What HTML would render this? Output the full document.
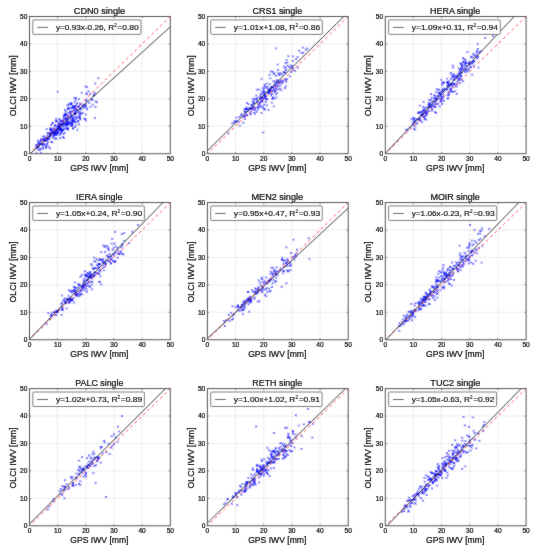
<!DOCTYPE html><html><head><meta charset="utf-8"><style>html,body{margin:0;padding:0;background:#fff;}svg{display:block;will-change:transform;}text{font-family:"Liberation Sans",sans-serif;fill:#111;stroke:#111;stroke-width:0.24;}</style></head><body>
<svg width="537" height="550" viewBox="0 0 537 550">
<defs><filter id="soft" x="0" y="0" width="537" height="550" filterUnits="userSpaceOnUse" color-interpolation-filters="sRGB"><feConvolveMatrix order="3" kernelMatrix="0.015 0.075 0.015 0.075 0.64 0.075 0.015 0.075 0.015" divisor="1" edgeMode="duplicate" preserveAlpha="true"/></filter></defs>
<g filter="url(#soft)">
<rect width="537" height="550" fill="#fff"/>
<clipPath id="c0"><rect x="29.50" y="16.50" width="140.80" height="137.20"/></clipPath>
<path d="M57.66 16.50V153.70M85.82 16.50V153.70M113.98 16.50V153.70M142.14 16.50V153.70" stroke="#d8d8d8" stroke-width="0.90" stroke-dasharray="1 1" stroke-dashoffset="1.50" fill="none"/>
<path d="M29.50 126.26H170.30M29.50 98.82H170.30M29.50 71.38H170.30M29.50 43.94H170.30" stroke="#d8d8d8" stroke-width="0.90" stroke-dasharray="1 1" stroke-dashoffset="1.50" fill="none"/>
<path d="M59.5 128.2l1.9 1.9M59.5 130.1l1.9 -1.9M75.2 108.4l1.9 1.9M75.2 110.3l1.9 -1.9M55.1 137.6l1.9 1.9M55.1 139.5l1.9 -1.9M52.4 128.8l1.9 1.9M52.4 130.7l1.9 -1.9M40.1 139.6l1.9 1.9M40.1 141.5l1.9 -1.9M43.6 144.3l1.9 1.9M43.6 146.2l1.9 -1.9M45.5 143.5l1.9 1.9M45.5 145.4l1.9 -1.9M51.9 132.0l1.9 1.9M51.9 133.9l1.9 -1.9M59.1 137.2l1.9 1.9M59.1 139.1l1.9 -1.9M54.1 132.3l1.9 1.9M54.1 134.2l1.9 -1.9M70.7 122.1l1.9 1.9M70.7 124.0l1.9 -1.9M43.2 137.5l1.9 1.9M43.2 139.4l1.9 -1.9M92.7 94.5l1.9 1.9M92.7 96.4l1.9 -1.9M37.8 141.4l1.9 1.9M37.8 143.3l1.9 -1.9M63.6 131.9l1.9 1.9M63.6 133.8l1.9 -1.9M55.5 129.0l1.9 1.9M55.5 130.9l1.9 -1.9M56.6 128.6l1.9 1.9M56.6 130.5l1.9 -1.9M39.7 147.7l1.9 1.9M39.7 149.6l1.9 -1.9M39.1 149.3l1.9 1.9M39.1 151.2l1.9 -1.9M72.2 118.4l1.9 1.9M72.2 120.3l1.9 -1.9M76.4 129.0l1.9 1.9M76.4 130.9l1.9 -1.9M52.8 127.1l1.9 1.9M52.8 129.0l1.9 -1.9M59.6 129.5l1.9 1.9M59.6 131.4l1.9 -1.9M74.9 124.4l1.9 1.9M74.9 126.3l1.9 -1.9M67.2 108.4l1.9 1.9M67.2 110.3l1.9 -1.9M38.1 142.6l1.9 1.9M38.1 144.5l1.9 -1.9M42.6 139.2l1.9 1.9M42.6 141.1l1.9 -1.9M37.1 143.2l1.9 1.9M37.1 145.1l1.9 -1.9M75.7 109.6l1.9 1.9M75.7 111.5l1.9 -1.9M47.0 132.6l1.9 1.9M47.0 134.5l1.9 -1.9M60.9 130.3l1.9 1.9M60.9 132.2l1.9 -1.9M79.0 110.6l1.9 1.9M79.0 112.5l1.9 -1.9M58.9 124.2l1.9 1.9M58.9 126.1l1.9 -1.9M54.9 134.1l1.9 1.9M54.9 136.0l1.9 -1.9M58.4 122.0l1.9 1.9M58.4 123.9l1.9 -1.9M71.0 121.3l1.9 1.9M71.0 123.2l1.9 -1.9M77.9 98.2l1.9 1.9M77.9 100.1l1.9 -1.9M41.6 144.4l1.9 1.9M41.6 146.3l1.9 -1.9M72.9 105.9l1.9 1.9M72.9 107.8l1.9 -1.9M89.3 92.8l1.9 1.9M89.3 94.7l1.9 -1.9M69.8 119.0l1.9 1.9M69.8 120.9l1.9 -1.9M46.7 131.9l1.9 1.9M46.7 133.8l1.9 -1.9M77.8 105.4l1.9 1.9M77.8 107.3l1.9 -1.9M46.8 141.0l1.9 1.9M46.8 142.9l1.9 -1.9M61.3 128.6l1.9 1.9M61.3 130.5l1.9 -1.9M67.4 112.0l1.9 1.9M67.4 113.9l1.9 -1.9M59.7 120.1l1.9 1.9M59.7 122.0l1.9 -1.9M51.9 122.0l1.9 1.9M51.9 123.9l1.9 -1.9M44.9 137.1l1.9 1.9M44.9 139.0l1.9 -1.9M36.5 146.6l1.9 1.9M36.5 148.5l1.9 -1.9M64.3 113.5l1.9 1.9M64.3 115.4l1.9 -1.9M43.0 139.0l1.9 1.9M43.0 140.9l1.9 -1.9M43.6 135.3l1.9 1.9M43.6 137.2l1.9 -1.9M59.1 128.5l1.9 1.9M59.1 130.4l1.9 -1.9M46.3 139.0l1.9 1.9M46.3 140.9l1.9 -1.9M57.8 125.7l1.9 1.9M57.8 127.6l1.9 -1.9M42.0 147.9l1.9 1.9M42.0 149.8l1.9 -1.9M67.1 128.5l1.9 1.9M67.1 130.4l1.9 -1.9M58.5 126.7l1.9 1.9M58.5 128.6l1.9 -1.9M39.9 152.1l1.9 1.9M39.9 154.0l1.9 -1.9M44.3 139.8l1.9 1.9M44.3 141.7l1.9 -1.9M73.8 96.9l1.9 1.9M73.8 98.8l1.9 -1.9M54.1 124.1l1.9 1.9M54.1 126.0l1.9 -1.9M55.3 120.0l1.9 1.9M55.3 121.9l1.9 -1.9M59.3 128.9l1.9 1.9M59.3 130.8l1.9 -1.9M63.3 128.0l1.9 1.9M63.3 129.9l1.9 -1.9M66.0 124.3l1.9 1.9M66.0 126.2l1.9 -1.9M60.4 130.7l1.9 1.9M60.4 132.6l1.9 -1.9M80.4 108.4l1.9 1.9M80.4 110.3l1.9 -1.9M45.7 128.2l1.9 1.9M45.7 130.1l1.9 -1.9M52.3 134.7l1.9 1.9M52.3 136.6l1.9 -1.9M69.9 103.3l1.9 1.9M69.9 105.2l1.9 -1.9M66.2 121.9l1.9 1.9M66.2 123.8l1.9 -1.9M42.0 135.5l1.9 1.9M42.0 137.4l1.9 -1.9M75.2 118.0l1.9 1.9M75.2 119.9l1.9 -1.9M46.6 134.7l1.9 1.9M46.6 136.6l1.9 -1.9M70.2 113.4l1.9 1.9M70.2 115.3l1.9 -1.9M72.5 117.9l1.9 1.9M72.5 119.8l1.9 -1.9M74.6 112.7l1.9 1.9M74.6 114.6l1.9 -1.9M72.8 118.8l1.9 1.9M72.8 120.7l1.9 -1.9M76.0 116.8l1.9 1.9M76.0 118.7l1.9 -1.9M52.6 137.4l1.9 1.9M52.6 139.3l1.9 -1.9M50.1 127.8l1.9 1.9M50.1 129.7l1.9 -1.9M71.0 110.4l1.9 1.9M71.0 112.3l1.9 -1.9M56.0 127.1l1.9 1.9M56.0 129.0l1.9 -1.9M81.7 112.2l1.9 1.9M81.7 114.1l1.9 -1.9M67.8 107.5l1.9 1.9M67.8 109.4l1.9 -1.9M61.7 125.7l1.9 1.9M61.7 127.6l1.9 -1.9M47.8 145.9l1.9 1.9M47.8 147.8l1.9 -1.9M71.3 124.7l1.9 1.9M71.3 126.6l1.9 -1.9M60.4 132.3l1.9 1.9M60.4 134.2l1.9 -1.9M62.3 123.2l1.9 1.9M62.3 125.1l1.9 -1.9M61.1 120.6l1.9 1.9M61.1 122.5l1.9 -1.9M50.3 124.0l1.9 1.9M50.3 125.9l1.9 -1.9M74.0 116.1l1.9 1.9M74.0 118.0l1.9 -1.9M58.8 118.7l1.9 1.9M58.8 120.6l1.9 -1.9M40.0 143.0l1.9 1.9M40.0 144.9l1.9 -1.9M64.9 118.7l1.9 1.9M64.9 120.6l1.9 -1.9M42.7 139.3l1.9 1.9M42.7 141.2l1.9 -1.9M57.7 127.8l1.9 1.9M57.7 129.7l1.9 -1.9M74.0 126.2l1.9 1.9M74.0 128.1l1.9 -1.9M60.9 129.1l1.9 1.9M60.9 131.0l1.9 -1.9M75.4 121.3l1.9 1.9M75.4 123.2l1.9 -1.9M69.3 116.9l1.9 1.9M69.3 118.8l1.9 -1.9M37.7 145.1l1.9 1.9M37.7 147.0l1.9 -1.9M82.5 105.3l1.9 1.9M82.5 107.2l1.9 -1.9M61.5 124.2l1.9 1.9M61.5 126.1l1.9 -1.9M88.3 101.9l1.9 1.9M88.3 103.8l1.9 -1.9M37.7 146.6l1.9 1.9M37.7 148.5l1.9 -1.9M44.1 139.2l1.9 1.9M44.1 141.1l1.9 -1.9M84.3 118.0l1.9 1.9M84.3 119.9l1.9 -1.9M68.6 122.6l1.9 1.9M68.6 124.5l1.9 -1.9M49.4 127.6l1.9 1.9M49.4 129.5l1.9 -1.9M69.5 112.8l1.9 1.9M69.5 114.7l1.9 -1.9M74.9 97.2l1.9 1.9M74.9 99.1l1.9 -1.9M80.1 112.4l1.9 1.9M80.1 114.3l1.9 -1.9M77.2 109.5l1.9 1.9M77.2 111.4l1.9 -1.9M37.3 148.9l1.9 1.9M37.3 150.8l1.9 -1.9M36.2 145.0l1.9 1.9M36.2 146.9l1.9 -1.9M37.7 142.7l1.9 1.9M37.7 144.6l1.9 -1.9M41.7 143.3l1.9 1.9M41.7 145.2l1.9 -1.9M70.6 103.2l1.9 1.9M70.6 105.1l1.9 -1.9M52.2 130.9l1.9 1.9M52.2 132.8l1.9 -1.9M66.6 118.1l1.9 1.9M66.6 120.0l1.9 -1.9M70.8 106.7l1.9 1.9M70.8 108.6l1.9 -1.9M35.6 152.0l1.9 1.9M35.6 153.9l1.9 -1.9M53.6 131.6l1.9 1.9M53.6 133.5l1.9 -1.9M60.5 128.2l1.9 1.9M60.5 130.1l1.9 -1.9M85.8 93.2l1.9 1.9M85.8 95.1l1.9 -1.9M53.5 131.2l1.9 1.9M53.5 133.1l1.9 -1.9M65.1 118.4l1.9 1.9M65.1 120.3l1.9 -1.9M53.1 133.8l1.9 1.9M53.1 135.7l1.9 -1.9M67.9 103.2l1.9 1.9M67.9 105.1l1.9 -1.9M59.4 125.2l1.9 1.9M59.4 127.1l1.9 -1.9M69.1 111.2l1.9 1.9M69.1 113.1l1.9 -1.9M85.7 98.8l1.9 1.9M85.7 100.7l1.9 -1.9M63.0 125.6l1.9 1.9M63.0 127.5l1.9 -1.9M36.9 139.8l1.9 1.9M36.9 141.7l1.9 -1.9M40.1 143.0l1.9 1.9M40.1 144.9l1.9 -1.9M48.6 138.0l1.9 1.9M48.6 139.9l1.9 -1.9M39.1 140.6l1.9 1.9M39.1 142.5l1.9 -1.9M45.0 145.9l1.9 1.9M45.0 147.8l1.9 -1.9M56.6 130.9l1.9 1.9M56.6 132.8l1.9 -1.9M72.9 109.3l1.9 1.9M72.9 111.2l1.9 -1.9M65.0 113.1l1.9 1.9M65.0 115.0l1.9 -1.9M38.2 143.5l1.9 1.9M38.2 145.4l1.9 -1.9M47.9 137.6l1.9 1.9M47.9 139.5l1.9 -1.9M74.2 113.1l1.9 1.9M74.2 115.0l1.9 -1.9M58.8 128.2l1.9 1.9M58.8 130.1l1.9 -1.9M40.9 143.2l1.9 1.9M40.9 145.1l1.9 -1.9M51.2 122.4l1.9 1.9M51.2 124.3l1.9 -1.9M64.7 124.0l1.9 1.9M64.7 125.9l1.9 -1.9M52.4 135.9l1.9 1.9M52.4 137.8l1.9 -1.9M68.5 122.7l1.9 1.9M68.5 124.6l1.9 -1.9M82.8 106.9l1.9 1.9M82.8 108.8l1.9 -1.9M66.9 115.2l1.9 1.9M66.9 117.1l1.9 -1.9M45.9 144.7l1.9 1.9M45.9 146.6l1.9 -1.9M50.4 141.1l1.9 1.9M50.4 143.0l1.9 -1.9M55.5 132.5l1.9 1.9M55.5 134.4l1.9 -1.9M65.0 127.0l1.9 1.9M65.0 128.9l1.9 -1.9M45.7 136.9l1.9 1.9M45.7 138.8l1.9 -1.9M36.1 146.6l1.9 1.9M36.1 148.5l1.9 -1.9M45.9 138.8l1.9 1.9M45.9 140.7l1.9 -1.9M66.8 108.2l1.9 1.9M66.8 110.1l1.9 -1.9M57.3 123.8l1.9 1.9M57.3 125.7l1.9 -1.9M64.3 117.7l1.9 1.9M64.3 119.6l1.9 -1.9M51.6 131.6l1.9 1.9M51.6 133.5l1.9 -1.9M72.1 127.5l1.9 1.9M72.1 129.4l1.9 -1.9M61.1 129.8l1.9 1.9M61.1 131.7l1.9 -1.9M55.1 117.9l1.9 1.9M55.1 119.8l1.9 -1.9M47.4 137.3l1.9 1.9M47.4 139.2l1.9 -1.9M61.8 121.5l1.9 1.9M61.8 123.4l1.9 -1.9M58.7 125.2l1.9 1.9M58.7 127.1l1.9 -1.9M49.2 127.8l1.9 1.9M49.2 129.7l1.9 -1.9M48.9 132.5l1.9 1.9M48.9 134.4l1.9 -1.9M66.3 116.6l1.9 1.9M66.3 118.5l1.9 -1.9M49.5 133.8l1.9 1.9M49.5 135.7l1.9 -1.9M79.9 103.4l1.9 1.9M79.9 105.3l1.9 -1.9M49.2 132.8l1.9 1.9M49.2 134.7l1.9 -1.9M64.7 116.8l1.9 1.9M64.7 118.7l1.9 -1.9M50.6 130.4l1.9 1.9M50.6 132.3l1.9 -1.9M62.1 120.5l1.9 1.9M62.1 122.4l1.9 -1.9M66.1 124.2l1.9 1.9M66.1 126.1l1.9 -1.9M84.3 105.0l1.9 1.9M84.3 106.9l1.9 -1.9M48.7 134.6l1.9 1.9M48.7 136.5l1.9 -1.9M35.1 144.1l1.9 1.9M35.1 146.0l1.9 -1.9M62.9 114.6l1.9 1.9M62.9 116.5l1.9 -1.9M72.2 115.9l1.9 1.9M72.2 117.8l1.9 -1.9M80.7 91.8l1.9 1.9M80.7 93.7l1.9 -1.9M87.5 90.3l1.9 1.9M87.5 92.2l1.9 -1.9M41.9 146.4l1.9 1.9M41.9 148.3l1.9 -1.9M69.7 121.6l1.9 1.9M69.7 123.5l1.9 -1.9M78.9 113.8l1.9 1.9M78.9 115.7l1.9 -1.9M79.9 106.7l1.9 1.9M79.9 108.6l1.9 -1.9M69.7 103.3l1.9 1.9M69.7 105.2l1.9 -1.9M73.9 106.9l1.9 1.9M73.9 108.8l1.9 -1.9M57.1 125.3l1.9 1.9M57.1 127.2l1.9 -1.9M55.8 129.0l1.9 1.9M55.8 130.9l1.9 -1.9M53.5 134.6l1.9 1.9M53.5 136.5l1.9 -1.9M63.9 113.5l1.9 1.9M63.9 115.4l1.9 -1.9M59.0 122.7l1.9 1.9M59.0 124.6l1.9 -1.9M70.0 101.8l1.9 1.9M70.0 103.7l1.9 -1.9M84.5 105.7l1.9 1.9M84.5 107.6l1.9 -1.9M57.9 123.7l1.9 1.9M57.9 125.6l1.9 -1.9M73.5 113.1l1.9 1.9M73.5 115.0l1.9 -1.9M51.8 132.8l1.9 1.9M51.8 134.7l1.9 -1.9M40.2 139.5l1.9 1.9M40.2 141.4l1.9 -1.9M61.2 123.8l1.9 1.9M61.2 125.7l1.9 -1.9M50.9 129.7l1.9 1.9M50.9 131.6l1.9 -1.9M79.3 118.6l1.9 1.9M79.3 120.5l1.9 -1.9M84.8 113.5l1.9 1.9M84.8 115.4l1.9 -1.9M55.5 120.2l1.9 1.9M55.5 122.1l1.9 -1.9M94.9 100.4l1.9 1.9M94.9 102.3l1.9 -1.9M54.6 137.8l1.9 1.9M54.6 139.7l1.9 -1.9M58.4 118.2l1.9 1.9M58.4 120.1l1.9 -1.9M63.3 115.1l1.9 1.9M63.3 117.0l1.9 -1.9M68.0 121.3l1.9 1.9M68.0 123.2l1.9 -1.9M49.5 132.4l1.9 1.9M49.5 134.3l1.9 -1.9M83.4 117.7l1.9 1.9M83.4 119.6l1.9 -1.9M61.9 128.9l1.9 1.9M61.9 130.8l1.9 -1.9M62.1 120.4l1.9 1.9M62.1 122.3l1.9 -1.9M64.7 110.9l1.9 1.9M64.7 112.8l1.9 -1.9M54.5 131.3l1.9 1.9M54.5 133.2l1.9 -1.9M49.3 131.9l1.9 1.9M49.3 133.8l1.9 -1.9M66.2 124.3l1.9 1.9M66.2 126.2l1.9 -1.9M74.4 104.8l1.9 1.9M74.4 106.7l1.9 -1.9M66.9 118.7l1.9 1.9M66.9 120.6l1.9 -1.9M43.7 139.7l1.9 1.9M43.7 141.6l1.9 -1.9M56.3 125.1l1.9 1.9M56.3 127.0l1.9 -1.9M70.4 114.3l1.9 1.9M70.4 116.2l1.9 -1.9M74.1 111.2l1.9 1.9M74.1 113.1l1.9 -1.9M72.1 105.2l1.9 1.9M72.1 107.1l1.9 -1.9M54.0 125.0l1.9 1.9M54.0 126.9l1.9 -1.9M40.1 138.3l1.9 1.9M40.1 140.2l1.9 -1.9M63.9 114.0l1.9 1.9M63.9 115.9l1.9 -1.9M62.8 116.8l1.9 1.9M62.8 118.7l1.9 -1.9M70.5 115.9l1.9 1.9M70.5 117.8l1.9 -1.9M77.7 105.4l1.9 1.9M77.7 107.3l1.9 -1.9M58.8 134.2l1.9 1.9M58.8 136.1l1.9 -1.9M52.1 128.6l1.9 1.9M52.1 130.5l1.9 -1.9M64.1 109.0l1.9 1.9M64.1 110.9l1.9 -1.9M51.3 141.3l1.9 1.9M51.3 143.2l1.9 -1.9M74.4 105.6l1.9 1.9M74.4 107.5l1.9 -1.9M54.2 129.5l1.9 1.9M54.2 131.4l1.9 -1.9M79.6 112.7l1.9 1.9M79.6 114.6l1.9 -1.9M69.1 115.5l1.9 1.9M69.1 117.4l1.9 -1.9M75.1 109.4l1.9 1.9M75.1 111.3l1.9 -1.9M49.7 129.4l1.9 1.9M49.7 131.3l1.9 -1.9M66.8 127.1l1.9 1.9M66.8 129.0l1.9 -1.9M59.8 120.1l1.9 1.9M59.8 122.0l1.9 -1.9M66.5 104.0l1.9 1.9M66.5 105.9l1.9 -1.9M63.0 136.9l1.9 1.9M63.0 138.8l1.9 -1.9M49.1 135.1l1.9 1.9M49.1 137.0l1.9 -1.9M78.5 116.1l1.9 1.9M78.5 118.0l1.9 -1.9M74.3 113.3l1.9 1.9M74.3 115.2l1.9 -1.9M46.8 137.9l1.9 1.9M46.8 139.8l1.9 -1.9M85.5 92.4l1.9 1.9M85.5 94.3l1.9 -1.9M55.4 131.2l1.9 1.9M55.4 133.1l1.9 -1.9M95.7 101.4l1.9 1.9M95.7 103.3l1.9 -1.9M65.7 121.0l1.9 1.9M65.7 122.9l1.9 -1.9M49.6 134.2l1.9 1.9M49.6 136.1l1.9 -1.9M54.9 128.9l1.9 1.9M54.9 130.8l1.9 -1.9M64.7 122.5l1.9 1.9M64.7 124.4l1.9 -1.9M70.3 116.1l1.9 1.9M70.3 118.0l1.9 -1.9M71.5 107.0l1.9 1.9M71.5 108.9l1.9 -1.9M44.9 147.1l1.9 1.9M44.9 149.0l1.9 -1.9M63.5 122.8l1.9 1.9M63.5 124.7l1.9 -1.9M49.9 132.7l1.9 1.9M49.9 134.6l1.9 -1.9M73.5 101.4l1.9 1.9M73.5 103.3l1.9 -1.9M66.5 120.6l1.9 1.9M66.5 122.5l1.9 -1.9M63.5 121.6l1.9 1.9M63.5 123.5l1.9 -1.9M94.5 106.0l1.9 1.9M94.5 107.9l1.9 -1.9M84.9 103.8l1.9 1.9M84.9 105.7l1.9 -1.9M81.5 104.5l1.9 1.9M81.5 106.4l1.9 -1.9M58.1 128.5l1.9 1.9M58.1 130.4l1.9 -1.9M65.3 119.7l1.9 1.9M65.3 121.6l1.9 -1.9M58.1 122.3l1.9 1.9M58.1 124.2l1.9 -1.9M58.8 127.0l1.9 1.9M58.8 128.9l1.9 -1.9M76.4 115.6l1.9 1.9M76.4 117.5l1.9 -1.9M48.8 135.8l1.9 1.9M48.8 137.7l1.9 -1.9M59.2 125.4l1.9 1.9M59.2 127.3l1.9 -1.9M72.0 106.1l1.9 1.9M72.0 108.0l1.9 -1.9M61.1 123.2l1.9 1.9M61.1 125.1l1.9 -1.9M62.3 123.2l1.9 1.9M62.3 125.1l1.9 -1.9M74.4 112.1l1.9 1.9M74.4 114.0l1.9 -1.9M51.1 131.7l1.9 1.9M51.1 133.6l1.9 -1.9M35.0 146.6l1.9 1.9M35.0 148.5l1.9 -1.9M53.3 130.6l1.9 1.9M53.3 132.5l1.9 -1.9M71.6 117.6l1.9 1.9M71.6 119.5l1.9 -1.9M42.3 137.6l1.9 1.9M42.3 139.5l1.9 -1.9M73.6 121.1l1.9 1.9M73.6 123.0l1.9 -1.9M60.2 123.1l1.9 1.9M60.2 125.0l1.9 -1.9M71.6 110.2l1.9 1.9M71.6 112.1l1.9 -1.9M56.2 132.1l1.9 1.9M56.2 134.0l1.9 -1.9M53.8 132.8l1.9 1.9M53.8 134.7l1.9 -1.9M57.2 131.2l1.9 1.9M57.2 133.1l1.9 -1.9M71.1 123.1l1.9 1.9M71.1 125.0l1.9 -1.9M66.9 127.8l1.9 1.9M66.9 129.7l1.9 -1.9M63.5 113.7l1.9 1.9M63.5 115.6l1.9 -1.9M66.0 128.3l1.9 1.9M66.0 130.2l1.9 -1.9M66.4 124.5l1.9 1.9M66.4 126.4l1.9 -1.9M73.6 120.4l1.9 1.9M73.6 122.3l1.9 -1.9M73.5 106.6l1.9 1.9M73.5 108.5l1.9 -1.9M71.4 120.2l1.9 1.9M71.4 122.1l1.9 -1.9M77.1 119.9l1.9 1.9M77.1 121.8l1.9 -1.9M93.9 117.0l1.9 1.9M93.9 118.9l1.9 -1.9M44.7 139.5l1.9 1.9M44.7 141.4l1.9 -1.9M91.3 99.0l1.9 1.9M91.3 100.9l1.9 -1.9M67.4 106.3l1.9 1.9M67.4 108.2l1.9 -1.9M69.4 107.3l1.9 1.9M69.4 109.2l1.9 -1.9M91.7 103.8l1.9 1.9M91.7 105.7l1.9 -1.9M66.9 116.9l1.9 1.9M66.9 118.8l1.9 -1.9M83.0 103.5l1.9 1.9M83.0 105.4l1.9 -1.9M59.6 132.4l1.9 1.9M59.6 134.3l1.9 -1.9M77.0 111.6l1.9 1.9M77.0 113.5l1.9 -1.9M55.5 134.0l1.9 1.9M55.5 135.9l1.9 -1.9M77.7 106.1l1.9 1.9M77.7 108.0l1.9 -1.9M73.5 106.5l1.9 1.9M73.5 108.4l1.9 -1.9M67.8 123.2l1.9 1.9M67.8 125.1l1.9 -1.9M49.9 129.1l1.9 1.9M49.9 131.0l1.9 -1.9M73.8 112.4l1.9 1.9M73.8 114.3l1.9 -1.9M71.5 119.2l1.9 1.9M71.5 121.1l1.9 -1.9M85.6 106.7l1.9 1.9M85.6 108.6l1.9 -1.9M57.2 127.6l1.9 1.9M57.2 129.5l1.9 -1.9M70.5 124.8l1.9 1.9M70.5 126.7l1.9 -1.9M69.3 121.6l1.9 1.9M69.3 123.5l1.9 -1.9M57.4 126.3l1.9 1.9M57.4 128.2l1.9 -1.9M56.4 132.8l1.9 1.9M56.4 134.7l1.9 -1.9M64.3 124.0l1.9 1.9M64.3 125.9l1.9 -1.9M85.2 100.0l1.9 1.9M85.2 101.9l1.9 -1.9M52.6 132.2l1.9 1.9M52.6 134.1l1.9 -1.9M58.6 128.0l1.9 1.9M58.6 129.9l1.9 -1.9M86.2 108.5l1.9 1.9M86.2 110.4l1.9 -1.9M55.6 120.9l1.9 1.9M55.6 122.8l1.9 -1.9M79.2 102.8l1.9 1.9M79.2 104.7l1.9 -1.9M78.1 123.3l1.9 1.9M78.1 125.2l1.9 -1.9M46.3 142.9l1.9 1.9M46.3 144.8l1.9 -1.9M78.8 114.9l1.9 1.9M78.8 116.8l1.9 -1.9M69.6 124.6l1.9 1.9M69.6 126.5l1.9 -1.9M77.2 120.3l1.9 1.9M77.2 122.2l1.9 -1.9M56.8 130.1l1.9 1.9M56.8 132.0l1.9 -1.9M93.4 94.0l1.9 1.9M93.4 95.9l1.9 -1.9M62.5 129.2l1.9 1.9M62.5 131.1l1.9 -1.9M62.1 119.6l1.9 1.9M62.1 121.5l1.9 -1.9M71.5 123.6l1.9 1.9M71.5 125.5l1.9 -1.9M61.9 136.2l1.9 1.9M61.9 138.1l1.9 -1.9M78.9 117.2l1.9 1.9M78.9 119.1l1.9 -1.9M49.2 147.5l1.9 1.9M49.2 149.4l1.9 -1.9M89.6 105.8l1.9 1.9M89.6 107.7l1.9 -1.9M72.5 105.4l1.9 1.9M72.5 107.3l1.9 -1.9M53.5 132.8l1.9 1.9M53.5 134.7l1.9 -1.9M66.4 122.6l1.9 1.9M66.4 124.5l1.9 -1.9M66.2 114.1l1.9 1.9M66.2 116.0l1.9 -1.9M79.0 108.1l1.9 1.9M79.0 110.0l1.9 -1.9M46.2 136.7l1.9 1.9M46.2 138.6l1.9 -1.9M78.9 117.1l1.9 1.9M78.9 119.0l1.9 -1.9M71.9 127.5l1.9 1.9M71.9 129.4l1.9 -1.9M69.2 111.0l1.9 1.9M69.2 112.9l1.9 -1.9M73.7 108.1l1.9 1.9M73.7 110.0l1.9 -1.9M43.1 143.1l1.9 1.9M43.1 145.0l1.9 -1.9M84.6 85.5l1.9 1.9M84.6 87.4l1.9 -1.9M62.6 118.5l1.9 1.9M62.6 120.4l1.9 -1.9M74.9 107.6l1.9 1.9M74.9 109.5l1.9 -1.9M90.8 98.4l1.9 1.9M90.8 100.3l1.9 -1.9M73.0 120.7l1.9 1.9M73.0 122.6l1.9 -1.9M58.5 124.6l1.9 1.9M58.5 126.5l1.9 -1.9M60.2 127.5l1.9 1.9M60.2 129.4l1.9 -1.9M85.1 119.5l1.9 1.9M85.1 121.4l1.9 -1.9M67.1 120.7l1.9 1.9M67.1 122.6l1.9 -1.9M57.6 132.0l1.9 1.9M57.6 133.9l1.9 -1.9M71.1 122.4l1.9 1.9M71.1 124.3l1.9 -1.9M66.0 122.3l1.9 1.9M66.0 124.2l1.9 -1.9M78.4 112.4l1.9 1.9M78.4 114.3l1.9 -1.9M67.5 122.6l1.9 1.9M67.5 124.5l1.9 -1.9M74.7 99.2l1.9 1.9M74.7 101.1l1.9 -1.9M72.2 119.9l1.9 1.9M72.2 121.8l1.9 -1.9M76.3 102.1l1.9 1.9M76.3 104.0l1.9 -1.9M62.7 133.0l1.9 1.9M62.7 134.9l1.9 -1.9M75.6 104.0l1.9 1.9M75.6 105.9l1.9 -1.9M93.7 91.9l1.9 1.9M93.7 93.8l1.9 -1.9M56.7 90.7l1.9 1.9M56.7 92.6l1.9 -1.9M94.4 82.5l1.9 1.9M94.4 84.4l1.9 -1.9M86.0 86.3l1.9 1.9M86.0 88.2l1.9 -1.9M97.5 77.3l1.9 1.9M97.5 79.2l1.9 -1.9" stroke="#0000ff" stroke-width="1.00" stroke-opacity="0.55" fill="none" clip-path="url(#c0)"/>
<path d="M29.50 153.70L170.30 16.50" stroke="#ff4455" stroke-width="0.95" stroke-opacity="1" stroke-dasharray="2.965 2.965" stroke-dashoffset="1.48" fill="none" clip-path="url(#c0)"/>
<path d="M29.50 154.41L170.30 26.82" stroke="#222" stroke-width="0.85" fill="none" clip-path="url(#c0)"/>
<path d="M57.66 153.70v-1.5M57.66 16.50v1.5M29.50 126.26h1.5M170.30 126.26h-1.5M85.82 153.70v-1.5M85.82 16.50v1.5M29.50 98.82h1.5M170.30 98.82h-1.5M113.98 153.70v-1.5M113.98 16.50v1.5M29.50 71.38h1.5M170.30 71.38h-1.5M142.14 153.70v-1.5M142.14 16.50v1.5M29.50 43.94h1.5M170.30 43.94h-1.5" stroke="#333" stroke-width="0.6" fill="none"/>
<rect x="29.50" y="16.50" width="140.80" height="137.20" fill="none" stroke="#555" stroke-width="1"/>
<rect x="32.80" y="19.90" width="108.17" height="14.50" rx="1" fill="#fff" stroke="#707070" stroke-width="0.9"/>
<path d="M37.20 27.40H47.90" stroke="#333" stroke-width="0.75"/>
<clipPath id="c1"><rect x="207.40" y="16.50" width="140.80" height="137.20"/></clipPath>
<path d="M235.56 16.50V153.70M263.72 16.50V153.70M291.88 16.50V153.70M320.04 16.50V153.70" stroke="#d8d8d8" stroke-width="0.90" stroke-dasharray="1 1" stroke-dashoffset="1.50" fill="none"/>
<path d="M207.40 126.26H348.20M207.40 98.82H348.20M207.40 71.38H348.20M207.40 43.94H348.20" stroke="#d8d8d8" stroke-width="0.90" stroke-dasharray="1 1" stroke-dashoffset="1.40" fill="none"/>
<path d="M262.1 107.0l1.9 1.9M262.1 108.9l1.9 -1.9M237.8 120.9l1.9 1.9M237.8 122.8l1.9 -1.9M271.5 86.3l1.9 1.9M271.5 88.2l1.9 -1.9M255.3 94.5l1.9 1.9M255.3 96.4l1.9 -1.9M260.6 78.0l1.9 1.9M260.6 79.9l1.9 -1.9M275.7 80.5l1.9 1.9M275.7 82.4l1.9 -1.9M251.8 100.6l1.9 1.9M251.8 102.5l1.9 -1.9M262.6 93.0l1.9 1.9M262.6 94.9l1.9 -1.9M259.7 93.5l1.9 1.9M259.7 95.4l1.9 -1.9M257.6 105.0l1.9 1.9M257.6 106.9l1.9 -1.9M281.3 73.7l1.9 1.9M281.3 75.6l1.9 -1.9M269.4 77.4l1.9 1.9M269.4 79.3l1.9 -1.9M243.8 110.7l1.9 1.9M243.8 112.6l1.9 -1.9M275.7 87.4l1.9 1.9M275.7 89.3l1.9 -1.9M254.1 108.9l1.9 1.9M254.1 110.8l1.9 -1.9M272.1 96.6l1.9 1.9M272.1 98.5l1.9 -1.9M290.1 71.1l1.9 1.9M290.1 73.0l1.9 -1.9M265.4 95.6l1.9 1.9M265.4 97.5l1.9 -1.9M291.8 69.1l1.9 1.9M291.8 71.0l1.9 -1.9M242.4 121.9l1.9 1.9M242.4 123.8l1.9 -1.9M271.7 96.5l1.9 1.9M271.7 98.4l1.9 -1.9M244.8 111.1l1.9 1.9M244.8 113.0l1.9 -1.9M266.4 87.0l1.9 1.9M266.4 88.9l1.9 -1.9M245.3 114.4l1.9 1.9M245.3 116.3l1.9 -1.9M244.7 111.3l1.9 1.9M244.7 113.2l1.9 -1.9M272.5 80.2l1.9 1.9M272.5 82.1l1.9 -1.9M255.9 97.0l1.9 1.9M255.9 98.9l1.9 -1.9M248.3 106.7l1.9 1.9M248.3 108.6l1.9 -1.9M261.1 99.4l1.9 1.9M261.1 101.3l1.9 -1.9M261.4 105.3l1.9 1.9M261.4 107.2l1.9 -1.9M268.8 83.1l1.9 1.9M268.8 85.0l1.9 -1.9M262.9 90.1l1.9 1.9M262.9 92.0l1.9 -1.9M274.9 74.9l1.9 1.9M274.9 76.8l1.9 -1.9M269.1 90.9l1.9 1.9M269.1 92.8l1.9 -1.9M263.9 95.2l1.9 1.9M263.9 97.1l1.9 -1.9M261.2 99.4l1.9 1.9M261.2 101.3l1.9 -1.9M292.0 67.1l1.9 1.9M292.0 69.0l1.9 -1.9M273.0 87.1l1.9 1.9M273.0 89.0l1.9 -1.9M257.1 108.5l1.9 1.9M257.1 110.4l1.9 -1.9M271.7 70.9l1.9 1.9M271.7 72.8l1.9 -1.9M284.0 87.2l1.9 1.9M284.0 89.1l1.9 -1.9M268.7 73.9l1.9 1.9M268.7 75.8l1.9 -1.9M280.1 79.5l1.9 1.9M280.1 81.4l1.9 -1.9M273.6 72.6l1.9 1.9M273.6 74.5l1.9 -1.9M277.6 88.3l1.9 1.9M277.6 90.2l1.9 -1.9M256.1 88.7l1.9 1.9M256.1 90.6l1.9 -1.9M262.7 88.8l1.9 1.9M262.7 90.7l1.9 -1.9M278.5 73.4l1.9 1.9M278.5 75.3l1.9 -1.9M271.2 85.9l1.9 1.9M271.2 87.8l1.9 -1.9M290.9 65.0l1.9 1.9M290.9 66.9l1.9 -1.9M274.6 93.5l1.9 1.9M274.6 95.4l1.9 -1.9M252.9 106.6l1.9 1.9M252.9 108.5l1.9 -1.9M258.6 102.6l1.9 1.9M258.6 104.5l1.9 -1.9M279.2 87.6l1.9 1.9M279.2 89.5l1.9 -1.9M265.1 98.0l1.9 1.9M265.1 99.9l1.9 -1.9M240.8 113.2l1.9 1.9M240.8 115.1l1.9 -1.9M259.9 97.6l1.9 1.9M259.9 99.5l1.9 -1.9M243.0 114.9l1.9 1.9M243.0 116.8l1.9 -1.9M298.1 49.8l1.9 1.9M298.1 51.7l1.9 -1.9M294.1 69.9l1.9 1.9M294.1 71.8l1.9 -1.9M282.0 80.1l1.9 1.9M282.0 82.0l1.9 -1.9M269.9 86.5l1.9 1.9M269.9 88.4l1.9 -1.9M285.2 69.2l1.9 1.9M285.2 71.1l1.9 -1.9M263.5 94.5l1.9 1.9M263.5 96.4l1.9 -1.9M260.6 97.2l1.9 1.9M260.6 99.1l1.9 -1.9M267.5 91.5l1.9 1.9M267.5 93.4l1.9 -1.9M263.3 97.2l1.9 1.9M263.3 99.1l1.9 -1.9M243.3 115.4l1.9 1.9M243.3 117.3l1.9 -1.9M285.6 59.2l1.9 1.9M285.6 61.1l1.9 -1.9M265.6 98.8l1.9 1.9M265.6 100.7l1.9 -1.9M275.9 81.5l1.9 1.9M275.9 83.4l1.9 -1.9M255.8 106.5l1.9 1.9M255.8 108.4l1.9 -1.9M247.8 108.2l1.9 1.9M247.8 110.1l1.9 -1.9M263.7 83.7l1.9 1.9M263.7 85.6l1.9 -1.9M295.1 58.1l1.9 1.9M295.1 60.0l1.9 -1.9M285.0 78.2l1.9 1.9M285.0 80.1l1.9 -1.9M266.3 85.7l1.9 1.9M266.3 87.6l1.9 -1.9M253.9 112.8l1.9 1.9M253.9 114.7l1.9 -1.9M292.0 55.5l1.9 1.9M292.0 57.4l1.9 -1.9M258.7 96.6l1.9 1.9M258.7 98.5l1.9 -1.9M270.2 94.3l1.9 1.9M270.2 96.2l1.9 -1.9M242.4 116.0l1.9 1.9M242.4 117.9l1.9 -1.9M275.1 88.8l1.9 1.9M275.1 90.7l1.9 -1.9M265.8 104.4l1.9 1.9M265.8 106.3l1.9 -1.9M261.9 91.8l1.9 1.9M261.9 93.7l1.9 -1.9M271.1 93.1l1.9 1.9M271.1 95.0l1.9 -1.9M259.8 101.4l1.9 1.9M259.8 103.3l1.9 -1.9M267.5 88.8l1.9 1.9M267.5 90.7l1.9 -1.9M296.9 66.5l1.9 1.9M296.9 68.4l1.9 -1.9M234.6 121.1l1.9 1.9M234.6 123.0l1.9 -1.9M252.3 102.6l1.9 1.9M252.3 104.5l1.9 -1.9M238.8 124.7l1.9 1.9M238.8 126.6l1.9 -1.9M284.4 68.4l1.9 1.9M284.4 70.3l1.9 -1.9M272.7 73.0l1.9 1.9M272.7 74.9l1.9 -1.9M259.8 95.5l1.9 1.9M259.8 97.4l1.9 -1.9M260.0 93.4l1.9 1.9M260.0 95.3l1.9 -1.9M277.6 72.5l1.9 1.9M277.6 74.4l1.9 -1.9M271.6 89.2l1.9 1.9M271.6 91.1l1.9 -1.9M255.9 99.5l1.9 1.9M255.9 101.4l1.9 -1.9M286.0 78.5l1.9 1.9M286.0 80.4l1.9 -1.9M284.8 85.4l1.9 1.9M284.8 87.3l1.9 -1.9M244.6 108.1l1.9 1.9M244.6 110.0l1.9 -1.9M280.6 81.8l1.9 1.9M280.6 83.7l1.9 -1.9M279.0 81.4l1.9 1.9M279.0 83.3l1.9 -1.9M289.2 66.6l1.9 1.9M289.2 68.5l1.9 -1.9M263.6 91.4l1.9 1.9M263.6 93.3l1.9 -1.9M243.4 110.5l1.9 1.9M243.4 112.4l1.9 -1.9M287.6 65.8l1.9 1.9M287.6 67.7l1.9 -1.9M276.3 83.2l1.9 1.9M276.3 85.1l1.9 -1.9M252.8 99.7l1.9 1.9M252.8 101.6l1.9 -1.9M251.3 107.7l1.9 1.9M251.3 109.6l1.9 -1.9M290.2 64.6l1.9 1.9M290.2 66.5l1.9 -1.9M260.8 100.1l1.9 1.9M260.8 102.0l1.9 -1.9M270.8 86.0l1.9 1.9M270.8 87.9l1.9 -1.9M279.5 84.3l1.9 1.9M279.5 86.2l1.9 -1.9M284.6 62.2l1.9 1.9M284.6 64.1l1.9 -1.9M273.2 97.6l1.9 1.9M273.2 99.5l1.9 -1.9M254.0 107.2l1.9 1.9M254.0 109.1l1.9 -1.9M271.5 98.1l1.9 1.9M271.5 100.0l1.9 -1.9M261.1 100.6l1.9 1.9M261.1 102.5l1.9 -1.9M263.8 85.1l1.9 1.9M263.8 87.0l1.9 -1.9M271.4 90.4l1.9 1.9M271.4 92.3l1.9 -1.9M264.2 86.9l1.9 1.9M264.2 88.8l1.9 -1.9M250.0 108.2l1.9 1.9M250.0 110.1l1.9 -1.9M249.4 112.4l1.9 1.9M249.4 114.3l1.9 -1.9M258.9 104.5l1.9 1.9M258.9 106.4l1.9 -1.9M235.5 120.0l1.9 1.9M235.5 121.9l1.9 -1.9M277.5 72.5l1.9 1.9M277.5 74.4l1.9 -1.9M252.9 101.8l1.9 1.9M252.9 103.7l1.9 -1.9M238.5 116.0l1.9 1.9M238.5 117.9l1.9 -1.9M244.1 118.0l1.9 1.9M244.1 119.9l1.9 -1.9M249.4 107.2l1.9 1.9M249.4 109.1l1.9 -1.9M257.4 106.5l1.9 1.9M257.4 108.4l1.9 -1.9M227.4 132.5l1.9 1.9M227.4 134.4l1.9 -1.9M264.1 96.8l1.9 1.9M264.1 98.7l1.9 -1.9M266.1 98.2l1.9 1.9M266.1 100.1l1.9 -1.9M304.9 48.7l1.9 1.9M304.9 50.6l1.9 -1.9M279.5 80.5l1.9 1.9M279.5 82.4l1.9 -1.9M265.7 82.5l1.9 1.9M265.7 84.4l1.9 -1.9M269.3 89.3l1.9 1.9M269.3 91.2l1.9 -1.9M273.6 81.3l1.9 1.9M273.6 83.2l1.9 -1.9M256.2 101.5l1.9 1.9M256.2 103.4l1.9 -1.9M232.9 121.6l1.9 1.9M232.9 123.5l1.9 -1.9M255.7 98.0l1.9 1.9M255.7 99.9l1.9 -1.9M264.2 93.0l1.9 1.9M264.2 94.9l1.9 -1.9M270.0 70.5l1.9 1.9M270.0 72.4l1.9 -1.9M255.9 110.8l1.9 1.9M255.9 112.7l1.9 -1.9M252.4 108.7l1.9 1.9M252.4 110.6l1.9 -1.9M263.5 108.8l1.9 1.9M263.5 110.7l1.9 -1.9M268.9 91.1l1.9 1.9M268.9 93.0l1.9 -1.9M277.6 85.2l1.9 1.9M277.6 87.1l1.9 -1.9M263.9 95.3l1.9 1.9M263.9 97.2l1.9 -1.9M275.4 96.6l1.9 1.9M275.4 98.5l1.9 -1.9M251.1 107.2l1.9 1.9M251.1 109.1l1.9 -1.9M281.7 81.9l1.9 1.9M281.7 83.8l1.9 -1.9M267.0 92.0l1.9 1.9M267.0 93.9l1.9 -1.9M245.0 108.2l1.9 1.9M245.0 110.1l1.9 -1.9M263.7 107.8l1.9 1.9M263.7 109.7l1.9 -1.9M269.8 88.4l1.9 1.9M269.8 90.3l1.9 -1.9M250.0 108.2l1.9 1.9M250.0 110.1l1.9 -1.9M280.3 89.4l1.9 1.9M280.3 91.3l1.9 -1.9M262.4 98.0l1.9 1.9M262.4 99.9l1.9 -1.9M275.7 80.5l1.9 1.9M275.7 82.4l1.9 -1.9M251.2 104.3l1.9 1.9M251.2 106.2l1.9 -1.9M273.3 88.6l1.9 1.9M273.3 90.5l1.9 -1.9M280.3 72.3l1.9 1.9M280.3 74.2l1.9 -1.9M260.6 111.9l1.9 1.9M260.6 113.8l1.9 -1.9M264.8 101.2l1.9 1.9M264.8 103.1l1.9 -1.9M258.4 101.4l1.9 1.9M258.4 103.3l1.9 -1.9M273.7 84.6l1.9 1.9M273.7 86.5l1.9 -1.9M268.6 89.2l1.9 1.9M268.6 91.1l1.9 -1.9M276.5 79.0l1.9 1.9M276.5 80.9l1.9 -1.9M267.0 90.7l1.9 1.9M267.0 92.6l1.9 -1.9M246.6 108.5l1.9 1.9M246.6 110.4l1.9 -1.9M245.9 114.1l1.9 1.9M245.9 116.0l1.9 -1.9M260.5 99.4l1.9 1.9M260.5 101.3l1.9 -1.9M275.8 85.2l1.9 1.9M275.8 87.1l1.9 -1.9M306.3 47.6l1.9 1.9M306.3 49.5l1.9 -1.9M282.7 71.0l1.9 1.9M282.7 72.9l1.9 -1.9M257.7 103.3l1.9 1.9M257.7 105.2l1.9 -1.9M233.8 120.0l1.9 1.9M233.8 121.9l1.9 -1.9M276.8 63.6l1.9 1.9M276.8 65.5l1.9 -1.9M268.4 90.3l1.9 1.9M268.4 92.2l1.9 -1.9M247.6 103.1l1.9 1.9M247.6 105.0l1.9 -1.9M283.2 65.7l1.9 1.9M283.2 67.6l1.9 -1.9M268.2 88.0l1.9 1.9M268.2 89.9l1.9 -1.9M261.1 90.7l1.9 1.9M261.1 92.6l1.9 -1.9M235.5 116.6l1.9 1.9M235.5 118.5l1.9 -1.9M284.4 66.4l1.9 1.9M284.4 68.3l1.9 -1.9M269.3 91.4l1.9 1.9M269.3 93.3l1.9 -1.9M263.9 91.6l1.9 1.9M263.9 93.5l1.9 -1.9M251.9 97.8l1.9 1.9M251.9 99.7l1.9 -1.9M261.9 87.2l1.9 1.9M261.9 89.1l1.9 -1.9M289.0 75.5l1.9 1.9M289.0 77.4l1.9 -1.9M277.0 68.9l1.9 1.9M277.0 70.8l1.9 -1.9M302.0 46.7l1.9 1.9M302.0 48.6l1.9 -1.9M286.1 61.7l1.9 1.9M286.1 63.6l1.9 -1.9M274.0 90.0l1.9 1.9M274.0 91.9l1.9 -1.9M283.3 71.4l1.9 1.9M283.3 73.3l1.9 -1.9M270.9 101.6l1.9 1.9M270.9 103.5l1.9 -1.9M243.7 108.1l1.9 1.9M243.7 110.0l1.9 -1.9M258.0 88.6l1.9 1.9M258.0 90.5l1.9 -1.9M273.8 91.2l1.9 1.9M273.8 93.1l1.9 -1.9M252.4 105.8l1.9 1.9M252.4 107.7l1.9 -1.9M259.4 106.2l1.9 1.9M259.4 108.1l1.9 -1.9M247.1 109.9l1.9 1.9M247.1 111.8l1.9 -1.9M296.7 56.2l1.9 1.9M296.7 58.1l1.9 -1.9M245.9 108.0l1.9 1.9M245.9 109.9l1.9 -1.9M250.6 104.1l1.9 1.9M250.6 106.0l1.9 -1.9M253.2 111.6l1.9 1.9M253.2 113.5l1.9 -1.9M284.6 79.4l1.9 1.9M284.6 81.3l1.9 -1.9M287.3 55.3l1.9 1.9M287.3 57.2l1.9 -1.9M258.9 96.8l1.9 1.9M258.9 98.7l1.9 -1.9M278.0 82.0l1.9 1.9M278.0 83.9l1.9 -1.9M253.1 102.4l1.9 1.9M253.1 104.3l1.9 -1.9M268.3 92.8l1.9 1.9M268.3 94.7l1.9 -1.9M284.2 72.0l1.9 1.9M284.2 73.9l1.9 -1.9M267.5 108.9l1.9 1.9M267.5 110.8l1.9 -1.9M245.9 114.4l1.9 1.9M245.9 116.3l1.9 -1.9M263.2 103.8l1.9 1.9M263.2 105.7l1.9 -1.9M245.9 102.0l1.9 1.9M245.9 103.9l1.9 -1.9M231.3 122.4l1.9 1.9M231.3 124.3l1.9 -1.9M278.5 74.2l1.9 1.9M278.5 76.1l1.9 -1.9M278.1 80.8l1.9 1.9M278.1 82.7l1.9 -1.9M271.7 86.4l1.9 1.9M271.7 88.3l1.9 -1.9M285.2 80.8l1.9 1.9M285.2 82.7l1.9 -1.9M240.1 114.3l1.9 1.9M240.1 116.2l1.9 -1.9M291.9 59.9l1.9 1.9M291.9 61.8l1.9 -1.9M250.0 110.7l1.9 1.9M250.0 112.6l1.9 -1.9M274.7 85.4l1.9 1.9M274.7 87.3l1.9 -1.9M276.0 92.2l1.9 1.9M276.0 94.1l1.9 -1.9M286.6 64.6l1.9 1.9M286.6 66.5l1.9 -1.9M302.1 51.9l1.9 1.9M302.1 53.8l1.9 -1.9M274.2 83.5l1.9 1.9M274.2 85.4l1.9 -1.9M261.9 96.6l1.9 1.9M261.9 98.5l1.9 -1.9M249.6 113.6l1.9 1.9M249.6 115.5l1.9 -1.9M272.8 105.5l1.9 1.9M272.8 107.4l1.9 -1.9M254.1 98.1l1.9 1.9M254.1 100.0l1.9 -1.9M245.4 106.6l1.9 1.9M245.4 108.5l1.9 -1.9M265.0 95.4l1.9 1.9M265.0 97.3l1.9 -1.9M274.9 47.4l1.9 1.9M274.9 49.3l1.9 -1.9M262.2 131.6l1.9 1.9M262.2 133.5l1.9 -1.9M300.5 51.8l1.9 1.9M300.5 53.7l1.9 -1.9" stroke="#0000ff" stroke-width="1.00" stroke-opacity="0.55" fill="none" clip-path="url(#c1)"/>
<path d="M207.40 153.70L348.20 16.50" stroke="#ff4455" stroke-width="0.95" stroke-opacity="1" stroke-dasharray="2.965 2.965" stroke-dashoffset="1.48" fill="none" clip-path="url(#c1)"/>
<path d="M207.40 150.74L348.20 12.16" stroke="#222" stroke-width="0.85" fill="none" clip-path="url(#c1)"/>
<path d="M235.56 153.70v-1.5M235.56 16.50v1.5M207.40 126.26h1.5M348.20 126.26h-1.5M263.72 153.70v-1.5M263.72 16.50v1.5M207.40 98.82h1.5M348.20 98.82h-1.5M291.88 153.70v-1.5M291.88 16.50v1.5M207.40 71.38h1.5M348.20 71.38h-1.5M320.04 153.70v-1.5M320.04 16.50v1.5M207.40 43.94h1.5M348.20 43.94h-1.5" stroke="#333" stroke-width="0.6" fill="none"/>
<rect x="207.40" y="16.50" width="140.80" height="137.20" fill="none" stroke="#555" stroke-width="1"/>
<rect x="210.70" y="19.90" width="111.58" height="14.50" rx="1" fill="#fff" stroke="#707070" stroke-width="0.9"/>
<path d="M215.10 27.40H225.80" stroke="#333" stroke-width="0.75"/>
<clipPath id="c2"><rect x="385.30" y="16.50" width="140.80" height="137.20"/></clipPath>
<path d="M413.46 16.50V153.70M441.62 16.50V153.70M469.78 16.50V153.70M497.94 16.50V153.70" stroke="#d8d8d8" stroke-width="0.90" stroke-dasharray="1 1" stroke-dashoffset="1.50" fill="none"/>
<path d="M385.30 126.26H526.10M385.30 98.82H526.10M385.30 71.38H526.10M385.30 43.94H526.10" stroke="#d8d8d8" stroke-width="0.90" stroke-dasharray="1 1" stroke-dashoffset="1.30" fill="none"/>
<path d="M452.6 78.7l1.9 1.9M452.6 80.6l1.9 -1.9M446.7 85.4l1.9 1.9M446.7 87.3l1.9 -1.9M430.7 96.8l1.9 1.9M430.7 98.7l1.9 -1.9M438.0 92.7l1.9 1.9M438.0 94.6l1.9 -1.9M462.2 61.3l1.9 1.9M462.2 63.2l1.9 -1.9M460.8 67.0l1.9 1.9M460.8 68.9l1.9 -1.9M425.5 109.8l1.9 1.9M425.5 111.7l1.9 -1.9M422.6 100.9l1.9 1.9M422.6 102.8l1.9 -1.9M412.7 119.1l1.9 1.9M412.7 121.0l1.9 -1.9M436.1 98.4l1.9 1.9M436.1 100.3l1.9 -1.9M420.9 113.7l1.9 1.9M420.9 115.6l1.9 -1.9M439.4 93.6l1.9 1.9M439.4 95.5l1.9 -1.9M452.6 74.5l1.9 1.9M452.6 76.4l1.9 -1.9M435.0 103.0l1.9 1.9M435.0 104.9l1.9 -1.9M460.3 68.8l1.9 1.9M460.3 70.7l1.9 -1.9M447.9 92.4l1.9 1.9M447.9 94.3l1.9 -1.9M428.4 106.6l1.9 1.9M428.4 108.5l1.9 -1.9M455.5 85.6l1.9 1.9M455.5 87.5l1.9 -1.9M425.0 118.7l1.9 1.9M425.0 120.6l1.9 -1.9M439.5 100.8l1.9 1.9M439.5 102.7l1.9 -1.9M434.5 98.5l1.9 1.9M434.5 100.4l1.9 -1.9M455.8 92.9l1.9 1.9M455.8 94.8l1.9 -1.9M428.5 104.1l1.9 1.9M428.5 106.0l1.9 -1.9M425.7 112.0l1.9 1.9M425.7 113.9l1.9 -1.9M449.1 85.4l1.9 1.9M449.1 87.3l1.9 -1.9M462.4 60.5l1.9 1.9M462.4 62.4l1.9 -1.9M428.3 110.1l1.9 1.9M428.3 112.0l1.9 -1.9M427.1 107.5l1.9 1.9M427.1 109.4l1.9 -1.9M440.3 97.6l1.9 1.9M440.3 99.5l1.9 -1.9M472.2 60.2l1.9 1.9M472.2 62.1l1.9 -1.9M473.5 60.6l1.9 1.9M473.5 62.5l1.9 -1.9M447.3 96.8l1.9 1.9M447.3 98.7l1.9 -1.9M463.5 58.0l1.9 1.9M463.5 59.9l1.9 -1.9M468.0 61.9l1.9 1.9M468.0 63.8l1.9 -1.9M441.6 95.9l1.9 1.9M441.6 97.8l1.9 -1.9M413.5 121.1l1.9 1.9M413.5 123.0l1.9 -1.9M458.9 76.7l1.9 1.9M458.9 78.6l1.9 -1.9M451.4 90.9l1.9 1.9M451.4 92.8l1.9 -1.9M441.2 103.1l1.9 1.9M441.2 105.0l1.9 -1.9M429.9 98.8l1.9 1.9M429.9 100.7l1.9 -1.9M438.7 97.6l1.9 1.9M438.7 99.5l1.9 -1.9M435.1 112.0l1.9 1.9M435.1 113.9l1.9 -1.9M429.1 102.6l1.9 1.9M429.1 104.5l1.9 -1.9M428.2 99.2l1.9 1.9M428.2 101.1l1.9 -1.9M440.3 90.6l1.9 1.9M440.3 92.5l1.9 -1.9M472.7 65.0l1.9 1.9M472.7 66.9l1.9 -1.9M442.9 100.0l1.9 1.9M442.9 101.9l1.9 -1.9M424.7 110.5l1.9 1.9M424.7 112.4l1.9 -1.9M434.1 95.2l1.9 1.9M434.1 97.1l1.9 -1.9M439.6 94.5l1.9 1.9M439.6 96.4l1.9 -1.9M422.3 105.9l1.9 1.9M422.3 107.8l1.9 -1.9M415.4 122.0l1.9 1.9M415.4 123.9l1.9 -1.9M449.8 89.9l1.9 1.9M449.8 91.8l1.9 -1.9M423.7 107.1l1.9 1.9M423.7 109.0l1.9 -1.9M441.7 97.3l1.9 1.9M441.7 99.2l1.9 -1.9M446.4 77.8l1.9 1.9M446.4 79.7l1.9 -1.9M463.0 69.6l1.9 1.9M463.0 71.5l1.9 -1.9M456.1 76.8l1.9 1.9M456.1 78.7l1.9 -1.9M455.2 74.8l1.9 1.9M455.2 76.7l1.9 -1.9M454.2 90.4l1.9 1.9M454.2 92.3l1.9 -1.9M440.3 98.3l1.9 1.9M440.3 100.2l1.9 -1.9M447.9 93.9l1.9 1.9M447.9 95.8l1.9 -1.9M430.9 101.4l1.9 1.9M430.9 103.3l1.9 -1.9M459.5 74.3l1.9 1.9M459.5 76.2l1.9 -1.9M433.5 102.9l1.9 1.9M433.5 104.8l1.9 -1.9M435.2 99.8l1.9 1.9M435.2 101.7l1.9 -1.9M422.5 116.1l1.9 1.9M422.5 118.0l1.9 -1.9M435.7 88.4l1.9 1.9M435.7 90.3l1.9 -1.9M476.0 53.8l1.9 1.9M476.0 55.7l1.9 -1.9M424.7 112.1l1.9 1.9M424.7 114.0l1.9 -1.9M458.9 71.2l1.9 1.9M458.9 73.1l1.9 -1.9M450.2 88.8l1.9 1.9M450.2 90.7l1.9 -1.9M450.9 83.9l1.9 1.9M450.9 85.8l1.9 -1.9M441.4 89.2l1.9 1.9M441.4 91.1l1.9 -1.9M452.0 75.8l1.9 1.9M452.0 77.7l1.9 -1.9M424.0 117.7l1.9 1.9M424.0 119.6l1.9 -1.9M418.3 119.0l1.9 1.9M418.3 120.9l1.9 -1.9M426.4 111.8l1.9 1.9M426.4 113.7l1.9 -1.9M416.2 122.7l1.9 1.9M416.2 124.6l1.9 -1.9M417.2 117.9l1.9 1.9M417.2 119.8l1.9 -1.9M416.8 118.2l1.9 1.9M416.8 120.1l1.9 -1.9M448.2 84.2l1.9 1.9M448.2 86.1l1.9 -1.9M421.0 113.5l1.9 1.9M421.0 115.4l1.9 -1.9M467.6 67.9l1.9 1.9M467.6 69.8l1.9 -1.9M464.1 64.0l1.9 1.9M464.1 65.9l1.9 -1.9M441.3 82.1l1.9 1.9M441.3 84.0l1.9 -1.9M457.5 79.7l1.9 1.9M457.5 81.6l1.9 -1.9M412.2 117.0l1.9 1.9M412.2 118.9l1.9 -1.9M468.4 60.7l1.9 1.9M468.4 62.6l1.9 -1.9M460.7 64.8l1.9 1.9M460.7 66.7l1.9 -1.9M461.3 63.4l1.9 1.9M461.3 65.3l1.9 -1.9M437.7 88.7l1.9 1.9M437.7 90.6l1.9 -1.9M464.9 68.2l1.9 1.9M464.9 70.1l1.9 -1.9M457.7 78.3l1.9 1.9M457.7 80.2l1.9 -1.9M453.7 83.4l1.9 1.9M453.7 85.3l1.9 -1.9M480.0 50.3l1.9 1.9M480.0 52.2l1.9 -1.9M447.3 91.5l1.9 1.9M447.3 93.4l1.9 -1.9M430.1 106.2l1.9 1.9M430.1 108.1l1.9 -1.9M448.2 80.4l1.9 1.9M448.2 82.3l1.9 -1.9M425.7 106.4l1.9 1.9M425.7 108.3l1.9 -1.9M419.1 104.6l1.9 1.9M419.1 106.5l1.9 -1.9M464.8 62.2l1.9 1.9M464.8 64.1l1.9 -1.9M461.0 65.2l1.9 1.9M461.0 67.1l1.9 -1.9M476.7 43.0l1.9 1.9M476.7 44.9l1.9 -1.9M468.5 63.9l1.9 1.9M468.5 65.8l1.9 -1.9M441.6 89.6l1.9 1.9M441.6 91.5l1.9 -1.9M422.3 113.2l1.9 1.9M422.3 115.1l1.9 -1.9M439.7 95.5l1.9 1.9M439.7 97.4l1.9 -1.9M465.0 62.0l1.9 1.9M465.0 63.9l1.9 -1.9M467.0 62.6l1.9 1.9M467.0 64.5l1.9 -1.9M452.6 73.2l1.9 1.9M452.6 75.1l1.9 -1.9M438.8 92.2l1.9 1.9M438.8 94.1l1.9 -1.9M427.8 106.5l1.9 1.9M427.8 108.4l1.9 -1.9M435.0 105.7l1.9 1.9M435.0 107.6l1.9 -1.9M413.3 127.8l1.9 1.9M413.3 129.7l1.9 -1.9M461.7 65.5l1.9 1.9M461.7 67.4l1.9 -1.9M449.8 71.9l1.9 1.9M449.8 73.8l1.9 -1.9M431.9 104.1l1.9 1.9M431.9 106.0l1.9 -1.9M443.6 89.2l1.9 1.9M443.6 91.1l1.9 -1.9M422.0 109.6l1.9 1.9M422.0 111.5l1.9 -1.9M421.2 114.1l1.9 1.9M421.2 116.0l1.9 -1.9M456.3 80.7l1.9 1.9M456.3 82.6l1.9 -1.9M446.7 84.4l1.9 1.9M446.7 86.3l1.9 -1.9M449.9 88.1l1.9 1.9M449.9 90.0l1.9 -1.9M423.7 117.8l1.9 1.9M423.7 119.7l1.9 -1.9M453.9 77.4l1.9 1.9M453.9 79.3l1.9 -1.9M470.4 62.9l1.9 1.9M470.4 64.8l1.9 -1.9M433.2 94.2l1.9 1.9M433.2 96.1l1.9 -1.9M412.5 121.6l1.9 1.9M412.5 123.5l1.9 -1.9M418.0 111.0l1.9 1.9M418.0 112.9l1.9 -1.9M420.6 114.9l1.9 1.9M420.6 116.8l1.9 -1.9M474.3 54.9l1.9 1.9M474.3 56.8l1.9 -1.9M452.6 76.4l1.9 1.9M452.6 78.3l1.9 -1.9M468.9 66.4l1.9 1.9M468.9 68.3l1.9 -1.9M421.0 121.3l1.9 1.9M421.0 123.2l1.9 -1.9M427.3 103.5l1.9 1.9M427.3 105.4l1.9 -1.9M450.9 83.6l1.9 1.9M450.9 85.5l1.9 -1.9M465.9 65.1l1.9 1.9M465.9 67.0l1.9 -1.9M441.9 91.0l1.9 1.9M441.9 92.9l1.9 -1.9M413.9 128.7l1.9 1.9M413.9 130.6l1.9 -1.9M470.1 56.3l1.9 1.9M470.1 58.2l1.9 -1.9M428.0 104.8l1.9 1.9M428.0 106.7l1.9 -1.9M451.5 82.8l1.9 1.9M451.5 84.7l1.9 -1.9M421.3 113.6l1.9 1.9M421.3 115.5l1.9 -1.9M450.7 73.8l1.9 1.9M450.7 75.7l1.9 -1.9M475.8 56.1l1.9 1.9M475.8 58.0l1.9 -1.9M458.7 69.6l1.9 1.9M458.7 71.5l1.9 -1.9M423.1 108.9l1.9 1.9M423.1 110.8l1.9 -1.9M459.8 68.0l1.9 1.9M459.8 69.9l1.9 -1.9M420.0 111.1l1.9 1.9M420.0 113.0l1.9 -1.9M429.9 105.3l1.9 1.9M429.9 107.2l1.9 -1.9M431.5 104.7l1.9 1.9M431.5 106.6l1.9 -1.9M460.0 72.1l1.9 1.9M460.0 74.0l1.9 -1.9M422.2 109.9l1.9 1.9M422.2 111.8l1.9 -1.9M473.4 53.8l1.9 1.9M473.4 55.7l1.9 -1.9M464.9 69.2l1.9 1.9M464.9 71.1l1.9 -1.9M472.5 56.8l1.9 1.9M472.5 58.7l1.9 -1.9M435.4 91.2l1.9 1.9M435.4 93.1l1.9 -1.9M421.9 112.7l1.9 1.9M421.9 114.6l1.9 -1.9M436.5 98.1l1.9 1.9M436.5 100.0l1.9 -1.9M437.8 88.7l1.9 1.9M437.8 90.6l1.9 -1.9M453.3 82.7l1.9 1.9M453.3 84.6l1.9 -1.9M457.1 75.2l1.9 1.9M457.1 77.1l1.9 -1.9M419.9 119.8l1.9 1.9M419.9 121.7l1.9 -1.9M462.1 57.1l1.9 1.9M462.1 59.0l1.9 -1.9M431.3 108.3l1.9 1.9M431.3 110.2l1.9 -1.9M459.5 62.2l1.9 1.9M459.5 64.1l1.9 -1.9M476.9 48.1l1.9 1.9M476.9 50.0l1.9 -1.9M434.8 100.6l1.9 1.9M434.8 102.5l1.9 -1.9M478.3 51.2l1.9 1.9M478.3 53.1l1.9 -1.9M433.6 106.2l1.9 1.9M433.6 108.1l1.9 -1.9M464.6 59.4l1.9 1.9M464.6 61.3l1.9 -1.9M463.7 66.3l1.9 1.9M463.7 68.2l1.9 -1.9M412.0 124.1l1.9 1.9M412.0 126.0l1.9 -1.9M453.0 78.8l1.9 1.9M453.0 80.7l1.9 -1.9M447.2 82.1l1.9 1.9M447.2 84.0l1.9 -1.9M413.4 118.4l1.9 1.9M413.4 120.3l1.9 -1.9M461.1 71.6l1.9 1.9M461.1 73.5l1.9 -1.9M426.1 113.5l1.9 1.9M426.1 115.4l1.9 -1.9M458.6 72.2l1.9 1.9M458.6 74.1l1.9 -1.9M462.0 80.4l1.9 1.9M462.0 82.3l1.9 -1.9M459.8 75.6l1.9 1.9M459.8 77.5l1.9 -1.9M448.8 84.0l1.9 1.9M448.8 85.9l1.9 -1.9M409.2 126.6l1.9 1.9M409.2 128.5l1.9 -1.9M451.8 64.7l1.9 1.9M451.8 66.6l1.9 -1.9M436.5 95.2l1.9 1.9M436.5 97.1l1.9 -1.9M438.9 105.5l1.9 1.9M438.9 107.4l1.9 -1.9M470.1 66.1l1.9 1.9M470.1 68.0l1.9 -1.9M455.3 75.9l1.9 1.9M455.3 77.8l1.9 -1.9M424.1 112.0l1.9 1.9M424.1 113.9l1.9 -1.9M449.3 82.9l1.9 1.9M449.3 84.8l1.9 -1.9M464.2 60.8l1.9 1.9M464.2 62.7l1.9 -1.9M460.9 78.8l1.9 1.9M460.9 80.7l1.9 -1.9M458.6 73.8l1.9 1.9M458.6 75.7l1.9 -1.9M446.8 94.2l1.9 1.9M446.8 96.1l1.9 -1.9M429.1 103.2l1.9 1.9M429.1 105.1l1.9 -1.9M453.1 83.3l1.9 1.9M453.1 85.2l1.9 -1.9M466.5 51.2l1.9 1.9M466.5 53.1l1.9 -1.9M457.9 67.5l1.9 1.9M457.9 69.4l1.9 -1.9M439.1 92.1l1.9 1.9M439.1 94.0l1.9 -1.9M456.0 83.4l1.9 1.9M456.0 85.3l1.9 -1.9M447.2 85.8l1.9 1.9M447.2 87.7l1.9 -1.9M486.1 27.8l1.9 1.9M486.1 29.7l1.9 -1.9M440.5 99.6l1.9 1.9M440.5 101.5l1.9 -1.9M434.2 97.4l1.9 1.9M434.2 99.3l1.9 -1.9M446.4 88.5l1.9 1.9M446.4 90.4l1.9 -1.9M467.2 69.2l1.9 1.9M467.2 71.1l1.9 -1.9M461.9 67.9l1.9 1.9M461.9 69.8l1.9 -1.9M446.5 82.7l1.9 1.9M446.5 84.6l1.9 -1.9M475.8 50.1l1.9 1.9M475.8 52.0l1.9 -1.9M470.9 55.6l1.9 1.9M470.9 57.5l1.9 -1.9M430.0 93.1l1.9 1.9M430.0 95.0l1.9 -1.9M451.7 85.9l1.9 1.9M451.7 87.8l1.9 -1.9M469.1 62.5l1.9 1.9M469.1 64.4l1.9 -1.9M460.1 63.1l1.9 1.9M460.1 65.0l1.9 -1.9M452.3 90.7l1.9 1.9M452.3 92.6l1.9 -1.9M464.1 62.6l1.9 1.9M464.1 64.5l1.9 -1.9M435.0 97.3l1.9 1.9M435.0 99.2l1.9 -1.9M460.4 74.9l1.9 1.9M460.4 76.8l1.9 -1.9M442.6 81.1l1.9 1.9M442.6 83.0l1.9 -1.9M459.0 82.3l1.9 1.9M459.0 84.2l1.9 -1.9M472.9 60.4l1.9 1.9M472.9 62.3l1.9 -1.9M443.7 88.0l1.9 1.9M443.7 89.9l1.9 -1.9M451.5 75.8l1.9 1.9M451.5 77.7l1.9 -1.9M446.3 81.1l1.9 1.9M446.3 83.0l1.9 -1.9M414.2 119.8l1.9 1.9M414.2 121.7l1.9 -1.9M449.9 78.0l1.9 1.9M449.9 79.9l1.9 -1.9M441.8 93.2l1.9 1.9M441.8 95.1l1.9 -1.9M452.1 66.7l1.9 1.9M452.1 68.6l1.9 -1.9M421.0 111.0l1.9 1.9M421.0 112.9l1.9 -1.9M423.2 108.7l1.9 1.9M423.2 110.6l1.9 -1.9M446.7 97.6l1.9 1.9M446.7 99.5l1.9 -1.9M457.2 73.3l1.9 1.9M457.2 75.2l1.9 -1.9M477.3 55.9l1.9 1.9M477.3 57.8l1.9 -1.9M455.1 85.4l1.9 1.9M455.1 87.3l1.9 -1.9M441.8 95.3l1.9 1.9M441.8 97.2l1.9 -1.9M449.0 90.7l1.9 1.9M449.0 92.6l1.9 -1.9M427.1 110.5l1.9 1.9M427.1 112.4l1.9 -1.9M443.0 82.1l1.9 1.9M443.0 84.0l1.9 -1.9M406.6 129.4l1.9 1.9M406.6 131.3l1.9 -1.9M471.9 62.0l1.9 1.9M471.9 63.9l1.9 -1.9M423.3 115.9l1.9 1.9M423.3 117.8l1.9 -1.9M477.5 66.6l1.9 1.9M477.5 68.5l1.9 -1.9M440.4 100.3l1.9 1.9M440.4 102.2l1.9 -1.9M424.3 115.0l1.9 1.9M424.3 116.9l1.9 -1.9M418.8 118.5l1.9 1.9M418.8 120.4l1.9 -1.9M476.4 57.7l1.9 1.9M476.4 59.6l1.9 -1.9M457.7 77.6l1.9 1.9M457.7 79.5l1.9 -1.9M433.3 105.3l1.9 1.9M433.3 107.2l1.9 -1.9M447.3 82.3l1.9 1.9M447.3 84.2l1.9 -1.9M444.6 88.2l1.9 1.9M444.6 90.1l1.9 -1.9M434.0 111.2l1.9 1.9M434.0 113.1l1.9 -1.9M439.1 91.7l1.9 1.9M439.1 93.6l1.9 -1.9M433.1 97.2l1.9 1.9M433.1 99.1l1.9 -1.9M449.2 87.7l1.9 1.9M449.2 89.6l1.9 -1.9M471.2 73.7l1.9 1.9M471.2 75.6l1.9 -1.9M459.1 78.5l1.9 1.9M459.1 80.4l1.9 -1.9M446.5 80.9l1.9 1.9M446.5 82.8l1.9 -1.9M470.8 61.5l1.9 1.9M470.8 63.4l1.9 -1.9M464.1 71.0l1.9 1.9M464.1 72.9l1.9 -1.9M413.2 117.2l1.9 1.9M413.2 119.1l1.9 -1.9M412.1 122.4l1.9 1.9M412.1 124.3l1.9 -1.9M418.9 117.1l1.9 1.9M418.9 119.0l1.9 -1.9M476.1 51.4l1.9 1.9M476.1 53.3l1.9 -1.9M418.1 112.0l1.9 1.9M418.1 113.9l1.9 -1.9M431.7 100.5l1.9 1.9M431.7 102.4l1.9 -1.9M442.7 90.4l1.9 1.9M442.7 92.3l1.9 -1.9M405.3 128.5l1.9 1.9M405.3 130.4l1.9 -1.9M441.9 87.6l1.9 1.9M441.9 89.5l1.9 -1.9M415.5 118.6l1.9 1.9M415.5 120.5l1.9 -1.9M441.2 84.0l1.9 1.9M441.2 85.9l1.9 -1.9M454.2 75.4l1.9 1.9M454.2 77.3l1.9 -1.9M431.1 109.5l1.9 1.9M431.1 111.4l1.9 -1.9M466.4 70.8l1.9 1.9M466.4 72.7l1.9 -1.9M438.1 91.9l1.9 1.9M438.1 93.8l1.9 -1.9M428.0 102.0l1.9 1.9M428.0 103.9l1.9 -1.9M440.4 79.0l1.9 1.9M440.4 80.9l1.9 -1.9M472.4 52.8l1.9 1.9M472.4 54.7l1.9 -1.9M450.4 83.1l1.9 1.9M450.4 85.0l1.9 -1.9M410.4 118.3l1.9 1.9M410.4 120.2l1.9 -1.9M417.2 112.1l1.9 1.9M417.2 114.0l1.9 -1.9M437.1 103.0l1.9 1.9M437.1 104.9l1.9 -1.9M414.0 125.5l1.9 1.9M414.0 127.4l1.9 -1.9M430.2 105.6l1.9 1.9M430.2 107.5l1.9 -1.9M420.3 114.0l1.9 1.9M420.3 115.9l1.9 -1.9M446.0 88.2l1.9 1.9M446.0 90.1l1.9 -1.9M425.3 113.6l1.9 1.9M425.3 115.5l1.9 -1.9M460.2 69.5l1.9 1.9M460.2 71.4l1.9 -1.9M437.0 94.9l1.9 1.9M437.0 96.8l1.9 -1.9M433.4 100.3l1.9 1.9M433.4 102.2l1.9 -1.9M484.3 37.0l1.9 1.9M484.3 38.9l1.9 -1.9M492.2 35.0l1.9 1.9M492.2 36.9l1.9 -1.9" stroke="#0000ff" stroke-width="1.00" stroke-opacity="0.55" fill="none" clip-path="url(#c2)"/>
<path d="M385.30 153.70L526.10 16.50" stroke="#ff4455" stroke-width="0.95" stroke-opacity="1" stroke-dasharray="2.965 2.965" stroke-dashoffset="1.48" fill="none" clip-path="url(#c2)"/>
<path d="M385.30 153.40L526.10 3.85" stroke="#222" stroke-width="0.85" fill="none" clip-path="url(#c2)"/>
<path d="M413.46 153.70v-1.5M413.46 16.50v1.5M385.30 126.26h1.5M526.10 126.26h-1.5M441.62 153.70v-1.5M441.62 16.50v1.5M385.30 98.82h1.5M526.10 98.82h-1.5M469.78 153.70v-1.5M469.78 16.50v1.5M385.30 71.38h1.5M526.10 71.38h-1.5M497.94 153.70v-1.5M497.94 16.50v1.5M385.30 43.94h1.5M526.10 43.94h-1.5" stroke="#333" stroke-width="0.6" fill="none"/>
<rect x="385.30" y="16.50" width="140.80" height="137.20" fill="none" stroke="#555" stroke-width="1"/>
<rect x="388.60" y="19.90" width="111.65" height="14.50" rx="1" fill="#fff" stroke="#707070" stroke-width="0.9"/>
<path d="M393.00 27.40H403.70" stroke="#333" stroke-width="0.75"/>
<clipPath id="c3"><rect x="29.50" y="202.55" width="140.80" height="137.20"/></clipPath>
<path d="M57.66 202.55V339.75M85.82 202.55V339.75M113.98 202.55V339.75M142.14 202.55V339.75" stroke="#d8d8d8" stroke-width="0.90" stroke-dasharray="1 1" stroke-dashoffset="1.55" fill="none"/>
<path d="M29.50 312.31H170.30M29.50 284.87H170.30M29.50 257.43H170.30M29.50 229.99H170.30" stroke="#d8d8d8" stroke-width="0.90" stroke-dasharray="1 1" stroke-dashoffset="1.50" fill="none"/>
<path d="M123.3 232.2l1.9 1.9M123.3 234.1l1.9 -1.9M92.0 275.7l1.9 1.9M92.0 277.6l1.9 -1.9M112.5 253.1l1.9 1.9M112.5 255.0l1.9 -1.9M97.5 265.7l1.9 1.9M97.5 267.6l1.9 -1.9M100.4 283.5l1.9 1.9M100.4 285.4l1.9 -1.9M69.6 298.0l1.9 1.9M69.6 299.9l1.9 -1.9M122.9 239.7l1.9 1.9M122.9 241.6l1.9 -1.9M66.3 299.7l1.9 1.9M66.3 301.6l1.9 -1.9M75.7 294.3l1.9 1.9M75.7 296.2l1.9 -1.9M110.5 258.7l1.9 1.9M110.5 260.6l1.9 -1.9M71.1 298.6l1.9 1.9M71.1 300.5l1.9 -1.9M111.7 248.9l1.9 1.9M111.7 250.8l1.9 -1.9M122.2 253.6l1.9 1.9M122.2 255.5l1.9 -1.9M61.4 306.3l1.9 1.9M61.4 308.2l1.9 -1.9M95.6 258.2l1.9 1.9M95.6 260.1l1.9 -1.9M54.9 310.0l1.9 1.9M54.9 311.9l1.9 -1.9M79.5 276.0l1.9 1.9M79.5 277.9l1.9 -1.9M56.1 310.9l1.9 1.9M56.1 312.8l1.9 -1.9M121.3 244.8l1.9 1.9M121.3 246.7l1.9 -1.9M88.2 276.1l1.9 1.9M88.2 278.0l1.9 -1.9M107.4 247.6l1.9 1.9M107.4 249.5l1.9 -1.9M102.0 266.8l1.9 1.9M102.0 268.7l1.9 -1.9M110.5 257.8l1.9 1.9M110.5 259.7l1.9 -1.9M68.4 301.1l1.9 1.9M68.4 303.0l1.9 -1.9M49.8 314.7l1.9 1.9M49.8 316.6l1.9 -1.9M87.7 280.6l1.9 1.9M87.7 282.5l1.9 -1.9M63.1 298.7l1.9 1.9M63.1 300.6l1.9 -1.9M111.2 237.9l1.9 1.9M111.2 239.8l1.9 -1.9M75.6 293.5l1.9 1.9M75.6 295.4l1.9 -1.9M85.9 290.9l1.9 1.9M85.9 292.8l1.9 -1.9M114.5 260.1l1.9 1.9M114.5 262.0l1.9 -1.9M87.2 278.7l1.9 1.9M87.2 280.6l1.9 -1.9M61.8 308.8l1.9 1.9M61.8 310.7l1.9 -1.9M64.0 300.5l1.9 1.9M64.0 302.4l1.9 -1.9M88.2 275.9l1.9 1.9M88.2 277.8l1.9 -1.9M89.5 275.6l1.9 1.9M89.5 277.5l1.9 -1.9M96.8 272.3l1.9 1.9M96.8 274.2l1.9 -1.9M82.1 287.1l1.9 1.9M82.1 289.0l1.9 -1.9M98.3 263.1l1.9 1.9M98.3 265.0l1.9 -1.9M73.1 301.6l1.9 1.9M73.1 303.5l1.9 -1.9M95.3 267.2l1.9 1.9M95.3 269.1l1.9 -1.9M104.5 245.2l1.9 1.9M104.5 247.1l1.9 -1.9M69.9 290.0l1.9 1.9M69.9 291.9l1.9 -1.9M82.1 283.3l1.9 1.9M82.1 285.2l1.9 -1.9M95.2 271.7l1.9 1.9M95.2 273.6l1.9 -1.9M94.0 267.1l1.9 1.9M94.0 269.0l1.9 -1.9M69.6 296.7l1.9 1.9M69.6 298.6l1.9 -1.9M91.1 264.6l1.9 1.9M91.1 266.5l1.9 -1.9M90.9 277.6l1.9 1.9M90.9 279.5l1.9 -1.9M110.5 255.6l1.9 1.9M110.5 257.5l1.9 -1.9M75.4 293.8l1.9 1.9M75.4 295.7l1.9 -1.9M92.6 268.1l1.9 1.9M92.6 270.0l1.9 -1.9M79.1 294.5l1.9 1.9M79.1 296.4l1.9 -1.9M85.8 279.3l1.9 1.9M85.8 281.2l1.9 -1.9M74.0 289.1l1.9 1.9M74.0 291.0l1.9 -1.9M108.7 252.9l1.9 1.9M108.7 254.8l1.9 -1.9M83.5 279.7l1.9 1.9M83.5 281.6l1.9 -1.9M104.2 262.5l1.9 1.9M104.2 264.4l1.9 -1.9M82.9 285.5l1.9 1.9M82.9 287.4l1.9 -1.9M121.9 253.0l1.9 1.9M121.9 254.9l1.9 -1.9M91.1 283.6l1.9 1.9M91.1 285.5l1.9 -1.9M80.0 293.0l1.9 1.9M80.0 294.9l1.9 -1.9M93.6 274.4l1.9 1.9M93.6 276.3l1.9 -1.9M108.8 255.8l1.9 1.9M108.8 257.7l1.9 -1.9M112.0 260.1l1.9 1.9M112.0 262.0l1.9 -1.9M100.3 251.3l1.9 1.9M100.3 253.2l1.9 -1.9M50.5 312.5l1.9 1.9M50.5 314.4l1.9 -1.9M91.0 288.4l1.9 1.9M91.0 290.3l1.9 -1.9M64.5 302.5l1.9 1.9M64.5 304.4l1.9 -1.9M107.1 247.2l1.9 1.9M107.1 249.1l1.9 -1.9M105.1 262.8l1.9 1.9M105.1 264.7l1.9 -1.9M92.1 267.4l1.9 1.9M92.1 269.3l1.9 -1.9M86.7 276.7l1.9 1.9M86.7 278.6l1.9 -1.9M52.3 311.5l1.9 1.9M52.3 313.4l1.9 -1.9M97.4 273.2l1.9 1.9M97.4 275.1l1.9 -1.9M68.1 301.8l1.9 1.9M68.1 303.7l1.9 -1.9M88.9 271.1l1.9 1.9M88.9 273.0l1.9 -1.9M67.9 289.2l1.9 1.9M67.9 291.1l1.9 -1.9M98.5 270.2l1.9 1.9M98.5 272.1l1.9 -1.9M60.5 303.2l1.9 1.9M60.5 305.1l1.9 -1.9M61.0 294.5l1.9 1.9M61.0 296.4l1.9 -1.9M93.1 275.5l1.9 1.9M93.1 277.4l1.9 -1.9M90.4 263.1l1.9 1.9M90.4 265.0l1.9 -1.9M98.7 280.7l1.9 1.9M98.7 282.6l1.9 -1.9M102.4 264.5l1.9 1.9M102.4 266.4l1.9 -1.9M85.2 275.5l1.9 1.9M85.2 277.4l1.9 -1.9M102.0 260.3l1.9 1.9M102.0 262.2l1.9 -1.9M93.2 260.4l1.9 1.9M93.2 262.3l1.9 -1.9M114.7 245.7l1.9 1.9M114.7 247.6l1.9 -1.9M93.6 274.2l1.9 1.9M93.6 276.1l1.9 -1.9M54.5 313.8l1.9 1.9M54.5 315.7l1.9 -1.9M81.5 286.3l1.9 1.9M81.5 288.2l1.9 -1.9M108.5 260.4l1.9 1.9M108.5 262.3l1.9 -1.9M77.5 282.6l1.9 1.9M77.5 284.5l1.9 -1.9M65.3 302.0l1.9 1.9M65.3 303.9l1.9 -1.9M86.9 274.9l1.9 1.9M86.9 276.8l1.9 -1.9M69.8 298.6l1.9 1.9M69.8 300.5l1.9 -1.9M89.6 276.1l1.9 1.9M89.6 278.0l1.9 -1.9M84.2 284.0l1.9 1.9M84.2 285.9l1.9 -1.9M81.0 293.5l1.9 1.9M81.0 295.4l1.9 -1.9M82.5 286.5l1.9 1.9M82.5 288.4l1.9 -1.9M80.8 274.1l1.9 1.9M80.8 276.0l1.9 -1.9M108.9 258.6l1.9 1.9M108.9 260.5l1.9 -1.9M113.7 260.6l1.9 1.9M113.7 262.5l1.9 -1.9M93.2 256.7l1.9 1.9M93.2 258.6l1.9 -1.9M55.0 313.9l1.9 1.9M55.0 315.8l1.9 -1.9M102.2 258.2l1.9 1.9M102.2 260.1l1.9 -1.9M98.0 259.5l1.9 1.9M98.0 261.4l1.9 -1.9M118.6 253.1l1.9 1.9M118.6 255.0l1.9 -1.9M76.0 293.7l1.9 1.9M76.0 295.6l1.9 -1.9M64.0 297.5l1.9 1.9M64.0 299.4l1.9 -1.9M91.3 280.8l1.9 1.9M91.3 282.7l1.9 -1.9M67.4 298.1l1.9 1.9M67.4 300.0l1.9 -1.9M116.9 256.8l1.9 1.9M116.9 258.7l1.9 -1.9M102.3 244.4l1.9 1.9M102.3 246.3l1.9 -1.9M74.1 281.4l1.9 1.9M74.1 283.3l1.9 -1.9M121.2 243.2l1.9 1.9M121.2 245.1l1.9 -1.9M65.7 307.5l1.9 1.9M65.7 309.4l1.9 -1.9M113.7 242.7l1.9 1.9M113.7 244.6l1.9 -1.9M86.8 284.9l1.9 1.9M86.8 286.8l1.9 -1.9M105.2 259.5l1.9 1.9M105.2 261.4l1.9 -1.9M109.8 262.7l1.9 1.9M109.8 264.6l1.9 -1.9M120.0 246.5l1.9 1.9M120.0 248.4l1.9 -1.9M114.0 261.1l1.9 1.9M114.0 263.0l1.9 -1.9M50.6 314.5l1.9 1.9M50.6 316.4l1.9 -1.9M45.6 323.0l1.9 1.9M45.6 324.9l1.9 -1.9M83.3 284.8l1.9 1.9M83.3 286.7l1.9 -1.9M62.5 299.8l1.9 1.9M62.5 301.7l1.9 -1.9M88.7 276.1l1.9 1.9M88.7 278.0l1.9 -1.9M89.1 274.2l1.9 1.9M89.1 276.1l1.9 -1.9M104.2 250.9l1.9 1.9M104.2 252.8l1.9 -1.9M86.0 279.1l1.9 1.9M86.0 281.0l1.9 -1.9M80.3 290.1l1.9 1.9M80.3 292.0l1.9 -1.9M119.8 250.1l1.9 1.9M119.8 252.0l1.9 -1.9M110.0 262.0l1.9 1.9M110.0 263.9l1.9 -1.9M51.3 314.5l1.9 1.9M51.3 316.4l1.9 -1.9M55.9 310.3l1.9 1.9M55.9 312.2l1.9 -1.9M105.9 254.4l1.9 1.9M105.9 256.3l1.9 -1.9M74.7 286.6l1.9 1.9M74.7 288.5l1.9 -1.9M81.0 285.1l1.9 1.9M81.0 287.0l1.9 -1.9M101.6 261.2l1.9 1.9M101.6 263.1l1.9 -1.9M86.0 274.4l1.9 1.9M86.0 276.3l1.9 -1.9M116.8 249.8l1.9 1.9M116.8 251.7l1.9 -1.9M103.6 246.1l1.9 1.9M103.6 248.0l1.9 -1.9M86.3 274.6l1.9 1.9M86.3 276.5l1.9 -1.9M66.3 299.5l1.9 1.9M66.3 301.4l1.9 -1.9M78.3 284.1l1.9 1.9M78.3 286.0l1.9 -1.9M103.0 269.5l1.9 1.9M103.0 271.4l1.9 -1.9M120.1 252.0l1.9 1.9M120.1 253.9l1.9 -1.9M56.0 311.1l1.9 1.9M56.0 313.0l1.9 -1.9M58.1 308.8l1.9 1.9M58.1 310.7l1.9 -1.9M106.4 244.9l1.9 1.9M106.4 246.8l1.9 -1.9M102.4 261.9l1.9 1.9M102.4 263.8l1.9 -1.9M67.6 295.0l1.9 1.9M67.6 296.9l1.9 -1.9M116.4 252.4l1.9 1.9M116.4 254.3l1.9 -1.9M97.3 267.2l1.9 1.9M97.3 269.1l1.9 -1.9M107.7 249.2l1.9 1.9M107.7 251.1l1.9 -1.9M71.5 299.2l1.9 1.9M71.5 301.1l1.9 -1.9M90.2 275.2l1.9 1.9M90.2 277.1l1.9 -1.9M74.6 287.5l1.9 1.9M74.6 289.4l1.9 -1.9M112.8 254.5l1.9 1.9M112.8 256.4l1.9 -1.9M69.5 290.8l1.9 1.9M69.5 292.7l1.9 -1.9M76.9 286.8l1.9 1.9M76.9 288.7l1.9 -1.9M112.6 247.0l1.9 1.9M112.6 248.9l1.9 -1.9M110.9 242.6l1.9 1.9M110.9 244.5l1.9 -1.9M74.5 291.6l1.9 1.9M74.5 293.5l1.9 -1.9M71.4 299.4l1.9 1.9M71.4 301.3l1.9 -1.9M81.8 286.0l1.9 1.9M81.8 287.9l1.9 -1.9M77.0 292.9l1.9 1.9M77.0 294.8l1.9 -1.9M100.0 258.6l1.9 1.9M100.0 260.5l1.9 -1.9M107.2 260.1l1.9 1.9M107.2 262.0l1.9 -1.9M98.9 269.0l1.9 1.9M98.9 270.9l1.9 -1.9M99.4 269.6l1.9 1.9M99.4 271.5l1.9 -1.9M85.2 274.2l1.9 1.9M85.2 276.1l1.9 -1.9M83.7 280.1l1.9 1.9M83.7 282.0l1.9 -1.9M72.9 289.1l1.9 1.9M72.9 291.0l1.9 -1.9M131.4 231.0l1.9 1.9M131.4 232.9l1.9 -1.9M104.0 265.8l1.9 1.9M104.0 267.7l1.9 -1.9M97.8 263.7l1.9 1.9M97.8 265.6l1.9 -1.9M73.5 286.5l1.9 1.9M73.5 288.4l1.9 -1.9M56.9 310.2l1.9 1.9M56.9 312.1l1.9 -1.9M71.6 289.7l1.9 1.9M71.6 291.6l1.9 -1.9M77.8 293.4l1.9 1.9M77.8 295.3l1.9 -1.9M79.2 289.2l1.9 1.9M79.2 291.1l1.9 -1.9M98.5 266.7l1.9 1.9M98.5 268.6l1.9 -1.9M78.7 291.2l1.9 1.9M78.7 293.1l1.9 -1.9M98.5 263.1l1.9 1.9M98.5 265.0l1.9 -1.9M95.7 264.3l1.9 1.9M95.7 266.2l1.9 -1.9M99.4 275.3l1.9 1.9M99.4 277.2l1.9 -1.9M84.0 270.3l1.9 1.9M84.0 272.2l1.9 -1.9M101.2 259.2l1.9 1.9M101.2 261.1l1.9 -1.9M89.1 285.4l1.9 1.9M89.1 287.3l1.9 -1.9M89.9 274.2l1.9 1.9M89.9 276.1l1.9 -1.9M83.0 289.3l1.9 1.9M83.0 291.2l1.9 -1.9M83.7 283.8l1.9 1.9M83.7 285.7l1.9 -1.9M90.5 273.3l1.9 1.9M90.5 275.2l1.9 -1.9M99.3 258.6l1.9 1.9M99.3 260.5l1.9 -1.9M72.4 290.7l1.9 1.9M72.4 292.6l1.9 -1.9M80.4 288.9l1.9 1.9M80.4 290.8l1.9 -1.9M87.2 272.6l1.9 1.9M87.2 274.5l1.9 -1.9M107.7 255.5l1.9 1.9M107.7 257.4l1.9 -1.9M86.4 272.0l1.9 1.9M86.4 273.9l1.9 -1.9M98.6 258.4l1.9 1.9M98.6 260.3l1.9 -1.9M104.0 260.9l1.9 1.9M104.0 262.8l1.9 -1.9M86.8 282.6l1.9 1.9M86.8 284.5l1.9 -1.9M116.5 246.8l1.9 1.9M116.5 248.7l1.9 -1.9M67.5 298.1l1.9 1.9M67.5 300.0l1.9 -1.9M60.0 306.3l1.9 1.9M60.0 308.2l1.9 -1.9M64.1 301.2l1.9 1.9M64.1 303.1l1.9 -1.9M70.1 299.5l1.9 1.9M70.1 301.4l1.9 -1.9M74.8 293.7l1.9 1.9M74.8 295.6l1.9 -1.9M80.7 287.6l1.9 1.9M80.7 289.5l1.9 -1.9M93.0 271.4l1.9 1.9M93.0 273.3l1.9 -1.9M76.8 290.4l1.9 1.9M76.8 292.3l1.9 -1.9M75.4 294.9l1.9 1.9M75.4 296.8l1.9 -1.9M97.2 263.5l1.9 1.9M97.2 265.4l1.9 -1.9M82.4 280.8l1.9 1.9M82.4 282.7l1.9 -1.9M90.2 280.9l1.9 1.9M90.2 282.8l1.9 -1.9M77.6 295.3l1.9 1.9M77.6 297.2l1.9 -1.9M60.7 313.9l1.9 1.9M60.7 315.8l1.9 -1.9M84.6 287.2l1.9 1.9M84.6 289.1l1.9 -1.9M83.3 277.8l1.9 1.9M83.3 279.7l1.9 -1.9M92.8 267.8l1.9 1.9M92.8 269.7l1.9 -1.9M85.6 288.8l1.9 1.9M85.6 290.7l1.9 -1.9M69.6 298.1l1.9 1.9M69.6 300.0l1.9 -1.9M114.2 251.8l1.9 1.9M114.2 253.7l1.9 -1.9M61.6 307.9l1.9 1.9M61.6 309.8l1.9 -1.9M49.0 318.3l1.9 1.9M49.0 320.2l1.9 -1.9M72.5 297.2l1.9 1.9M72.5 299.1l1.9 -1.9M74.8 293.1l1.9 1.9M74.8 295.0l1.9 -1.9M94.8 271.9l1.9 1.9M94.8 273.8l1.9 -1.9M73.8 290.3l1.9 1.9M73.8 292.2l1.9 -1.9M85.0 284.9l1.9 1.9M85.0 286.8l1.9 -1.9M89.6 271.8l1.9 1.9M89.6 273.7l1.9 -1.9M98.3 272.3l1.9 1.9M98.3 274.2l1.9 -1.9M53.3 311.2l1.9 1.9M53.3 313.1l1.9 -1.9M89.5 277.1l1.9 1.9M89.5 279.0l1.9 -1.9M60.9 308.8l1.9 1.9M60.9 310.7l1.9 -1.9M106.4 255.7l1.9 1.9M106.4 257.6l1.9 -1.9M69.9 298.9l1.9 1.9M69.9 300.8l1.9 -1.9M71.4 291.5l1.9 1.9M71.4 293.4l1.9 -1.9M94.8 260.6l1.9 1.9M94.8 262.5l1.9 -1.9M84.2 282.8l1.9 1.9M84.2 284.7l1.9 -1.9M82.8 285.0l1.9 1.9M82.8 286.9l1.9 -1.9M98.4 281.2l1.9 1.9M98.4 283.1l1.9 -1.9M75.1 291.4l1.9 1.9M75.1 293.3l1.9 -1.9M72.9 285.9l1.9 1.9M72.9 287.8l1.9 -1.9M104.5 263.1l1.9 1.9M104.5 265.0l1.9 -1.9M74.1 293.2l1.9 1.9M74.1 295.1l1.9 -1.9M88.4 272.8l1.9 1.9M88.4 274.7l1.9 -1.9M60.9 301.8l1.9 1.9M60.9 303.7l1.9 -1.9M84.3 275.0l1.9 1.9M84.3 276.9l1.9 -1.9M78.6 283.7l1.9 1.9M78.6 285.6l1.9 -1.9M92.3 274.6l1.9 1.9M92.3 276.5l1.9 -1.9M128.1 242.2l1.9 1.9M128.1 244.1l1.9 -1.9M47.4 312.1l1.9 1.9M47.4 314.0l1.9 -1.9M65.8 297.9l1.9 1.9M65.8 299.8l1.9 -1.9M78.4 284.7l1.9 1.9M78.4 286.6l1.9 -1.9M87.5 281.6l1.9 1.9M87.5 283.5l1.9 -1.9M56.4 311.4l1.9 1.9M56.4 313.3l1.9 -1.9M83.9 273.4l1.9 1.9M83.9 275.3l1.9 -1.9M68.6 298.9l1.9 1.9M68.6 300.8l1.9 -1.9M86.1 282.4l1.9 1.9M86.1 284.3l1.9 -1.9M66.5 299.3l1.9 1.9M66.5 301.2l1.9 -1.9M89.0 285.9l1.9 1.9M89.0 287.8l1.9 -1.9M98.6 263.1l1.9 1.9M98.6 265.0l1.9 -1.9M69.0 301.4l1.9 1.9M69.0 303.3l1.9 -1.9M81.6 285.8l1.9 1.9M81.6 287.7l1.9 -1.9M118.0 253.1l1.9 1.9M118.0 255.0l1.9 -1.9M68.5 300.1l1.9 1.9M68.5 302.0l1.9 -1.9M114.2 231.0l1.9 1.9M114.2 232.9l1.9 -1.9M120.9 233.2l1.9 1.9M120.9 235.1l1.9 -1.9M137.0 224.1l1.9 1.9M137.0 226.0l1.9 -1.9" stroke="#0000ff" stroke-width="1.00" stroke-opacity="0.55" fill="none" clip-path="url(#c3)"/>
<path d="M29.50 339.75L170.30 202.55" stroke="#ff4455" stroke-width="0.95" stroke-opacity="1" stroke-dasharray="2.965 2.965" stroke-dashoffset="1.48" fill="none" clip-path="url(#c3)"/>
<path d="M29.50 339.09L170.30 195.03" stroke="#222" stroke-width="0.85" fill="none" clip-path="url(#c3)"/>
<path d="M57.66 339.75v-1.5M57.66 202.55v1.5M29.50 312.31h1.5M170.30 312.31h-1.5M85.82 339.75v-1.5M85.82 202.55v1.5M29.50 284.87h1.5M170.30 284.87h-1.5M113.98 339.75v-1.5M113.98 202.55v1.5M29.50 257.43h1.5M170.30 257.43h-1.5M142.14 339.75v-1.5M142.14 202.55v1.5M29.50 229.99h1.5M170.30 229.99h-1.5" stroke="#333" stroke-width="0.6" fill="none"/>
<rect x="29.50" y="202.55" width="140.80" height="137.20" fill="none" stroke="#555" stroke-width="1"/>
<rect x="32.80" y="205.95" width="111.58" height="14.50" rx="1" fill="#fff" stroke="#707070" stroke-width="0.9"/>
<path d="M37.20 213.45H47.90" stroke="#333" stroke-width="0.75"/>
<clipPath id="c4"><rect x="207.40" y="202.55" width="140.80" height="137.20"/></clipPath>
<path d="M235.56 202.55V339.75M263.72 202.55V339.75M291.88 202.55V339.75M320.04 202.55V339.75" stroke="#d8d8d8" stroke-width="0.90" stroke-dasharray="1 1" stroke-dashoffset="1.55" fill="none"/>
<path d="M207.40 312.31H348.20M207.40 284.87H348.20M207.40 257.43H348.20M207.40 229.99H348.20" stroke="#d8d8d8" stroke-width="0.90" stroke-dasharray="1 1" stroke-dashoffset="1.40" fill="none"/>
<path d="M242.4 301.3l1.9 1.9M242.4 303.2l1.9 -1.9M283.0 270.1l1.9 1.9M283.0 272.0l1.9 -1.9M241.9 313.3l1.9 1.9M241.9 315.2l1.9 -1.9M285.0 259.5l1.9 1.9M285.0 261.4l1.9 -1.9M265.3 276.5l1.9 1.9M265.3 278.4l1.9 -1.9M271.0 286.1l1.9 1.9M271.0 288.0l1.9 -1.9M275.2 272.8l1.9 1.9M275.2 274.7l1.9 -1.9M257.2 289.1l1.9 1.9M257.2 291.0l1.9 -1.9M248.6 300.3l1.9 1.9M248.6 302.2l1.9 -1.9M247.6 301.5l1.9 1.9M247.6 303.4l1.9 -1.9M236.5 305.6l1.9 1.9M236.5 307.5l1.9 -1.9M274.7 273.0l1.9 1.9M274.7 274.9l1.9 -1.9M247.7 299.2l1.9 1.9M247.7 301.1l1.9 -1.9M246.8 297.9l1.9 1.9M246.8 299.8l1.9 -1.9M275.4 276.8l1.9 1.9M275.4 278.7l1.9 -1.9M240.8 304.0l1.9 1.9M240.8 305.9l1.9 -1.9M254.2 287.5l1.9 1.9M254.2 289.4l1.9 -1.9M249.5 300.7l1.9 1.9M249.5 302.6l1.9 -1.9M269.2 279.3l1.9 1.9M269.2 281.2l1.9 -1.9M261.8 280.7l1.9 1.9M261.8 282.6l1.9 -1.9M265.5 281.3l1.9 1.9M265.5 283.2l1.9 -1.9M244.1 301.9l1.9 1.9M244.1 303.8l1.9 -1.9M238.4 309.9l1.9 1.9M238.4 311.8l1.9 -1.9M245.4 299.2l1.9 1.9M245.4 301.1l1.9 -1.9M247.3 291.1l1.9 1.9M247.3 293.0l1.9 -1.9M242.7 305.9l1.9 1.9M242.7 307.8l1.9 -1.9M240.8 309.5l1.9 1.9M240.8 311.4l1.9 -1.9M294.2 254.0l1.9 1.9M294.2 255.9l1.9 -1.9M292.5 238.7l1.9 1.9M292.5 240.6l1.9 -1.9M248.0 298.4l1.9 1.9M248.0 300.3l1.9 -1.9M240.0 306.2l1.9 1.9M240.0 308.1l1.9 -1.9M247.8 297.1l1.9 1.9M247.8 299.0l1.9 -1.9M272.2 275.3l1.9 1.9M272.2 277.2l1.9 -1.9M285.5 262.2l1.9 1.9M285.5 264.1l1.9 -1.9M227.9 313.9l1.9 1.9M227.9 315.8l1.9 -1.9M265.8 287.1l1.9 1.9M265.8 289.0l1.9 -1.9M236.7 309.0l1.9 1.9M236.7 310.9l1.9 -1.9M260.7 285.6l1.9 1.9M260.7 287.5l1.9 -1.9M273.7 270.6l1.9 1.9M273.7 272.5l1.9 -1.9M285.6 265.1l1.9 1.9M285.6 267.0l1.9 -1.9M244.1 303.7l1.9 1.9M244.1 305.6l1.9 -1.9M282.3 270.1l1.9 1.9M282.3 272.0l1.9 -1.9M287.3 270.6l1.9 1.9M287.3 272.5l1.9 -1.9M293.1 256.1l1.9 1.9M293.1 258.0l1.9 -1.9M231.5 305.3l1.9 1.9M231.5 307.2l1.9 -1.9M261.2 288.3l1.9 1.9M261.2 290.2l1.9 -1.9M293.4 258.7l1.9 1.9M293.4 260.6l1.9 -1.9M258.0 279.4l1.9 1.9M258.0 281.3l1.9 -1.9M272.6 279.0l1.9 1.9M272.6 280.9l1.9 -1.9M260.9 276.7l1.9 1.9M260.9 278.6l1.9 -1.9M285.5 282.3l1.9 1.9M285.5 284.2l1.9 -1.9M253.5 296.6l1.9 1.9M253.5 298.5l1.9 -1.9M237.1 304.3l1.9 1.9M237.1 306.2l1.9 -1.9M234.5 306.3l1.9 1.9M234.5 308.2l1.9 -1.9M244.0 300.8l1.9 1.9M244.0 302.7l1.9 -1.9M242.3 302.9l1.9 1.9M242.3 304.8l1.9 -1.9M289.1 261.5l1.9 1.9M289.1 263.4l1.9 -1.9M257.7 286.3l1.9 1.9M257.7 288.2l1.9 -1.9M279.9 267.4l1.9 1.9M279.9 269.3l1.9 -1.9M271.3 272.2l1.9 1.9M271.3 274.1l1.9 -1.9M260.9 290.2l1.9 1.9M260.9 292.1l1.9 -1.9M286.5 258.0l1.9 1.9M286.5 259.9l1.9 -1.9M282.6 259.2l1.9 1.9M282.6 261.1l1.9 -1.9M285.5 246.4l1.9 1.9M285.5 248.3l1.9 -1.9M264.9 288.4l1.9 1.9M264.9 290.3l1.9 -1.9M243.4 300.4l1.9 1.9M243.4 302.3l1.9 -1.9M248.2 310.7l1.9 1.9M248.2 312.6l1.9 -1.9M230.9 318.7l1.9 1.9M230.9 320.6l1.9 -1.9M256.9 300.6l1.9 1.9M256.9 302.5l1.9 -1.9M273.3 272.8l1.9 1.9M273.3 274.7l1.9 -1.9M241.3 304.1l1.9 1.9M241.3 306.0l1.9 -1.9M240.1 306.5l1.9 1.9M240.1 308.4l1.9 -1.9M258.4 300.3l1.9 1.9M258.4 302.2l1.9 -1.9M245.2 300.6l1.9 1.9M245.2 302.5l1.9 -1.9M280.8 285.9l1.9 1.9M280.8 287.8l1.9 -1.9M249.8 298.6l1.9 1.9M249.8 300.5l1.9 -1.9M272.0 267.2l1.9 1.9M272.0 269.1l1.9 -1.9M275.6 266.4l1.9 1.9M275.6 268.3l1.9 -1.9M270.0 278.4l1.9 1.9M270.0 280.3l1.9 -1.9M290.2 264.5l1.9 1.9M290.2 266.4l1.9 -1.9M284.9 262.3l1.9 1.9M284.9 264.2l1.9 -1.9M244.1 306.5l1.9 1.9M244.1 308.4l1.9 -1.9M289.3 263.1l1.9 1.9M289.3 265.0l1.9 -1.9M242.7 305.5l1.9 1.9M242.7 307.4l1.9 -1.9M230.0 311.8l1.9 1.9M230.0 313.7l1.9 -1.9M266.3 291.3l1.9 1.9M266.3 293.2l1.9 -1.9M264.4 282.4l1.9 1.9M264.4 284.3l1.9 -1.9M289.4 269.2l1.9 1.9M289.4 271.1l1.9 -1.9M256.9 287.3l1.9 1.9M256.9 289.2l1.9 -1.9M238.7 306.2l1.9 1.9M238.7 308.1l1.9 -1.9M287.1 269.9l1.9 1.9M287.1 271.8l1.9 -1.9M237.1 305.8l1.9 1.9M237.1 307.7l1.9 -1.9M271.7 273.7l1.9 1.9M271.7 275.6l1.9 -1.9M282.1 272.4l1.9 1.9M282.1 274.3l1.9 -1.9M257.3 290.1l1.9 1.9M257.3 292.0l1.9 -1.9M255.1 290.8l1.9 1.9M255.1 292.7l1.9 -1.9M286.6 261.3l1.9 1.9M286.6 263.2l1.9 -1.9M233.2 313.0l1.9 1.9M233.2 314.9l1.9 -1.9M271.6 282.3l1.9 1.9M271.6 284.2l1.9 -1.9M249.8 301.6l1.9 1.9M249.8 303.5l1.9 -1.9M268.2 280.2l1.9 1.9M268.2 282.1l1.9 -1.9M280.9 258.5l1.9 1.9M280.9 260.4l1.9 -1.9M255.0 292.9l1.9 1.9M255.0 294.8l1.9 -1.9M266.8 282.5l1.9 1.9M266.8 284.4l1.9 -1.9M259.2 289.3l1.9 1.9M259.2 291.2l1.9 -1.9M242.4 308.1l1.9 1.9M242.4 310.0l1.9 -1.9M273.1 269.9l1.9 1.9M273.1 271.8l1.9 -1.9M253.3 297.7l1.9 1.9M253.3 299.6l1.9 -1.9M249.2 295.6l1.9 1.9M249.2 297.5l1.9 -1.9M275.8 270.5l1.9 1.9M275.8 272.4l1.9 -1.9M261.1 278.0l1.9 1.9M261.1 279.9l1.9 -1.9M249.0 296.6l1.9 1.9M249.0 298.5l1.9 -1.9M281.3 259.1l1.9 1.9M281.3 261.0l1.9 -1.9M251.1 289.2l1.9 1.9M251.1 291.1l1.9 -1.9M262.2 286.8l1.9 1.9M262.2 288.7l1.9 -1.9M277.2 270.4l1.9 1.9M277.2 272.3l1.9 -1.9M281.4 257.0l1.9 1.9M281.4 258.9l1.9 -1.9M286.4 263.7l1.9 1.9M286.4 265.6l1.9 -1.9M295.4 252.8l1.9 1.9M295.4 254.7l1.9 -1.9M263.7 280.0l1.9 1.9M263.7 281.9l1.9 -1.9M247.0 291.0l1.9 1.9M247.0 292.9l1.9 -1.9M295.3 255.6l1.9 1.9M295.3 257.5l1.9 -1.9M290.2 252.1l1.9 1.9M290.2 254.0l1.9 -1.9M256.9 292.0l1.9 1.9M256.9 293.9l1.9 -1.9M276.6 274.2l1.9 1.9M276.6 276.1l1.9 -1.9M255.3 292.2l1.9 1.9M255.3 294.1l1.9 -1.9M232.1 314.5l1.9 1.9M232.1 316.4l1.9 -1.9M283.2 260.4l1.9 1.9M283.2 262.3l1.9 -1.9M269.6 272.8l1.9 1.9M269.6 274.7l1.9 -1.9M265.2 295.4l1.9 1.9M265.2 297.3l1.9 -1.9M296.1 248.8l1.9 1.9M296.1 250.7l1.9 -1.9M291.0 256.4l1.9 1.9M291.0 258.3l1.9 -1.9M250.1 299.4l1.9 1.9M250.1 301.3l1.9 -1.9M240.9 308.6l1.9 1.9M240.9 310.5l1.9 -1.9M225.4 319.2l1.9 1.9M225.4 321.1l1.9 -1.9M262.9 282.4l1.9 1.9M262.9 284.3l1.9 -1.9M255.2 288.3l1.9 1.9M255.2 290.2l1.9 -1.9M269.9 270.6l1.9 1.9M269.9 272.5l1.9 -1.9M263.0 288.6l1.9 1.9M263.0 290.5l1.9 -1.9M249.8 299.9l1.9 1.9M249.8 301.8l1.9 -1.9M254.8 291.1l1.9 1.9M254.8 293.0l1.9 -1.9M232.1 317.8l1.9 1.9M232.1 319.7l1.9 -1.9M287.0 259.9l1.9 1.9M287.0 261.8l1.9 -1.9M252.3 291.0l1.9 1.9M252.3 292.9l1.9 -1.9M274.8 272.0l1.9 1.9M274.8 273.9l1.9 -1.9M249.8 297.7l1.9 1.9M249.8 299.6l1.9 -1.9M264.2 294.0l1.9 1.9M264.2 295.9l1.9 -1.9M275.2 280.3l1.9 1.9M275.2 282.2l1.9 -1.9M257.4 288.3l1.9 1.9M257.4 290.2l1.9 -1.9M246.7 299.1l1.9 1.9M246.7 301.0l1.9 -1.9M308.6 258.0l1.9 1.9M308.6 259.9l1.9 -1.9M258.9 281.7l1.9 1.9M258.9 283.6l1.9 -1.9M274.0 269.3l1.9 1.9M274.0 271.2l1.9 -1.9M261.2 291.4l1.9 1.9M261.2 293.3l1.9 -1.9M247.5 303.4l1.9 1.9M247.5 305.3l1.9 -1.9M288.7 265.2l1.9 1.9M288.7 267.1l1.9 -1.9M270.5 266.6l1.9 1.9M270.5 268.5l1.9 -1.9M269.5 290.1l1.9 1.9M269.5 292.0l1.9 -1.9M268.4 287.6l1.9 1.9M268.4 289.5l1.9 -1.9M279.3 268.9l1.9 1.9M279.3 270.8l1.9 -1.9M268.3 290.4l1.9 1.9M268.3 292.3l1.9 -1.9M259.8 284.5l1.9 1.9M259.8 286.4l1.9 -1.9M286.3 269.4l1.9 1.9M286.3 271.3l1.9 -1.9M267.6 279.7l1.9 1.9M267.6 281.6l1.9 -1.9M274.2 280.8l1.9 1.9M274.2 282.7l1.9 -1.9M283.2 265.9l1.9 1.9M283.2 267.8l1.9 -1.9M282.5 262.8l1.9 1.9M282.5 264.7l1.9 -1.9M236.9 305.5l1.9 1.9M236.9 307.4l1.9 -1.9M269.4 278.4l1.9 1.9M269.4 280.3l1.9 -1.9M247.8 299.2l1.9 1.9M247.8 301.1l1.9 -1.9M223.2 320.1l1.9 1.9M223.2 322.0l1.9 -1.9M268.4 280.4l1.9 1.9M268.4 282.3l1.9 -1.9M228.5 319.9l1.9 1.9M228.5 321.8l1.9 -1.9M253.6 290.7l1.9 1.9M253.6 292.6l1.9 -1.9M242.6 309.1l1.9 1.9M242.6 311.0l1.9 -1.9M307.8 237.3l1.9 1.9M307.8 239.2l1.9 -1.9M223.9 325.1l1.9 1.9M223.9 327.0l1.9 -1.9" stroke="#0000ff" stroke-width="1.00" stroke-opacity="0.55" fill="none" clip-path="url(#c4)"/>
<path d="M207.40 339.75L348.20 202.55" stroke="#ff4455" stroke-width="0.95" stroke-opacity="1" stroke-dasharray="2.965 2.965" stroke-dashoffset="1.48" fill="none" clip-path="url(#c4)"/>
<path d="M207.40 338.46L348.20 208.12" stroke="#222" stroke-width="0.85" fill="none" clip-path="url(#c4)"/>
<path d="M235.56 339.75v-1.5M235.56 202.55v1.5M207.40 312.31h1.5M348.20 312.31h-1.5M263.72 339.75v-1.5M263.72 202.55v1.5M207.40 284.87h1.5M348.20 284.87h-1.5M291.88 339.75v-1.5M291.88 202.55v1.5M207.40 257.43h1.5M348.20 257.43h-1.5M320.04 339.75v-1.5M320.04 202.55v1.5M207.40 229.99h1.5M348.20 229.99h-1.5" stroke="#333" stroke-width="0.6" fill="none"/>
<rect x="207.40" y="202.55" width="140.80" height="137.20" fill="none" stroke="#555" stroke-width="1"/>
<rect x="210.70" y="205.95" width="111.51" height="14.50" rx="1" fill="#fff" stroke="#707070" stroke-width="0.9"/>
<path d="M215.10 213.45H225.80" stroke="#333" stroke-width="0.75"/>
<clipPath id="c5"><rect x="385.30" y="202.55" width="140.80" height="137.20"/></clipPath>
<path d="M413.46 202.55V339.75M441.62 202.55V339.75M469.78 202.55V339.75M497.94 202.55V339.75" stroke="#d8d8d8" stroke-width="0.90" stroke-dasharray="1 1" stroke-dashoffset="1.55" fill="none"/>
<path d="M385.30 312.31H526.10M385.30 284.87H526.10M385.30 257.43H526.10M385.30 229.99H526.10" stroke="#d8d8d8" stroke-width="0.90" stroke-dasharray="1 1" stroke-dashoffset="1.30" fill="none"/>
<path d="M458.9 254.4l1.9 1.9M458.9 256.3l1.9 -1.9M430.2 291.0l1.9 1.9M430.2 292.9l1.9 -1.9M466.1 246.7l1.9 1.9M466.1 248.6l1.9 -1.9M404.5 320.2l1.9 1.9M404.5 322.1l1.9 -1.9M404.8 316.3l1.9 1.9M404.8 318.2l1.9 -1.9M447.2 274.4l1.9 1.9M447.2 276.3l1.9 -1.9M433.4 295.0l1.9 1.9M433.4 296.9l1.9 -1.9M436.4 288.4l1.9 1.9M436.4 290.3l1.9 -1.9M427.7 294.4l1.9 1.9M427.7 296.3l1.9 -1.9M448.9 275.6l1.9 1.9M448.9 277.5l1.9 -1.9M443.2 287.5l1.9 1.9M443.2 289.4l1.9 -1.9M451.5 267.4l1.9 1.9M451.5 269.3l1.9 -1.9M434.9 281.0l1.9 1.9M434.9 282.9l1.9 -1.9M448.1 282.9l1.9 1.9M448.1 284.8l1.9 -1.9M456.9 270.5l1.9 1.9M456.9 272.4l1.9 -1.9M471.0 249.8l1.9 1.9M471.0 251.7l1.9 -1.9M457.8 263.9l1.9 1.9M457.8 265.8l1.9 -1.9M432.3 297.1l1.9 1.9M432.3 299.0l1.9 -1.9M471.1 239.6l1.9 1.9M471.1 241.5l1.9 -1.9M459.7 265.9l1.9 1.9M459.7 267.8l1.9 -1.9M411.9 315.0l1.9 1.9M411.9 316.9l1.9 -1.9M468.0 246.9l1.9 1.9M468.0 248.8l1.9 -1.9M461.7 255.9l1.9 1.9M461.7 257.8l1.9 -1.9M454.4 264.7l1.9 1.9M454.4 266.6l1.9 -1.9M467.6 250.1l1.9 1.9M467.6 252.0l1.9 -1.9M435.3 276.4l1.9 1.9M435.3 278.3l1.9 -1.9M418.1 303.4l1.9 1.9M418.1 305.3l1.9 -1.9M479.6 237.8l1.9 1.9M479.6 239.7l1.9 -1.9M424.0 298.5l1.9 1.9M424.0 300.4l1.9 -1.9M422.4 303.9l1.9 1.9M422.4 305.8l1.9 -1.9M464.1 255.7l1.9 1.9M464.1 257.6l1.9 -1.9M474.2 240.3l1.9 1.9M474.2 242.2l1.9 -1.9M408.4 318.0l1.9 1.9M408.4 319.9l1.9 -1.9M448.0 278.4l1.9 1.9M448.0 280.3l1.9 -1.9M457.8 261.5l1.9 1.9M457.8 263.4l1.9 -1.9M450.0 278.1l1.9 1.9M450.0 280.0l1.9 -1.9M477.9 247.1l1.9 1.9M477.9 249.0l1.9 -1.9M421.4 299.3l1.9 1.9M421.4 301.2l1.9 -1.9M418.4 307.4l1.9 1.9M418.4 309.3l1.9 -1.9M428.0 298.6l1.9 1.9M428.0 300.5l1.9 -1.9M457.3 268.5l1.9 1.9M457.3 270.4l1.9 -1.9M459.1 265.7l1.9 1.9M459.1 267.6l1.9 -1.9M433.0 287.8l1.9 1.9M433.0 289.7l1.9 -1.9M471.3 244.5l1.9 1.9M471.3 246.4l1.9 -1.9M435.5 278.8l1.9 1.9M435.5 280.7l1.9 -1.9M429.3 290.1l1.9 1.9M429.3 292.0l1.9 -1.9M453.1 279.0l1.9 1.9M453.1 280.9l1.9 -1.9M405.4 318.8l1.9 1.9M405.4 320.7l1.9 -1.9M428.3 297.9l1.9 1.9M428.3 299.8l1.9 -1.9M461.4 255.1l1.9 1.9M461.4 257.0l1.9 -1.9M471.5 249.7l1.9 1.9M471.5 251.6l1.9 -1.9M423.9 298.0l1.9 1.9M423.9 299.9l1.9 -1.9M417.9 309.1l1.9 1.9M417.9 311.0l1.9 -1.9M432.7 291.6l1.9 1.9M432.7 293.5l1.9 -1.9M424.1 298.9l1.9 1.9M424.1 300.8l1.9 -1.9M465.3 258.4l1.9 1.9M465.3 260.3l1.9 -1.9M414.6 302.2l1.9 1.9M414.6 304.1l1.9 -1.9M429.5 293.4l1.9 1.9M429.5 295.3l1.9 -1.9M470.2 251.1l1.9 1.9M470.2 253.0l1.9 -1.9M445.0 276.6l1.9 1.9M445.0 278.5l1.9 -1.9M474.6 260.0l1.9 1.9M474.6 261.9l1.9 -1.9M479.4 232.5l1.9 1.9M479.4 234.4l1.9 -1.9M468.2 244.8l1.9 1.9M468.2 246.7l1.9 -1.9M411.1 311.8l1.9 1.9M411.1 313.7l1.9 -1.9M449.3 266.1l1.9 1.9M449.3 268.0l1.9 -1.9M427.2 295.0l1.9 1.9M427.2 296.9l1.9 -1.9M433.1 286.0l1.9 1.9M433.1 287.9l1.9 -1.9M458.4 264.4l1.9 1.9M458.4 266.3l1.9 -1.9M461.6 258.5l1.9 1.9M461.6 260.4l1.9 -1.9M455.3 261.4l1.9 1.9M455.3 263.3l1.9 -1.9M404.8 320.1l1.9 1.9M404.8 322.0l1.9 -1.9M450.8 284.6l1.9 1.9M450.8 286.5l1.9 -1.9M398.4 322.3l1.9 1.9M398.4 324.2l1.9 -1.9M417.2 301.9l1.9 1.9M417.2 303.8l1.9 -1.9M468.6 244.0l1.9 1.9M468.6 245.9l1.9 -1.9M438.1 276.7l1.9 1.9M438.1 278.6l1.9 -1.9M408.9 310.5l1.9 1.9M408.9 312.4l1.9 -1.9M455.9 268.0l1.9 1.9M455.9 269.9l1.9 -1.9M414.2 316.0l1.9 1.9M414.2 317.9l1.9 -1.9M452.1 268.0l1.9 1.9M452.1 269.9l1.9 -1.9M425.0 292.4l1.9 1.9M425.0 294.3l1.9 -1.9M413.8 309.5l1.9 1.9M413.8 311.4l1.9 -1.9M481.1 227.4l1.9 1.9M481.1 229.3l1.9 -1.9M399.4 324.9l1.9 1.9M399.4 326.8l1.9 -1.9M443.1 271.2l1.9 1.9M443.1 273.1l1.9 -1.9M421.7 299.0l1.9 1.9M421.7 300.9l1.9 -1.9M452.9 264.9l1.9 1.9M452.9 266.8l1.9 -1.9M460.1 256.0l1.9 1.9M460.1 257.9l1.9 -1.9M452.4 271.9l1.9 1.9M452.4 273.8l1.9 -1.9M450.2 269.4l1.9 1.9M450.2 271.3l1.9 -1.9M411.0 319.3l1.9 1.9M411.0 321.2l1.9 -1.9M449.4 274.0l1.9 1.9M449.4 275.9l1.9 -1.9M408.2 316.8l1.9 1.9M408.2 318.7l1.9 -1.9M430.7 285.3l1.9 1.9M430.7 287.2l1.9 -1.9M403.0 314.7l1.9 1.9M403.0 316.6l1.9 -1.9M428.7 288.4l1.9 1.9M428.7 290.3l1.9 -1.9M471.5 250.4l1.9 1.9M471.5 252.3l1.9 -1.9M449.3 266.3l1.9 1.9M449.3 268.2l1.9 -1.9M437.4 272.8l1.9 1.9M437.4 274.7l1.9 -1.9M428.8 293.0l1.9 1.9M428.8 294.9l1.9 -1.9M468.4 256.6l1.9 1.9M468.4 258.5l1.9 -1.9M425.4 298.3l1.9 1.9M425.4 300.2l1.9 -1.9M410.5 316.6l1.9 1.9M410.5 318.5l1.9 -1.9M436.6 285.9l1.9 1.9M436.6 287.8l1.9 -1.9M431.6 286.0l1.9 1.9M431.6 287.9l1.9 -1.9M459.1 261.4l1.9 1.9M459.1 263.3l1.9 -1.9M405.9 319.7l1.9 1.9M405.9 321.6l1.9 -1.9M462.1 264.4l1.9 1.9M462.1 266.3l1.9 -1.9M448.4 274.8l1.9 1.9M448.4 276.7l1.9 -1.9M403.8 320.9l1.9 1.9M403.8 322.8l1.9 -1.9M443.0 285.8l1.9 1.9M443.0 287.7l1.9 -1.9M444.7 281.0l1.9 1.9M444.7 282.9l1.9 -1.9M479.1 230.2l1.9 1.9M479.1 232.1l1.9 -1.9M459.7 269.0l1.9 1.9M459.7 270.9l1.9 -1.9M446.9 280.1l1.9 1.9M446.9 282.0l1.9 -1.9M437.2 280.3l1.9 1.9M437.2 282.2l1.9 -1.9M463.6 260.4l1.9 1.9M463.6 262.3l1.9 -1.9M398.3 325.1l1.9 1.9M398.3 327.0l1.9 -1.9M444.5 273.1l1.9 1.9M444.5 275.0l1.9 -1.9M448.3 272.0l1.9 1.9M448.3 273.9l1.9 -1.9M410.0 315.2l1.9 1.9M410.0 317.1l1.9 -1.9M420.0 297.5l1.9 1.9M420.0 299.4l1.9 -1.9M445.9 275.8l1.9 1.9M445.9 277.7l1.9 -1.9M441.7 268.9l1.9 1.9M441.7 270.8l1.9 -1.9M425.0 297.3l1.9 1.9M425.0 299.2l1.9 -1.9M403.8 317.4l1.9 1.9M403.8 319.3l1.9 -1.9M445.3 276.5l1.9 1.9M445.3 278.4l1.9 -1.9M417.9 301.0l1.9 1.9M417.9 302.9l1.9 -1.9M407.3 319.6l1.9 1.9M407.3 321.5l1.9 -1.9M431.6 294.5l1.9 1.9M431.6 296.4l1.9 -1.9M421.6 304.6l1.9 1.9M421.6 306.5l1.9 -1.9M411.7 311.4l1.9 1.9M411.7 313.3l1.9 -1.9M406.3 313.8l1.9 1.9M406.3 315.7l1.9 -1.9M460.9 264.1l1.9 1.9M460.9 266.0l1.9 -1.9M431.7 286.1l1.9 1.9M431.7 288.0l1.9 -1.9M410.3 303.0l1.9 1.9M410.3 304.9l1.9 -1.9M440.8 278.4l1.9 1.9M440.8 280.3l1.9 -1.9M422.8 295.9l1.9 1.9M422.8 297.8l1.9 -1.9M468.5 255.3l1.9 1.9M468.5 257.2l1.9 -1.9M436.7 292.3l1.9 1.9M436.7 294.2l1.9 -1.9M448.8 282.8l1.9 1.9M448.8 284.7l1.9 -1.9M481.4 245.0l1.9 1.9M481.4 246.9l1.9 -1.9M435.9 293.1l1.9 1.9M435.9 295.0l1.9 -1.9M419.8 308.0l1.9 1.9M419.8 309.9l1.9 -1.9M475.6 242.0l1.9 1.9M475.6 243.9l1.9 -1.9M446.5 273.5l1.9 1.9M446.5 275.4l1.9 -1.9M480.6 261.6l1.9 1.9M480.6 263.5l1.9 -1.9M475.8 252.4l1.9 1.9M475.8 254.3l1.9 -1.9M456.1 262.7l1.9 1.9M456.1 264.6l1.9 -1.9M411.9 313.1l1.9 1.9M411.9 315.0l1.9 -1.9M445.1 273.3l1.9 1.9M445.1 275.2l1.9 -1.9M415.6 309.5l1.9 1.9M415.6 311.4l1.9 -1.9M411.7 312.1l1.9 1.9M411.7 314.0l1.9 -1.9M439.9 275.0l1.9 1.9M439.9 276.9l1.9 -1.9M420.5 302.1l1.9 1.9M420.5 304.0l1.9 -1.9M451.2 261.5l1.9 1.9M451.2 263.4l1.9 -1.9M477.2 232.9l1.9 1.9M477.2 234.8l1.9 -1.9M405.8 315.4l1.9 1.9M405.8 317.3l1.9 -1.9M423.3 296.2l1.9 1.9M423.3 298.1l1.9 -1.9M413.9 309.0l1.9 1.9M413.9 310.9l1.9 -1.9M409.4 315.0l1.9 1.9M409.4 316.9l1.9 -1.9M470.5 254.7l1.9 1.9M470.5 256.6l1.9 -1.9M425.6 296.1l1.9 1.9M425.6 298.0l1.9 -1.9M424.2 301.1l1.9 1.9M424.2 303.0l1.9 -1.9M401.2 321.5l1.9 1.9M401.2 323.4l1.9 -1.9M411.9 314.0l1.9 1.9M411.9 315.9l1.9 -1.9M472.5 243.4l1.9 1.9M472.5 245.3l1.9 -1.9M472.2 262.9l1.9 1.9M472.2 264.8l1.9 -1.9M413.0 310.5l1.9 1.9M413.0 312.4l1.9 -1.9M448.6 269.2l1.9 1.9M448.6 271.1l1.9 -1.9M473.8 251.2l1.9 1.9M473.8 253.1l1.9 -1.9M443.1 278.7l1.9 1.9M443.1 280.6l1.9 -1.9M436.3 296.7l1.9 1.9M436.3 298.6l1.9 -1.9M428.7 293.8l1.9 1.9M428.7 295.7l1.9 -1.9M464.6 252.6l1.9 1.9M464.6 254.5l1.9 -1.9M411.7 311.7l1.9 1.9M411.7 313.6l1.9 -1.9M426.4 295.2l1.9 1.9M426.4 297.1l1.9 -1.9M471.6 254.1l1.9 1.9M471.6 256.0l1.9 -1.9M435.9 284.8l1.9 1.9M435.9 286.7l1.9 -1.9M439.7 280.7l1.9 1.9M439.7 282.6l1.9 -1.9M470.2 261.6l1.9 1.9M470.2 263.5l1.9 -1.9M467.3 259.1l1.9 1.9M467.3 261.0l1.9 -1.9M449.3 271.3l1.9 1.9M449.3 273.2l1.9 -1.9M468.6 242.2l1.9 1.9M468.6 244.1l1.9 -1.9M400.8 323.7l1.9 1.9M400.8 325.6l1.9 -1.9M419.8 299.9l1.9 1.9M419.8 301.8l1.9 -1.9M442.1 266.7l1.9 1.9M442.1 268.6l1.9 -1.9M420.2 308.4l1.9 1.9M420.2 310.3l1.9 -1.9M426.8 293.5l1.9 1.9M426.8 295.4l1.9 -1.9M422.3 304.8l1.9 1.9M422.3 306.7l1.9 -1.9M443.2 277.7l1.9 1.9M443.2 279.6l1.9 -1.9M424.4 300.6l1.9 1.9M424.4 302.5l1.9 -1.9M461.7 265.7l1.9 1.9M461.7 267.6l1.9 -1.9M442.0 275.3l1.9 1.9M442.0 277.2l1.9 -1.9M468.1 258.1l1.9 1.9M468.1 260.0l1.9 -1.9M409.5 311.4l1.9 1.9M409.5 313.3l1.9 -1.9M398.4 329.9l1.9 1.9M398.4 331.8l1.9 -1.9M438.7 280.1l1.9 1.9M438.7 282.0l1.9 -1.9M439.8 271.2l1.9 1.9M439.8 273.1l1.9 -1.9M455.5 266.6l1.9 1.9M455.5 268.5l1.9 -1.9M456.7 264.2l1.9 1.9M456.7 266.1l1.9 -1.9M429.2 290.8l1.9 1.9M429.2 292.7l1.9 -1.9M462.9 262.9l1.9 1.9M462.9 264.8l1.9 -1.9M435.4 280.0l1.9 1.9M435.4 281.9l1.9 -1.9M434.0 299.2l1.9 1.9M434.0 301.1l1.9 -1.9M460.4 258.3l1.9 1.9M460.4 260.2l1.9 -1.9M456.5 268.1l1.9 1.9M456.5 270.0l1.9 -1.9M443.6 277.7l1.9 1.9M443.6 279.6l1.9 -1.9M443.1 272.2l1.9 1.9M443.1 274.1l1.9 -1.9M483.6 235.2l1.9 1.9M483.6 237.1l1.9 -1.9M436.6 279.7l1.9 1.9M436.6 281.6l1.9 -1.9M441.5 277.2l1.9 1.9M441.5 279.1l1.9 -1.9M443.3 273.2l1.9 1.9M443.3 275.1l1.9 -1.9M427.6 303.0l1.9 1.9M427.6 304.9l1.9 -1.9M467.9 259.8l1.9 1.9M467.9 261.7l1.9 -1.9M475.5 249.2l1.9 1.9M475.5 251.1l1.9 -1.9M450.9 274.8l1.9 1.9M450.9 276.7l1.9 -1.9M401.9 318.7l1.9 1.9M401.9 320.6l1.9 -1.9M402.8 323.0l1.9 1.9M402.8 324.9l1.9 -1.9M441.3 279.6l1.9 1.9M441.3 281.5l1.9 -1.9M423.8 295.4l1.9 1.9M423.8 297.3l1.9 -1.9M426.0 293.2l1.9 1.9M426.0 295.1l1.9 -1.9M433.0 290.8l1.9 1.9M433.0 292.7l1.9 -1.9M424.7 304.9l1.9 1.9M424.7 306.8l1.9 -1.9M430.8 295.0l1.9 1.9M430.8 296.9l1.9 -1.9M436.8 286.3l1.9 1.9M436.8 288.2l1.9 -1.9M447.1 267.8l1.9 1.9M447.1 269.7l1.9 -1.9M443.1 281.3l1.9 1.9M443.1 283.2l1.9 -1.9M442.4 285.8l1.9 1.9M442.4 287.7l1.9 -1.9M424.8 291.6l1.9 1.9M424.8 293.5l1.9 -1.9M465.2 255.0l1.9 1.9M465.2 256.9l1.9 -1.9M462.1 261.3l1.9 1.9M462.1 263.2l1.9 -1.9M474.7 248.4l1.9 1.9M474.7 250.3l1.9 -1.9M421.6 302.2l1.9 1.9M421.6 304.1l1.9 -1.9M425.3 297.8l1.9 1.9M425.3 299.7l1.9 -1.9M434.1 291.2l1.9 1.9M434.1 293.1l1.9 -1.9M459.5 258.4l1.9 1.9M459.5 260.3l1.9 -1.9M436.5 290.5l1.9 1.9M436.5 292.4l1.9 -1.9M443.9 274.5l1.9 1.9M443.9 276.4l1.9 -1.9M438.0 270.3l1.9 1.9M438.0 272.2l1.9 -1.9M439.3 289.5l1.9 1.9M439.3 291.4l1.9 -1.9M425.1 296.1l1.9 1.9M425.1 298.0l1.9 -1.9M452.1 273.8l1.9 1.9M452.1 275.7l1.9 -1.9M435.3 289.3l1.9 1.9M435.3 291.2l1.9 -1.9M422.9 298.8l1.9 1.9M422.9 300.7l1.9 -1.9M440.6 271.6l1.9 1.9M440.6 273.5l1.9 -1.9M457.2 269.8l1.9 1.9M457.2 271.7l1.9 -1.9M428.7 303.1l1.9 1.9M428.7 305.0l1.9 -1.9M458.6 244.7l1.9 1.9M458.6 246.6l1.9 -1.9M436.5 279.0l1.9 1.9M436.5 280.9l1.9 -1.9M446.1 269.5l1.9 1.9M446.1 271.4l1.9 -1.9M435.2 286.2l1.9 1.9M435.2 288.1l1.9 -1.9M445.1 271.9l1.9 1.9M445.1 273.8l1.9 -1.9M465.9 257.5l1.9 1.9M465.9 259.4l1.9 -1.9M419.4 301.6l1.9 1.9M419.4 303.5l1.9 -1.9M420.1 304.8l1.9 1.9M420.1 306.7l1.9 -1.9M418.0 307.2l1.9 1.9M418.0 309.1l1.9 -1.9M407.5 311.0l1.9 1.9M407.5 312.9l1.9 -1.9M413.9 310.4l1.9 1.9M413.9 312.3l1.9 -1.9M463.4 251.6l1.9 1.9M463.4 253.5l1.9 -1.9M435.3 283.4l1.9 1.9M435.3 285.3l1.9 -1.9M452.6 267.9l1.9 1.9M452.6 269.8l1.9 -1.9M441.2 287.0l1.9 1.9M441.2 288.9l1.9 -1.9M477.9 238.9l1.9 1.9M477.9 240.8l1.9 -1.9M446.7 274.5l1.9 1.9M446.7 276.4l1.9 -1.9M442.5 264.1l1.9 1.9M442.5 266.0l1.9 -1.9M480.6 229.6l1.9 1.9M480.6 231.5l1.9 -1.9M413.7 304.5l1.9 1.9M413.7 306.4l1.9 -1.9M418.0 303.1l1.9 1.9M418.0 305.0l1.9 -1.9M423.0 304.2l1.9 1.9M423.0 306.1l1.9 -1.9M410.7 309.9l1.9 1.9M410.7 311.8l1.9 -1.9M437.3 280.1l1.9 1.9M437.3 282.0l1.9 -1.9M445.2 274.4l1.9 1.9M445.2 276.3l1.9 -1.9M467.7 262.6l1.9 1.9M467.7 264.5l1.9 -1.9M459.3 252.4l1.9 1.9M459.3 254.3l1.9 -1.9M470.3 251.8l1.9 1.9M470.3 253.7l1.9 -1.9M422.0 299.7l1.9 1.9M422.0 301.6l1.9 -1.9M447.4 278.0l1.9 1.9M447.4 279.9l1.9 -1.9M473.5 228.9l1.9 1.9M473.5 230.8l1.9 -1.9M422.2 297.9l1.9 1.9M422.2 299.8l1.9 -1.9M469.1 224.1l1.9 1.9M469.1 226.0l1.9 -1.9M488.3 227.9l1.9 1.9M488.3 229.8l1.9 -1.9" stroke="#0000ff" stroke-width="1.00" stroke-opacity="0.55" fill="none" clip-path="url(#c5)"/>
<path d="M385.30 339.75L526.10 202.55" stroke="#ff4455" stroke-width="0.95" stroke-opacity="1" stroke-dasharray="2.965 2.965" stroke-dashoffset="1.48" fill="none" clip-path="url(#c5)"/>
<path d="M385.30 340.38L526.10 194.95" stroke="#222" stroke-width="0.85" fill="none" clip-path="url(#c5)"/>
<path d="M413.46 339.75v-1.5M413.46 202.55v1.5M385.30 312.31h1.5M526.10 312.31h-1.5M441.62 339.75v-1.5M441.62 202.55v1.5M385.30 284.87h1.5M526.10 284.87h-1.5M469.78 339.75v-1.5M469.78 202.55v1.5M385.30 257.43h1.5M526.10 257.43h-1.5M497.94 339.75v-1.5M497.94 202.55v1.5M385.30 229.99h1.5M526.10 229.99h-1.5" stroke="#333" stroke-width="0.6" fill="none"/>
<rect x="385.30" y="202.55" width="140.80" height="137.20" fill="none" stroke="#555" stroke-width="1"/>
<rect x="388.60" y="205.95" width="108.10" height="14.50" rx="1" fill="#fff" stroke="#707070" stroke-width="0.9"/>
<path d="M393.00 213.45H403.70" stroke="#333" stroke-width="0.75"/>
<clipPath id="c6"><rect x="29.50" y="388.60" width="140.80" height="137.20"/></clipPath>
<path d="M57.66 388.60V525.80M85.82 388.60V525.80M113.98 388.60V525.80M142.14 388.60V525.80" stroke="#d8d8d8" stroke-width="0.90" stroke-dasharray="1 1" stroke-dashoffset="1.60" fill="none"/>
<path d="M29.50 498.36H170.30M29.50 470.92H170.30M29.50 443.48H170.30M29.50 416.04H170.30" stroke="#d8d8d8" stroke-width="0.90" stroke-dasharray="1 1" stroke-dashoffset="1.50" fill="none"/>
<path d="M67.9 486.1l1.9 1.9M67.9 488.0l1.9 -1.9M107.5 442.8l1.9 1.9M107.5 444.7l1.9 -1.9M79.3 465.8l1.9 1.9M79.3 467.7l1.9 -1.9M93.6 456.9l1.9 1.9M93.6 458.8l1.9 -1.9M110.8 435.3l1.9 1.9M110.8 437.2l1.9 -1.9M86.2 457.1l1.9 1.9M86.2 459.0l1.9 -1.9M80.7 470.4l1.9 1.9M80.7 472.3l1.9 -1.9M64.2 488.9l1.9 1.9M64.2 490.8l1.9 -1.9M91.2 459.4l1.9 1.9M91.2 461.3l1.9 -1.9M96.9 456.6l1.9 1.9M96.9 458.5l1.9 -1.9M103.2 440.0l1.9 1.9M103.2 441.9l1.9 -1.9M98.2 456.7l1.9 1.9M98.2 458.6l1.9 -1.9M79.4 484.0l1.9 1.9M79.4 485.9l1.9 -1.9M63.2 485.7l1.9 1.9M63.2 487.6l1.9 -1.9M69.8 476.1l1.9 1.9M69.8 478.0l1.9 -1.9M99.9 445.9l1.9 1.9M99.9 447.8l1.9 -1.9M65.9 483.4l1.9 1.9M65.9 485.3l1.9 -1.9M81.7 468.2l1.9 1.9M81.7 470.1l1.9 -1.9M99.8 461.7l1.9 1.9M99.8 463.6l1.9 -1.9M61.5 485.1l1.9 1.9M61.5 487.0l1.9 -1.9M97.4 458.3l1.9 1.9M97.4 460.2l1.9 -1.9M110.5 446.8l1.9 1.9M110.5 448.7l1.9 -1.9M82.7 468.5l1.9 1.9M82.7 470.4l1.9 -1.9M83.3 469.6l1.9 1.9M83.3 471.5l1.9 -1.9M116.7 440.7l1.9 1.9M116.7 442.6l1.9 -1.9M72.2 484.8l1.9 1.9M72.2 486.7l1.9 -1.9M89.6 456.5l1.9 1.9M89.6 458.4l1.9 -1.9M103.6 441.3l1.9 1.9M103.6 443.2l1.9 -1.9M101.8 452.3l1.9 1.9M101.8 454.2l1.9 -1.9M79.3 480.4l1.9 1.9M79.3 482.3l1.9 -1.9M78.1 473.5l1.9 1.9M78.1 475.4l1.9 -1.9M94.5 456.4l1.9 1.9M94.5 458.3l1.9 -1.9M80.7 468.6l1.9 1.9M80.7 470.5l1.9 -1.9M89.7 464.9l1.9 1.9M89.7 466.8l1.9 -1.9M78.1 459.7l1.9 1.9M78.1 461.6l1.9 -1.9M105.4 451.1l1.9 1.9M105.4 453.0l1.9 -1.9M108.6 453.2l1.9 1.9M108.6 455.1l1.9 -1.9M82.1 467.5l1.9 1.9M82.1 469.4l1.9 -1.9M88.1 454.5l1.9 1.9M88.1 456.4l1.9 -1.9M71.0 477.8l1.9 1.9M71.0 479.7l1.9 -1.9M88.4 464.7l1.9 1.9M88.4 466.6l1.9 -1.9M72.0 482.0l1.9 1.9M72.0 483.9l1.9 -1.9M82.5 468.7l1.9 1.9M82.5 470.6l1.9 -1.9M72.1 482.5l1.9 1.9M72.1 484.4l1.9 -1.9M87.4 463.4l1.9 1.9M87.4 465.3l1.9 -1.9M95.0 464.3l1.9 1.9M95.0 466.2l1.9 -1.9M85.9 465.1l1.9 1.9M85.9 467.0l1.9 -1.9M114.7 436.4l1.9 1.9M114.7 438.3l1.9 -1.9M75.8 477.4l1.9 1.9M75.8 479.3l1.9 -1.9M96.0 460.2l1.9 1.9M96.0 462.1l1.9 -1.9M85.2 475.8l1.9 1.9M85.2 477.7l1.9 -1.9M82.4 475.7l1.9 1.9M82.4 477.6l1.9 -1.9M85.1 472.5l1.9 1.9M85.1 474.4l1.9 -1.9M92.4 472.2l1.9 1.9M92.4 474.1l1.9 -1.9M96.4 460.0l1.9 1.9M96.4 461.9l1.9 -1.9M93.3 452.7l1.9 1.9M93.3 454.6l1.9 -1.9M85.2 472.3l1.9 1.9M85.2 474.2l1.9 -1.9M74.9 484.0l1.9 1.9M74.9 485.9l1.9 -1.9M113.1 433.3l1.9 1.9M113.1 435.2l1.9 -1.9M67.8 487.9l1.9 1.9M67.8 489.8l1.9 -1.9M100.9 446.3l1.9 1.9M100.9 448.2l1.9 -1.9M86.2 466.5l1.9 1.9M86.2 468.4l1.9 -1.9M98.0 456.9l1.9 1.9M98.0 458.8l1.9 -1.9M78.5 470.2l1.9 1.9M78.5 472.1l1.9 -1.9M58.8 490.1l1.9 1.9M58.8 492.0l1.9 -1.9M47.9 505.7l1.9 1.9M47.9 507.6l1.9 -1.9M81.0 471.8l1.9 1.9M81.0 473.7l1.9 -1.9M87.5 464.1l1.9 1.9M87.5 466.0l1.9 -1.9M84.2 474.1l1.9 1.9M84.2 476.0l1.9 -1.9M78.3 465.8l1.9 1.9M78.3 467.7l1.9 -1.9M93.4 464.9l1.9 1.9M93.4 466.8l1.9 -1.9M99.7 447.3l1.9 1.9M99.7 449.2l1.9 -1.9M52.6 498.2l1.9 1.9M52.6 500.1l1.9 -1.9M83.9 465.4l1.9 1.9M83.9 467.3l1.9 -1.9M61.4 494.0l1.9 1.9M61.4 495.9l1.9 -1.9M118.1 430.6l1.9 1.9M118.1 432.5l1.9 -1.9M97.1 457.5l1.9 1.9M97.1 459.4l1.9 -1.9M89.8 462.9l1.9 1.9M89.8 464.8l1.9 -1.9M71.5 475.9l1.9 1.9M71.5 477.8l1.9 -1.9M81.2 456.2l1.9 1.9M81.2 458.1l1.9 -1.9M91.6 462.5l1.9 1.9M91.6 464.4l1.9 -1.9M77.3 468.9l1.9 1.9M77.3 470.8l1.9 -1.9M52.0 500.6l1.9 1.9M52.0 502.5l1.9 -1.9M86.8 467.1l1.9 1.9M86.8 469.0l1.9 -1.9M93.4 458.4l1.9 1.9M93.4 460.3l1.9 -1.9M63.5 497.4l1.9 1.9M63.5 499.3l1.9 -1.9M59.9 488.1l1.9 1.9M59.9 490.0l1.9 -1.9M78.1 483.0l1.9 1.9M78.1 484.9l1.9 -1.9M75.0 476.6l1.9 1.9M75.0 478.5l1.9 -1.9M63.6 486.9l1.9 1.9M63.6 488.8l1.9 -1.9M75.3 472.5l1.9 1.9M75.3 474.4l1.9 -1.9M60.1 493.4l1.9 1.9M60.1 495.3l1.9 -1.9M90.6 461.1l1.9 1.9M90.6 463.0l1.9 -1.9M96.5 456.1l1.9 1.9M96.5 458.0l1.9 -1.9M86.9 466.7l1.9 1.9M86.9 468.6l1.9 -1.9M78.1 472.7l1.9 1.9M78.1 474.6l1.9 -1.9M62.2 489.2l1.9 1.9M62.2 491.1l1.9 -1.9M64.2 485.8l1.9 1.9M64.2 487.7l1.9 -1.9M111.5 444.6l1.9 1.9M111.5 446.5l1.9 -1.9M71.8 484.5l1.9 1.9M71.8 486.4l1.9 -1.9M63.9 479.3l1.9 1.9M63.9 481.2l1.9 -1.9M91.7 453.4l1.9 1.9M91.7 455.3l1.9 -1.9M79.3 467.8l1.9 1.9M79.3 469.7l1.9 -1.9M72.2 484.4l1.9 1.9M72.2 486.3l1.9 -1.9M113.1 443.1l1.9 1.9M113.1 445.0l1.9 -1.9M88.0 460.6l1.9 1.9M88.0 462.5l1.9 -1.9M116.9 425.8l1.9 1.9M116.9 427.7l1.9 -1.9M47.0 508.7l1.9 1.9M47.0 510.6l1.9 -1.9M92.4 450.8l1.9 1.9M92.4 452.7l1.9 -1.9M90.6 457.4l1.9 1.9M90.6 459.3l1.9 -1.9M121.2 415.1l1.9 1.9M121.2 417.0l1.9 -1.9M105.1 496.0l1.9 1.9M105.1 497.9l1.9 -1.9M94.7 482.0l1.9 1.9M94.7 483.9l1.9 -1.9" stroke="#0000ff" stroke-width="1.00" stroke-opacity="0.55" fill="none" clip-path="url(#c6)"/>
<path d="M29.50 525.80L170.30 388.60" stroke="#ff4455" stroke-width="0.95" stroke-opacity="1" stroke-dasharray="2.965 2.965" stroke-dashoffset="1.48" fill="none" clip-path="url(#c6)"/>
<path d="M29.50 523.80L170.30 383.85" stroke="#222" stroke-width="0.85" fill="none" clip-path="url(#c6)"/>
<path d="M57.66 525.80v-1.5M57.66 388.60v1.5M29.50 498.36h1.5M170.30 498.36h-1.5M85.82 525.80v-1.5M85.82 388.60v1.5M29.50 470.92h1.5M170.30 470.92h-1.5M113.98 525.80v-1.5M113.98 388.60v1.5M29.50 443.48h1.5M170.30 443.48h-1.5M142.14 525.80v-1.5M142.14 388.60v1.5M29.50 416.04h1.5M170.30 416.04h-1.5" stroke="#333" stroke-width="0.6" fill="none"/>
<rect x="29.50" y="388.60" width="140.80" height="137.20" fill="none" stroke="#555" stroke-width="1"/>
<rect x="32.80" y="392.00" width="111.58" height="14.50" rx="1" fill="#fff" stroke="#707070" stroke-width="0.9"/>
<path d="M37.20 399.50H47.90" stroke="#333" stroke-width="0.75"/>
<clipPath id="c7"><rect x="207.40" y="388.60" width="140.80" height="137.20"/></clipPath>
<path d="M235.56 388.60V525.80M263.72 388.60V525.80M291.88 388.60V525.80M320.04 388.60V525.80" stroke="#d8d8d8" stroke-width="0.90" stroke-dasharray="1 1" stroke-dashoffset="1.60" fill="none"/>
<path d="M207.40 498.36H348.20M207.40 470.92H348.20M207.40 443.48H348.20M207.40 416.04H348.20" stroke="#d8d8d8" stroke-width="0.90" stroke-dasharray="1 1" stroke-dashoffset="1.40" fill="none"/>
<path d="M274.6 448.0l1.9 1.9M274.6 449.9l1.9 -1.9M290.1 441.5l1.9 1.9M290.1 443.4l1.9 -1.9M286.8 436.3l1.9 1.9M286.8 438.2l1.9 -1.9M269.9 467.5l1.9 1.9M269.9 469.4l1.9 -1.9M246.1 481.1l1.9 1.9M246.1 483.0l1.9 -1.9M246.3 481.9l1.9 1.9M246.3 483.8l1.9 -1.9M257.3 464.3l1.9 1.9M257.3 466.2l1.9 -1.9M259.5 469.1l1.9 1.9M259.5 471.0l1.9 -1.9M271.7 457.0l1.9 1.9M271.7 458.9l1.9 -1.9M263.3 458.2l1.9 1.9M263.3 460.1l1.9 -1.9M253.9 473.4l1.9 1.9M253.9 475.3l1.9 -1.9M270.7 455.6l1.9 1.9M270.7 457.5l1.9 -1.9M281.0 450.4l1.9 1.9M281.0 452.3l1.9 -1.9M272.9 458.4l1.9 1.9M272.9 460.3l1.9 -1.9M277.7 453.5l1.9 1.9M277.7 455.4l1.9 -1.9M265.8 462.9l1.9 1.9M265.8 464.8l1.9 -1.9M248.7 486.7l1.9 1.9M248.7 488.6l1.9 -1.9M283.9 450.9l1.9 1.9M283.9 452.8l1.9 -1.9M244.2 490.6l1.9 1.9M244.2 492.5l1.9 -1.9M246.5 481.1l1.9 1.9M246.5 483.0l1.9 -1.9M235.2 494.3l1.9 1.9M235.2 496.2l1.9 -1.9M291.9 431.0l1.9 1.9M291.9 432.9l1.9 -1.9M227.0 498.2l1.9 1.9M227.0 500.1l1.9 -1.9M253.5 477.4l1.9 1.9M253.5 479.3l1.9 -1.9M231.7 496.4l1.9 1.9M231.7 498.3l1.9 -1.9M245.6 483.1l1.9 1.9M245.6 485.0l1.9 -1.9M270.3 454.1l1.9 1.9M270.3 456.0l1.9 -1.9M287.4 432.8l1.9 1.9M287.4 434.7l1.9 -1.9M260.6 467.4l1.9 1.9M260.6 469.3l1.9 -1.9M294.9 414.3l1.9 1.9M294.9 416.2l1.9 -1.9M240.3 489.3l1.9 1.9M240.3 491.2l1.9 -1.9M256.2 465.1l1.9 1.9M256.2 467.0l1.9 -1.9M256.3 470.3l1.9 1.9M256.3 472.2l1.9 -1.9M285.9 453.2l1.9 1.9M285.9 455.1l1.9 -1.9M282.8 445.6l1.9 1.9M282.8 447.5l1.9 -1.9M249.9 482.7l1.9 1.9M249.9 484.6l1.9 -1.9M263.0 464.5l1.9 1.9M263.0 466.4l1.9 -1.9M251.5 479.5l1.9 1.9M251.5 481.4l1.9 -1.9M293.5 446.5l1.9 1.9M293.5 448.4l1.9 -1.9M272.7 450.1l1.9 1.9M272.7 452.0l1.9 -1.9M238.4 491.3l1.9 1.9M238.4 493.2l1.9 -1.9M272.3 455.8l1.9 1.9M272.3 457.7l1.9 -1.9M273.2 461.4l1.9 1.9M273.2 463.3l1.9 -1.9M245.0 483.3l1.9 1.9M245.0 485.2l1.9 -1.9M259.8 468.9l1.9 1.9M259.8 470.8l1.9 -1.9M285.0 450.0l1.9 1.9M285.0 451.9l1.9 -1.9M288.5 449.2l1.9 1.9M288.5 451.1l1.9 -1.9M261.5 468.1l1.9 1.9M261.5 470.0l1.9 -1.9M236.5 496.4l1.9 1.9M236.5 498.3l1.9 -1.9M259.7 466.7l1.9 1.9M259.7 468.6l1.9 -1.9M248.8 480.8l1.9 1.9M248.8 482.7l1.9 -1.9M268.8 475.2l1.9 1.9M268.8 477.1l1.9 -1.9M261.3 471.9l1.9 1.9M261.3 473.8l1.9 -1.9M244.4 483.3l1.9 1.9M244.4 485.2l1.9 -1.9M259.9 474.8l1.9 1.9M259.9 476.7l1.9 -1.9M240.2 485.8l1.9 1.9M240.2 487.7l1.9 -1.9M285.7 450.2l1.9 1.9M285.7 452.1l1.9 -1.9M291.0 450.1l1.9 1.9M291.0 452.0l1.9 -1.9M284.9 455.8l1.9 1.9M284.9 457.7l1.9 -1.9M253.8 478.1l1.9 1.9M253.8 480.0l1.9 -1.9M274.1 460.4l1.9 1.9M274.1 462.3l1.9 -1.9M282.1 457.5l1.9 1.9M282.1 459.4l1.9 -1.9M260.5 466.0l1.9 1.9M260.5 467.9l1.9 -1.9M270.5 455.9l1.9 1.9M270.5 457.8l1.9 -1.9M230.9 502.8l1.9 1.9M230.9 504.7l1.9 -1.9M250.1 473.4l1.9 1.9M250.1 475.3l1.9 -1.9M258.9 466.0l1.9 1.9M258.9 467.9l1.9 -1.9M253.0 481.2l1.9 1.9M253.0 483.1l1.9 -1.9M244.0 487.3l1.9 1.9M244.0 489.2l1.9 -1.9M265.6 471.4l1.9 1.9M265.6 473.3l1.9 -1.9M274.2 455.5l1.9 1.9M274.2 457.4l1.9 -1.9M283.2 457.4l1.9 1.9M283.2 459.3l1.9 -1.9M255.9 470.9l1.9 1.9M255.9 472.8l1.9 -1.9M252.9 483.3l1.9 1.9M252.9 485.2l1.9 -1.9M283.7 443.3l1.9 1.9M283.7 445.2l1.9 -1.9M267.2 457.2l1.9 1.9M267.2 459.1l1.9 -1.9M277.0 451.4l1.9 1.9M277.0 453.3l1.9 -1.9M262.5 466.6l1.9 1.9M262.5 468.5l1.9 -1.9M279.3 442.2l1.9 1.9M279.3 444.1l1.9 -1.9M291.8 442.3l1.9 1.9M291.8 444.2l1.9 -1.9M283.8 455.2l1.9 1.9M283.8 457.1l1.9 -1.9M236.3 504.3l1.9 1.9M236.3 506.2l1.9 -1.9M249.7 484.4l1.9 1.9M249.7 486.3l1.9 -1.9M269.1 458.3l1.9 1.9M269.1 460.2l1.9 -1.9M266.4 463.1l1.9 1.9M266.4 465.0l1.9 -1.9M265.6 468.6l1.9 1.9M265.6 470.5l1.9 -1.9M288.8 437.1l1.9 1.9M288.8 439.0l1.9 -1.9M278.3 452.0l1.9 1.9M278.3 453.9l1.9 -1.9M282.0 453.9l1.9 1.9M282.0 455.8l1.9 -1.9M277.3 449.8l1.9 1.9M277.3 451.7l1.9 -1.9M249.2 485.4l1.9 1.9M249.2 487.3l1.9 -1.9M278.1 447.2l1.9 1.9M278.1 449.1l1.9 -1.9M269.5 458.5l1.9 1.9M269.5 460.4l1.9 -1.9M285.1 445.9l1.9 1.9M285.1 447.8l1.9 -1.9M276.0 450.8l1.9 1.9M276.0 452.7l1.9 -1.9M260.7 458.7l1.9 1.9M260.7 460.6l1.9 -1.9M237.9 489.8l1.9 1.9M237.9 491.7l1.9 -1.9M261.0 460.1l1.9 1.9M261.0 462.0l1.9 -1.9M235.8 492.0l1.9 1.9M235.8 493.9l1.9 -1.9M281.3 448.1l1.9 1.9M281.3 450.0l1.9 -1.9M258.8 470.6l1.9 1.9M258.8 472.5l1.9 -1.9M290.5 439.3l1.9 1.9M290.5 441.2l1.9 -1.9M294.8 436.7l1.9 1.9M294.8 438.6l1.9 -1.9M245.4 481.2l1.9 1.9M245.4 483.1l1.9 -1.9M281.1 442.5l1.9 1.9M281.1 444.4l1.9 -1.9M287.0 454.3l1.9 1.9M287.0 456.2l1.9 -1.9M251.7 467.4l1.9 1.9M251.7 469.3l1.9 -1.9M267.9 460.4l1.9 1.9M267.9 462.3l1.9 -1.9M292.1 429.9l1.9 1.9M292.1 431.8l1.9 -1.9M274.0 450.5l1.9 1.9M274.0 452.4l1.9 -1.9M241.5 483.2l1.9 1.9M241.5 485.1l1.9 -1.9M268.2 449.3l1.9 1.9M268.2 451.2l1.9 -1.9M267.4 462.2l1.9 1.9M267.4 464.1l1.9 -1.9M232.3 495.4l1.9 1.9M232.3 497.3l1.9 -1.9M294.6 433.5l1.9 1.9M294.6 435.4l1.9 -1.9M282.1 449.8l1.9 1.9M282.1 451.7l1.9 -1.9M252.1 469.0l1.9 1.9M252.1 470.9l1.9 -1.9M272.1 460.7l1.9 1.9M272.1 462.6l1.9 -1.9M261.0 473.3l1.9 1.9M261.0 475.2l1.9 -1.9M258.0 473.1l1.9 1.9M258.0 475.0l1.9 -1.9M255.8 470.7l1.9 1.9M255.8 472.6l1.9 -1.9M262.4 464.3l1.9 1.9M262.4 466.2l1.9 -1.9M283.9 449.0l1.9 1.9M283.9 450.9l1.9 -1.9M245.5 485.2l1.9 1.9M245.5 487.1l1.9 -1.9M267.1 464.7l1.9 1.9M267.1 466.6l1.9 -1.9M266.2 472.0l1.9 1.9M266.2 473.9l1.9 -1.9M267.4 469.4l1.9 1.9M267.4 471.3l1.9 -1.9M273.0 461.8l1.9 1.9M273.0 463.7l1.9 -1.9M275.0 447.2l1.9 1.9M275.0 449.1l1.9 -1.9M239.0 484.8l1.9 1.9M239.0 486.7l1.9 -1.9M297.9 424.6l1.9 1.9M297.9 426.5l1.9 -1.9M244.5 489.4l1.9 1.9M244.5 491.3l1.9 -1.9M271.2 461.5l1.9 1.9M271.2 463.4l1.9 -1.9M258.2 481.5l1.9 1.9M258.2 483.4l1.9 -1.9M254.7 483.7l1.9 1.9M254.7 485.6l1.9 -1.9M252.6 479.4l1.9 1.9M252.6 481.3l1.9 -1.9M254.1 482.3l1.9 1.9M254.1 484.2l1.9 -1.9M260.9 469.4l1.9 1.9M260.9 471.3l1.9 -1.9M282.5 444.3l1.9 1.9M282.5 446.2l1.9 -1.9M283.0 452.8l1.9 1.9M283.0 454.7l1.9 -1.9M258.2 476.5l1.9 1.9M258.2 478.4l1.9 -1.9M262.8 467.0l1.9 1.9M262.8 468.9l1.9 -1.9M274.8 453.4l1.9 1.9M274.8 455.3l1.9 -1.9M269.0 462.1l1.9 1.9M269.0 464.0l1.9 -1.9M277.8 454.1l1.9 1.9M277.8 456.0l1.9 -1.9M243.7 490.9l1.9 1.9M243.7 492.8l1.9 -1.9M257.3 470.2l1.9 1.9M257.3 472.1l1.9 -1.9M240.5 493.8l1.9 1.9M240.5 495.7l1.9 -1.9M266.9 473.2l1.9 1.9M266.9 475.1l1.9 -1.9M263.2 468.5l1.9 1.9M263.2 470.4l1.9 -1.9M282.3 449.8l1.9 1.9M282.3 451.7l1.9 -1.9M262.8 470.0l1.9 1.9M262.8 471.9l1.9 -1.9M284.6 444.6l1.9 1.9M284.6 446.5l1.9 -1.9M264.6 469.1l1.9 1.9M264.6 471.0l1.9 -1.9M311.4 436.6l1.9 1.9M311.4 438.5l1.9 -1.9M262.9 474.8l1.9 1.9M262.9 476.7l1.9 -1.9M279.6 445.8l1.9 1.9M279.6 447.7l1.9 -1.9M244.5 485.3l1.9 1.9M244.5 487.2l1.9 -1.9M270.0 461.0l1.9 1.9M270.0 462.9l1.9 -1.9M311.8 423.0l1.9 1.9M311.8 424.9l1.9 -1.9M224.6 502.0l1.9 1.9M224.6 503.9l1.9 -1.9M288.6 444.0l1.9 1.9M288.6 445.9l1.9 -1.9M272.0 450.8l1.9 1.9M272.0 452.7l1.9 -1.9M260.2 467.6l1.9 1.9M260.2 469.5l1.9 -1.9M287.5 434.3l1.9 1.9M287.5 436.2l1.9 -1.9M247.4 477.2l1.9 1.9M247.4 479.1l1.9 -1.9M252.2 479.0l1.9 1.9M252.2 480.9l1.9 -1.9M262.3 465.0l1.9 1.9M262.3 466.9l1.9 -1.9M289.7 450.7l1.9 1.9M289.7 452.6l1.9 -1.9M245.9 487.4l1.9 1.9M245.9 489.3l1.9 -1.9M270.2 450.5l1.9 1.9M270.2 452.4l1.9 -1.9M265.3 460.9l1.9 1.9M265.3 462.8l1.9 -1.9M266.4 446.8l1.9 1.9M266.4 448.7l1.9 -1.9M287.1 436.5l1.9 1.9M287.1 438.4l1.9 -1.9M241.5 490.3l1.9 1.9M241.5 492.2l1.9 -1.9M255.9 469.0l1.9 1.9M255.9 470.9l1.9 -1.9M253.3 479.0l1.9 1.9M253.3 480.9l1.9 -1.9M283.6 455.6l1.9 1.9M283.6 457.5l1.9 -1.9M301.0 435.4l1.9 1.9M301.0 437.3l1.9 -1.9M271.4 455.4l1.9 1.9M271.4 457.3l1.9 -1.9M278.2 457.9l1.9 1.9M278.2 459.8l1.9 -1.9M273.3 450.4l1.9 1.9M273.3 452.3l1.9 -1.9M262.6 469.5l1.9 1.9M262.6 471.4l1.9 -1.9M258.2 471.3l1.9 1.9M258.2 473.2l1.9 -1.9M245.0 489.0l1.9 1.9M245.0 490.9l1.9 -1.9M309.2 421.2l1.9 1.9M309.2 423.1l1.9 -1.9M264.4 465.6l1.9 1.9M264.4 467.5l1.9 -1.9M264.8 469.9l1.9 1.9M264.8 471.8l1.9 -1.9M271.0 452.7l1.9 1.9M271.0 454.6l1.9 -1.9M259.2 464.7l1.9 1.9M259.2 466.6l1.9 -1.9M256.1 468.1l1.9 1.9M256.1 470.0l1.9 -1.9M266.8 462.0l1.9 1.9M266.8 463.9l1.9 -1.9M275.6 458.1l1.9 1.9M275.6 460.0l1.9 -1.9M260.0 473.0l1.9 1.9M260.0 474.9l1.9 -1.9M290.3 445.1l1.9 1.9M290.3 447.0l1.9 -1.9M234.3 492.3l1.9 1.9M234.3 494.2l1.9 -1.9M272.9 467.1l1.9 1.9M272.9 469.0l1.9 -1.9M288.9 439.5l1.9 1.9M288.9 441.4l1.9 -1.9M270.3 453.1l1.9 1.9M270.3 455.0l1.9 -1.9M243.4 489.7l1.9 1.9M243.4 491.6l1.9 -1.9M272.1 449.9l1.9 1.9M272.1 451.8l1.9 -1.9M250.5 476.9l1.9 1.9M250.5 478.8l1.9 -1.9M276.1 458.0l1.9 1.9M276.1 459.9l1.9 -1.9M292.1 432.8l1.9 1.9M292.1 434.7l1.9 -1.9M300.5 448.0l1.9 1.9M300.5 449.9l1.9 -1.9M252.3 474.6l1.9 1.9M252.3 476.5l1.9 -1.9M259.0 473.1l1.9 1.9M259.0 475.0l1.9 -1.9M256.5 470.5l1.9 1.9M256.5 472.4l1.9 -1.9M276.0 454.4l1.9 1.9M276.0 456.3l1.9 -1.9M286.1 426.7l1.9 1.9M286.1 428.6l1.9 -1.9M234.6 492.7l1.9 1.9M234.6 494.6l1.9 -1.9M288.5 436.4l1.9 1.9M288.5 438.3l1.9 -1.9M302.9 423.4l1.9 1.9M302.9 425.3l1.9 -1.9M226.4 498.5l1.9 1.9M226.4 500.4l1.9 -1.9M274.1 457.8l1.9 1.9M274.1 459.7l1.9 -1.9M253.9 480.3l1.9 1.9M253.9 482.2l1.9 -1.9M261.4 470.3l1.9 1.9M261.4 472.2l1.9 -1.9M252.6 481.3l1.9 1.9M252.6 483.2l1.9 -1.9M284.3 426.9l1.9 1.9M284.3 428.8l1.9 -1.9M279.2 448.7l1.9 1.9M279.2 450.6l1.9 -1.9M267.7 461.7l1.9 1.9M267.7 463.6l1.9 -1.9M273.9 451.9l1.9 1.9M273.9 453.8l1.9 -1.9M306.9 407.9l1.9 1.9M306.9 409.8l1.9 -1.9M249.6 482.0l1.9 1.9M249.6 483.9l1.9 -1.9M255.6 464.0l1.9 1.9M255.6 465.9l1.9 -1.9M223.0 503.3l1.9 1.9M223.0 505.2l1.9 -1.9M251.9 484.0l1.9 1.9M251.9 485.9l1.9 -1.9M263.2 472.6l1.9 1.9M263.2 474.5l1.9 -1.9M232.6 495.8l1.9 1.9M232.6 497.7l1.9 -1.9M283.9 448.9l1.9 1.9M283.9 450.8l1.9 -1.9M255.2 425.5l1.9 1.9M255.2 427.4l1.9 -1.9M272.9 432.1l1.9 1.9M272.9 434.0l1.9 -1.9M307.8 421.1l1.9 1.9M307.8 423.0l1.9 -1.9" stroke="#0000ff" stroke-width="1.00" stroke-opacity="0.55" fill="none" clip-path="url(#c7)"/>
<path d="M207.40 525.80L348.20 388.60" stroke="#ff4455" stroke-width="0.95" stroke-opacity="1" stroke-dasharray="2.965 2.965" stroke-dashoffset="1.48" fill="none" clip-path="url(#c7)"/>
<path d="M207.40 523.00L348.20 385.80" stroke="#222" stroke-width="0.85" fill="none" clip-path="url(#c7)"/>
<path d="M235.56 525.80v-1.5M235.56 388.60v1.5M207.40 498.36h1.5M348.20 498.36h-1.5M263.72 525.80v-1.5M263.72 388.60v1.5M207.40 470.92h1.5M348.20 470.92h-1.5M291.88 525.80v-1.5M291.88 388.60v1.5M207.40 443.48h1.5M348.20 443.48h-1.5M320.04 525.80v-1.5M320.04 388.60v1.5M207.40 416.04h1.5M348.20 416.04h-1.5" stroke="#333" stroke-width="0.6" fill="none"/>
<rect x="207.40" y="388.60" width="140.80" height="137.20" fill="none" stroke="#555" stroke-width="1"/>
<rect x="210.70" y="392.00" width="111.36" height="14.50" rx="1" fill="#fff" stroke="#707070" stroke-width="0.9"/>
<path d="M215.10 399.50H225.80" stroke="#333" stroke-width="0.75"/>
<clipPath id="c8"><rect x="385.30" y="388.60" width="140.80" height="137.20"/></clipPath>
<path d="M413.46 388.60V525.80M441.62 388.60V525.80M469.78 388.60V525.80M497.94 388.60V525.80" stroke="#d8d8d8" stroke-width="0.90" stroke-dasharray="1 1" stroke-dashoffset="1.60" fill="none"/>
<path d="M385.30 498.36H526.10M385.30 470.92H526.10M385.30 443.48H526.10M385.30 416.04H526.10" stroke="#d8d8d8" stroke-width="0.90" stroke-dasharray="1 1" stroke-dashoffset="1.30" fill="none"/>
<path d="M403.8 504.6l1.9 1.9M403.8 506.5l1.9 -1.9M447.9 465.5l1.9 1.9M447.9 467.4l1.9 -1.9M431.1 487.5l1.9 1.9M431.1 489.4l1.9 -1.9M421.8 492.6l1.9 1.9M421.8 494.5l1.9 -1.9M414.2 495.7l1.9 1.9M414.2 497.6l1.9 -1.9M423.7 487.7l1.9 1.9M423.7 489.6l1.9 -1.9M427.1 478.9l1.9 1.9M427.1 480.8l1.9 -1.9M434.1 474.4l1.9 1.9M434.1 476.3l1.9 -1.9M411.4 501.6l1.9 1.9M411.4 503.5l1.9 -1.9M425.0 474.4l1.9 1.9M425.0 476.3l1.9 -1.9M413.0 498.3l1.9 1.9M413.0 500.2l1.9 -1.9M475.3 447.4l1.9 1.9M475.3 449.3l1.9 -1.9M469.6 449.6l1.9 1.9M469.6 451.5l1.9 -1.9M417.0 490.7l1.9 1.9M417.0 492.6l1.9 -1.9M454.4 439.3l1.9 1.9M454.4 441.2l1.9 -1.9M430.9 471.9l1.9 1.9M430.9 473.8l1.9 -1.9M463.9 442.9l1.9 1.9M463.9 444.8l1.9 -1.9M442.5 463.5l1.9 1.9M442.5 465.4l1.9 -1.9M442.3 464.6l1.9 1.9M442.3 466.5l1.9 -1.9M444.5 469.6l1.9 1.9M444.5 471.5l1.9 -1.9M429.0 478.5l1.9 1.9M429.0 480.4l1.9 -1.9M456.5 443.2l1.9 1.9M456.5 445.1l1.9 -1.9M469.1 445.0l1.9 1.9M469.1 446.9l1.9 -1.9M442.3 466.8l1.9 1.9M442.3 468.7l1.9 -1.9M461.6 449.1l1.9 1.9M461.6 451.0l1.9 -1.9M454.7 451.3l1.9 1.9M454.7 453.2l1.9 -1.9M468.4 436.0l1.9 1.9M468.4 437.9l1.9 -1.9M424.9 488.0l1.9 1.9M424.9 489.9l1.9 -1.9M446.4 471.7l1.9 1.9M446.4 473.6l1.9 -1.9M461.1 436.7l1.9 1.9M461.1 438.6l1.9 -1.9M454.4 447.5l1.9 1.9M454.4 449.4l1.9 -1.9M461.7 444.5l1.9 1.9M461.7 446.4l1.9 -1.9M462.8 449.8l1.9 1.9M462.8 451.7l1.9 -1.9M425.7 483.5l1.9 1.9M425.7 485.4l1.9 -1.9M414.5 502.7l1.9 1.9M414.5 504.6l1.9 -1.9M457.8 452.6l1.9 1.9M457.8 454.5l1.9 -1.9M461.4 439.6l1.9 1.9M461.4 441.5l1.9 -1.9M461.3 467.9l1.9 1.9M461.3 469.8l1.9 -1.9M421.6 489.6l1.9 1.9M421.6 491.5l1.9 -1.9M427.5 475.8l1.9 1.9M427.5 477.7l1.9 -1.9M454.1 446.2l1.9 1.9M454.1 448.1l1.9 -1.9M436.8 463.2l1.9 1.9M436.8 465.1l1.9 -1.9M436.2 484.7l1.9 1.9M436.2 486.6l1.9 -1.9M432.1 482.1l1.9 1.9M432.1 484.0l1.9 -1.9M458.5 455.6l1.9 1.9M458.5 457.5l1.9 -1.9M420.5 485.3l1.9 1.9M420.5 487.2l1.9 -1.9M445.4 463.8l1.9 1.9M445.4 465.7l1.9 -1.9M457.4 450.8l1.9 1.9M457.4 452.7l1.9 -1.9M465.8 444.1l1.9 1.9M465.8 446.0l1.9 -1.9M403.1 510.0l1.9 1.9M403.1 511.9l1.9 -1.9M450.2 461.1l1.9 1.9M450.2 463.0l1.9 -1.9M444.5 463.4l1.9 1.9M444.5 465.3l1.9 -1.9M434.2 478.3l1.9 1.9M434.2 480.2l1.9 -1.9M407.6 509.7l1.9 1.9M407.6 511.6l1.9 -1.9M408.5 499.5l1.9 1.9M408.5 501.4l1.9 -1.9M420.0 497.2l1.9 1.9M420.0 499.1l1.9 -1.9M444.5 465.1l1.9 1.9M444.5 467.0l1.9 -1.9M423.8 480.7l1.9 1.9M423.8 482.6l1.9 -1.9M414.8 493.6l1.9 1.9M414.8 495.5l1.9 -1.9M430.0 478.2l1.9 1.9M430.0 480.1l1.9 -1.9M430.5 477.7l1.9 1.9M430.5 479.6l1.9 -1.9M456.0 457.1l1.9 1.9M456.0 459.0l1.9 -1.9M454.8 456.9l1.9 1.9M454.8 458.8l1.9 -1.9M424.0 491.3l1.9 1.9M424.0 493.2l1.9 -1.9M466.2 434.5l1.9 1.9M466.2 436.4l1.9 -1.9M407.6 510.7l1.9 1.9M407.6 512.6l1.9 -1.9M428.1 478.6l1.9 1.9M428.1 480.5l1.9 -1.9M413.7 496.5l1.9 1.9M413.7 498.4l1.9 -1.9M429.8 479.3l1.9 1.9M429.8 481.2l1.9 -1.9M436.1 470.6l1.9 1.9M436.1 472.5l1.9 -1.9M439.8 471.2l1.9 1.9M439.8 473.1l1.9 -1.9M434.1 480.0l1.9 1.9M434.1 481.9l1.9 -1.9M411.7 495.2l1.9 1.9M411.7 497.1l1.9 -1.9M415.3 493.4l1.9 1.9M415.3 495.3l1.9 -1.9M410.8 502.0l1.9 1.9M410.8 503.9l1.9 -1.9M453.3 457.3l1.9 1.9M453.3 459.2l1.9 -1.9M427.0 485.4l1.9 1.9M427.0 487.3l1.9 -1.9M440.7 471.3l1.9 1.9M440.7 473.2l1.9 -1.9M441.8 466.6l1.9 1.9M441.8 468.5l1.9 -1.9M439.8 474.7l1.9 1.9M439.8 476.6l1.9 -1.9M452.0 453.6l1.9 1.9M452.0 455.5l1.9 -1.9M447.7 462.0l1.9 1.9M447.7 463.9l1.9 -1.9M430.1 478.6l1.9 1.9M430.1 480.5l1.9 -1.9M462.6 444.9l1.9 1.9M462.6 446.8l1.9 -1.9M418.2 493.1l1.9 1.9M418.2 495.0l1.9 -1.9M408.7 505.5l1.9 1.9M408.7 507.4l1.9 -1.9M453.3 462.5l1.9 1.9M453.3 464.4l1.9 -1.9M445.0 463.1l1.9 1.9M445.0 465.0l1.9 -1.9M430.9 472.4l1.9 1.9M430.9 474.3l1.9 -1.9M412.0 499.2l1.9 1.9M412.0 501.1l1.9 -1.9M439.8 474.2l1.9 1.9M439.8 476.1l1.9 -1.9M416.5 492.0l1.9 1.9M416.5 493.9l1.9 -1.9M408.1 496.6l1.9 1.9M408.1 498.5l1.9 -1.9M434.4 477.3l1.9 1.9M434.4 479.2l1.9 -1.9M455.7 451.3l1.9 1.9M455.7 453.2l1.9 -1.9M403.8 504.9l1.9 1.9M403.8 506.8l1.9 -1.9M441.1 462.7l1.9 1.9M441.1 464.6l1.9 -1.9M410.1 499.2l1.9 1.9M410.1 501.1l1.9 -1.9M444.8 464.0l1.9 1.9M444.8 465.9l1.9 -1.9M451.9 461.3l1.9 1.9M451.9 463.2l1.9 -1.9M424.7 489.4l1.9 1.9M424.7 491.3l1.9 -1.9M407.2 499.6l1.9 1.9M407.2 501.5l1.9 -1.9M473.8 432.0l1.9 1.9M473.8 433.9l1.9 -1.9M442.7 462.3l1.9 1.9M442.7 464.2l1.9 -1.9M414.4 502.5l1.9 1.9M414.4 504.4l1.9 -1.9M420.4 487.0l1.9 1.9M420.4 488.9l1.9 -1.9M459.7 455.8l1.9 1.9M459.7 457.7l1.9 -1.9M435.0 470.3l1.9 1.9M435.0 472.2l1.9 -1.9M422.0 499.8l1.9 1.9M422.0 501.7l1.9 -1.9M442.8 469.2l1.9 1.9M442.8 471.1l1.9 -1.9M428.8 484.3l1.9 1.9M428.8 486.2l1.9 -1.9M452.3 451.9l1.9 1.9M452.3 453.8l1.9 -1.9M443.9 460.7l1.9 1.9M443.9 462.6l1.9 -1.9M464.0 424.4l1.9 1.9M464.0 426.3l1.9 -1.9M445.6 462.1l1.9 1.9M445.6 464.0l1.9 -1.9M466.8 451.3l1.9 1.9M466.8 453.2l1.9 -1.9M416.2 493.4l1.9 1.9M416.2 495.3l1.9 -1.9M439.8 473.7l1.9 1.9M439.8 475.6l1.9 -1.9M437.7 467.0l1.9 1.9M437.7 468.9l1.9 -1.9M458.4 444.6l1.9 1.9M458.4 446.5l1.9 -1.9M406.4 500.1l1.9 1.9M406.4 502.0l1.9 -1.9M457.3 460.3l1.9 1.9M457.3 462.2l1.9 -1.9M452.2 457.3l1.9 1.9M452.2 459.2l1.9 -1.9M425.6 488.6l1.9 1.9M425.6 490.5l1.9 -1.9M405.4 505.2l1.9 1.9M405.4 507.1l1.9 -1.9M464.4 465.4l1.9 1.9M464.4 467.3l1.9 -1.9M457.4 458.9l1.9 1.9M457.4 460.8l1.9 -1.9M470.7 446.7l1.9 1.9M470.7 448.6l1.9 -1.9M455.1 458.1l1.9 1.9M455.1 460.0l1.9 -1.9M477.3 432.5l1.9 1.9M477.3 434.4l1.9 -1.9M437.0 473.8l1.9 1.9M437.0 475.7l1.9 -1.9M425.7 494.1l1.9 1.9M425.7 496.0l1.9 -1.9M444.4 470.2l1.9 1.9M444.4 472.1l1.9 -1.9M448.2 456.2l1.9 1.9M448.2 458.1l1.9 -1.9M449.4 466.9l1.9 1.9M449.4 468.8l1.9 -1.9M454.3 457.6l1.9 1.9M454.3 459.5l1.9 -1.9M453.2 465.1l1.9 1.9M453.2 467.0l1.9 -1.9M450.5 467.5l1.9 1.9M450.5 469.4l1.9 -1.9M454.7 455.3l1.9 1.9M454.7 457.2l1.9 -1.9M437.9 473.6l1.9 1.9M437.9 475.5l1.9 -1.9M424.7 484.0l1.9 1.9M424.7 485.9l1.9 -1.9M462.2 451.5l1.9 1.9M462.2 453.4l1.9 -1.9M417.8 488.3l1.9 1.9M417.8 490.2l1.9 -1.9M425.1 488.8l1.9 1.9M425.1 490.7l1.9 -1.9M451.0 456.8l1.9 1.9M451.0 458.7l1.9 -1.9M472.0 416.5l1.9 1.9M472.0 418.4l1.9 -1.9M467.8 444.6l1.9 1.9M467.8 446.5l1.9 -1.9M444.4 456.1l1.9 1.9M444.4 458.0l1.9 -1.9M413.6 498.4l1.9 1.9M413.6 500.3l1.9 -1.9M451.4 467.8l1.9 1.9M451.4 469.7l1.9 -1.9M404.6 505.7l1.9 1.9M404.6 507.6l1.9 -1.9M432.0 480.9l1.9 1.9M432.0 482.8l1.9 -1.9M471.5 437.7l1.9 1.9M471.5 439.6l1.9 -1.9M438.2 468.2l1.9 1.9M438.2 470.1l1.9 -1.9M401.1 510.9l1.9 1.9M401.1 512.8l1.9 -1.9M462.4 445.9l1.9 1.9M462.4 447.8l1.9 -1.9M455.5 445.8l1.9 1.9M455.5 447.7l1.9 -1.9M472.6 430.0l1.9 1.9M472.6 431.9l1.9 -1.9M438.1 473.3l1.9 1.9M438.1 475.2l1.9 -1.9M443.6 460.5l1.9 1.9M443.6 462.4l1.9 -1.9M483.2 423.9l1.9 1.9M483.2 425.8l1.9 -1.9M423.7 489.3l1.9 1.9M423.7 491.2l1.9 -1.9M458.8 444.5l1.9 1.9M458.8 446.4l1.9 -1.9M405.4 504.8l1.9 1.9M405.4 506.7l1.9 -1.9M409.3 498.8l1.9 1.9M409.3 500.7l1.9 -1.9M459.6 450.4l1.9 1.9M459.6 452.3l1.9 -1.9M470.8 444.7l1.9 1.9M470.8 446.6l1.9 -1.9M468.6 441.3l1.9 1.9M468.6 443.2l1.9 -1.9M448.2 449.8l1.9 1.9M448.2 451.7l1.9 -1.9M406.0 506.5l1.9 1.9M406.0 508.4l1.9 -1.9M468.6 439.4l1.9 1.9M468.6 441.3l1.9 -1.9M452.2 467.5l1.9 1.9M452.2 469.4l1.9 -1.9M413.2 494.4l1.9 1.9M413.2 496.3l1.9 -1.9M445.9 452.1l1.9 1.9M445.9 454.0l1.9 -1.9M433.0 480.3l1.9 1.9M433.0 482.2l1.9 -1.9M460.1 454.5l1.9 1.9M460.1 456.4l1.9 -1.9M432.3 472.2l1.9 1.9M432.3 474.1l1.9 -1.9M423.5 477.2l1.9 1.9M423.5 479.1l1.9 -1.9M453.1 450.1l1.9 1.9M453.1 452.0l1.9 -1.9M438.6 470.1l1.9 1.9M438.6 472.0l1.9 -1.9M435.1 474.2l1.9 1.9M435.1 476.1l1.9 -1.9M452.1 456.8l1.9 1.9M452.1 458.7l1.9 -1.9M465.3 451.7l1.9 1.9M465.3 453.6l1.9 -1.9M409.7 505.5l1.9 1.9M409.7 507.4l1.9 -1.9M434.7 478.6l1.9 1.9M434.7 480.5l1.9 -1.9M441.4 477.2l1.9 1.9M441.4 479.1l1.9 -1.9M436.7 473.0l1.9 1.9M436.7 474.9l1.9 -1.9M458.8 452.1l1.9 1.9M458.8 454.0l1.9 -1.9M429.9 480.5l1.9 1.9M429.9 482.4l1.9 -1.9M432.7 476.1l1.9 1.9M432.7 478.0l1.9 -1.9M417.2 493.0l1.9 1.9M417.2 494.9l1.9 -1.9M449.1 456.5l1.9 1.9M449.1 458.4l1.9 -1.9M438.8 473.3l1.9 1.9M438.8 475.2l1.9 -1.9M436.1 479.5l1.9 1.9M436.1 481.4l1.9 -1.9M468.0 425.9l1.9 1.9M468.0 427.8l1.9 -1.9M423.8 485.6l1.9 1.9M423.8 487.5l1.9 -1.9M422.5 492.2l1.9 1.9M422.5 494.1l1.9 -1.9M446.7 474.4l1.9 1.9M446.7 476.3l1.9 -1.9M455.7 446.8l1.9 1.9M455.7 448.7l1.9 -1.9M451.2 444.0l1.9 1.9M451.2 445.9l1.9 -1.9M421.3 491.4l1.9 1.9M421.3 493.3l1.9 -1.9M453.0 462.3l1.9 1.9M453.0 464.2l1.9 -1.9M427.0 475.7l1.9 1.9M427.0 477.6l1.9 -1.9M435.1 470.2l1.9 1.9M435.1 472.1l1.9 -1.9M478.5 439.9l1.9 1.9M478.5 441.8l1.9 -1.9M431.9 482.2l1.9 1.9M431.9 484.1l1.9 -1.9M471.5 443.7l1.9 1.9M471.5 445.6l1.9 -1.9M413.1 498.0l1.9 1.9M413.1 499.9l1.9 -1.9M450.3 459.9l1.9 1.9M450.3 461.8l1.9 -1.9M435.9 475.7l1.9 1.9M435.9 477.6l1.9 -1.9M437.1 465.7l1.9 1.9M437.1 467.6l1.9 -1.9M456.3 444.6l1.9 1.9M456.3 446.5l1.9 -1.9M437.7 476.6l1.9 1.9M437.7 478.5l1.9 -1.9M420.6 491.5l1.9 1.9M420.6 493.4l1.9 -1.9M447.5 453.7l1.9 1.9M447.5 455.6l1.9 -1.9M409.5 502.9l1.9 1.9M409.5 504.8l1.9 -1.9M417.7 495.0l1.9 1.9M417.7 496.9l1.9 -1.9M444.7 463.0l1.9 1.9M444.7 464.9l1.9 -1.9M482.2 430.2l1.9 1.9M482.2 432.1l1.9 -1.9M463.9 450.7l1.9 1.9M463.9 452.6l1.9 -1.9M437.1 467.6l1.9 1.9M437.1 469.5l1.9 -1.9M441.5 457.2l1.9 1.9M441.5 459.1l1.9 -1.9M451.1 449.7l1.9 1.9M451.1 451.6l1.9 -1.9M482.0 425.5l1.9 1.9M482.0 427.4l1.9 -1.9M460.5 446.8l1.9 1.9M460.5 448.7l1.9 -1.9M441.8 466.4l1.9 1.9M441.8 468.3l1.9 -1.9M444.0 468.3l1.9 1.9M444.0 470.2l1.9 -1.9M448.6 458.5l1.9 1.9M448.6 460.4l1.9 -1.9M449.0 460.1l1.9 1.9M449.0 462.0l1.9 -1.9M426.5 487.7l1.9 1.9M426.5 489.6l1.9 -1.9M428.9 477.3l1.9 1.9M428.9 479.2l1.9 -1.9M433.7 474.6l1.9 1.9M433.7 476.5l1.9 -1.9M403.3 507.6l1.9 1.9M403.3 509.5l1.9 -1.9M434.2 473.2l1.9 1.9M434.2 475.1l1.9 -1.9M433.6 473.4l1.9 1.9M433.6 475.3l1.9 -1.9M456.9 449.0l1.9 1.9M456.9 450.9l1.9 -1.9M435.0 473.1l1.9 1.9M435.0 475.0l1.9 -1.9M446.2 458.7l1.9 1.9M446.2 460.6l1.9 -1.9M427.9 484.8l1.9 1.9M427.9 486.7l1.9 -1.9M464.5 440.2l1.9 1.9M464.5 442.1l1.9 -1.9M452.1 453.0l1.9 1.9M452.1 454.9l1.9 -1.9M449.4 461.5l1.9 1.9M449.4 463.4l1.9 -1.9M468.1 435.5l1.9 1.9M468.1 437.4l1.9 -1.9M455.6 460.3l1.9 1.9M455.6 462.2l1.9 -1.9M438.3 465.0l1.9 1.9M438.3 466.9l1.9 -1.9M446.6 455.3l1.9 1.9M446.6 457.2l1.9 -1.9M429.7 471.2l1.9 1.9M429.7 473.1l1.9 -1.9M455.3 459.0l1.9 1.9M455.3 460.9l1.9 -1.9M449.0 462.9l1.9 1.9M449.0 464.8l1.9 -1.9M447.7 459.0l1.9 1.9M447.7 460.9l1.9 -1.9M451.7 454.0l1.9 1.9M451.7 455.9l1.9 -1.9M440.9 472.0l1.9 1.9M440.9 473.9l1.9 -1.9M419.1 485.8l1.9 1.9M419.1 487.7l1.9 -1.9M414.7 499.3l1.9 1.9M414.7 501.2l1.9 -1.9M435.5 478.4l1.9 1.9M435.5 480.3l1.9 -1.9M474.3 438.9l1.9 1.9M474.3 440.8l1.9 -1.9M443.2 469.4l1.9 1.9M443.2 471.3l1.9 -1.9M456.2 453.6l1.9 1.9M456.2 455.5l1.9 -1.9M439.5 470.0l1.9 1.9M439.5 471.9l1.9 -1.9M445.6 476.9l1.9 1.9M445.6 478.8l1.9 -1.9M462.6 415.9l1.9 1.9M462.6 417.8l1.9 -1.9M483.5 421.1l1.9 1.9M483.5 423.0l1.9 -1.9" stroke="#0000ff" stroke-width="1.00" stroke-opacity="0.55" fill="none" clip-path="url(#c8)"/>
<path d="M385.30 525.80L526.10 388.60" stroke="#ff4455" stroke-width="0.95" stroke-opacity="1" stroke-dasharray="2.965 2.965" stroke-dashoffset="1.48" fill="none" clip-path="url(#c8)"/>
<path d="M385.30 527.53L526.10 383.47" stroke="#222" stroke-width="0.85" fill="none" clip-path="url(#c8)"/>
<path d="M413.46 525.80v-1.5M413.46 388.60v1.5M385.30 498.36h1.5M526.10 498.36h-1.5M441.62 525.80v-1.5M441.62 388.60v1.5M385.30 470.92h1.5M526.10 470.92h-1.5M469.78 525.80v-1.5M469.78 388.60v1.5M385.30 443.48h1.5M526.10 443.48h-1.5M497.94 525.80v-1.5M497.94 388.60v1.5M385.30 416.04h1.5M526.10 416.04h-1.5" stroke="#333" stroke-width="0.6" fill="none"/>
<rect x="385.30" y="388.60" width="140.80" height="137.20" fill="none" stroke="#555" stroke-width="1"/>
<rect x="388.60" y="392.00" width="107.96" height="14.50" rx="1" fill="#fff" stroke="#707070" stroke-width="0.9"/>
<path d="M393.00 399.50H403.70" stroke="#333" stroke-width="0.75"/>
</g>
<defs><filter id="tsoft" x="0" y="0" width="537" height="550" filterUnits="userSpaceOnUse" color-interpolation-filters="sRGB"><feConvolveMatrix order="3" kernelMatrix="0.005 0.04 0.005 0.04 0.82 0.04 0.005 0.04 0.005" divisor="1" edgeMode="none" preserveAlpha="false"/></filter></defs>
<g filter="url(#tsoft)">
<text x="55.90" y="29.80" font-size="6.60" textLength="58.22" lengthAdjust="spacingAndGlyphs" style="stroke-width:0.16">y=0.93x-0.26, R</text>
<text x="114.21" y="26.80" font-size="4.6" style="stroke-width:0.12">2</text>
<text x="117.37" y="29.80" font-size="6.60" textLength="21.44" lengthAdjust="spacingAndGlyphs" style="stroke-width:0.16">=0.80</text>
<text x="73.79" y="13.80" font-size="8.50" textLength="51.36" lengthAdjust="spacingAndGlyphs">CDN0 single</text>
<text x="29.50" y="160.90" font-size="6.60" text-anchor="middle">0</text>
<text x="27.40" y="156.10" font-size="6.60" text-anchor="end">0</text>
<text x="57.66" y="160.90" font-size="6.60" text-anchor="middle">10</text>
<text x="27.40" y="128.66" font-size="6.60" text-anchor="end">10</text>
<text x="85.82" y="160.90" font-size="6.60" text-anchor="middle">20</text>
<text x="27.40" y="101.22" font-size="6.60" text-anchor="end">20</text>
<text x="113.98" y="160.90" font-size="6.60" text-anchor="middle">30</text>
<text x="27.40" y="73.78" font-size="6.60" text-anchor="end">30</text>
<text x="142.14" y="160.90" font-size="6.60" text-anchor="middle">40</text>
<text x="27.40" y="46.34" font-size="6.60" text-anchor="end">40</text>
<text x="170.30" y="160.90" font-size="6.60" text-anchor="middle">50</text>
<text x="27.40" y="18.90" font-size="6.60" text-anchor="end">50</text>
<text x="70.25" y="170.80" font-size="8.40" textLength="58.25" lengthAdjust="spacingAndGlyphs">GPS IWV [mm]</text>
<g transform="translate(15.60 86.00) rotate(-90)"><text x="-30.37" y="0.00" font-size="8.50" textLength="60.91" lengthAdjust="spacingAndGlyphs">OLCI IWV [mm]</text></g>
<text x="233.80" y="29.80" font-size="6.60" textLength="61.58" lengthAdjust="spacingAndGlyphs" style="stroke-width:0.16">y=1.01x+1.08, R</text>
<text x="295.51" y="26.80" font-size="4.6" style="stroke-width:0.12">2</text>
<text x="298.67" y="29.80" font-size="6.60" textLength="21.53" lengthAdjust="spacingAndGlyphs" style="stroke-width:0.16">=0.86</text>
<text x="252.50" y="13.80" font-size="8.50" textLength="49.79" lengthAdjust="spacingAndGlyphs">CRS1 single</text>
<text x="207.40" y="160.90" font-size="6.60" text-anchor="middle">0</text>
<text x="205.30" y="156.10" font-size="6.60" text-anchor="end">0</text>
<text x="235.56" y="160.90" font-size="6.60" text-anchor="middle">10</text>
<text x="205.30" y="128.66" font-size="6.60" text-anchor="end">10</text>
<text x="263.72" y="160.90" font-size="6.60" text-anchor="middle">20</text>
<text x="205.30" y="101.22" font-size="6.60" text-anchor="end">20</text>
<text x="291.88" y="160.90" font-size="6.60" text-anchor="middle">30</text>
<text x="205.30" y="73.78" font-size="6.60" text-anchor="end">30</text>
<text x="320.04" y="160.90" font-size="6.60" text-anchor="middle">40</text>
<text x="205.30" y="46.34" font-size="6.60" text-anchor="end">40</text>
<text x="348.20" y="160.90" font-size="6.60" text-anchor="middle">50</text>
<text x="205.30" y="18.90" font-size="6.60" text-anchor="end">50</text>
<text x="248.15" y="170.80" font-size="8.40" textLength="58.25" lengthAdjust="spacingAndGlyphs">GPS IWV [mm]</text>
<g transform="translate(193.50 86.00) rotate(-90)"><text x="-30.37" y="0.00" font-size="8.50" textLength="60.91" lengthAdjust="spacingAndGlyphs">OLCI IWV [mm]</text></g>
<text x="411.70" y="29.80" font-size="6.60" textLength="61.63" lengthAdjust="spacingAndGlyphs" style="stroke-width:0.16">y=1.09x+0.11, R</text>
<text x="473.41" y="26.80" font-size="4.6" style="stroke-width:0.12">2</text>
<text x="476.58" y="29.80" font-size="6.60" textLength="21.43" lengthAdjust="spacingAndGlyphs" style="stroke-width:0.16">=0.94</text>
<text x="430.04" y="13.80" font-size="8.50" textLength="50.19" lengthAdjust="spacingAndGlyphs">HERA single</text>
<text x="385.30" y="160.90" font-size="6.60" text-anchor="middle">0</text>
<text x="383.20" y="156.10" font-size="6.60" text-anchor="end">0</text>
<text x="413.46" y="160.90" font-size="6.60" text-anchor="middle">10</text>
<text x="383.20" y="128.66" font-size="6.60" text-anchor="end">10</text>
<text x="441.62" y="160.90" font-size="6.60" text-anchor="middle">20</text>
<text x="383.20" y="101.22" font-size="6.60" text-anchor="end">20</text>
<text x="469.78" y="160.90" font-size="6.60" text-anchor="middle">30</text>
<text x="383.20" y="73.78" font-size="6.60" text-anchor="end">30</text>
<text x="497.94" y="160.90" font-size="6.60" text-anchor="middle">40</text>
<text x="383.20" y="46.34" font-size="6.60" text-anchor="end">40</text>
<text x="526.10" y="160.90" font-size="6.60" text-anchor="middle">50</text>
<text x="383.20" y="18.90" font-size="6.60" text-anchor="end">50</text>
<text x="426.05" y="170.80" font-size="8.40" textLength="58.25" lengthAdjust="spacingAndGlyphs">GPS IWV [mm]</text>
<g transform="translate(371.40 86.00) rotate(-90)"><text x="-30.37" y="0.00" font-size="8.50" textLength="60.91" lengthAdjust="spacingAndGlyphs">OLCI IWV [mm]</text></g>
<text x="55.90" y="215.85" font-size="6.60" textLength="61.58" lengthAdjust="spacingAndGlyphs" style="stroke-width:0.16">y=1.05x+0.24, R</text>
<text x="117.61" y="212.85" font-size="4.6" style="stroke-width:0.12">2</text>
<text x="120.78" y="215.85" font-size="6.60" textLength="21.44" lengthAdjust="spacingAndGlyphs" style="stroke-width:0.16">=0.90</text>
<text x="76.08" y="199.85" font-size="8.50" textLength="46.48" lengthAdjust="spacingAndGlyphs">IERA single</text>
<text x="29.50" y="346.95" font-size="6.60" text-anchor="middle">0</text>
<text x="27.40" y="342.15" font-size="6.60" text-anchor="end">0</text>
<text x="57.66" y="346.95" font-size="6.60" text-anchor="middle">10</text>
<text x="27.40" y="314.71" font-size="6.60" text-anchor="end">10</text>
<text x="85.82" y="346.95" font-size="6.60" text-anchor="middle">20</text>
<text x="27.40" y="287.27" font-size="6.60" text-anchor="end">20</text>
<text x="113.98" y="346.95" font-size="6.60" text-anchor="middle">30</text>
<text x="27.40" y="259.83" font-size="6.60" text-anchor="end">30</text>
<text x="142.14" y="346.95" font-size="6.60" text-anchor="middle">40</text>
<text x="27.40" y="232.39" font-size="6.60" text-anchor="end">40</text>
<text x="170.30" y="346.95" font-size="6.60" text-anchor="middle">50</text>
<text x="27.40" y="204.95" font-size="6.60" text-anchor="end">50</text>
<text x="70.25" y="356.85" font-size="8.40" textLength="58.25" lengthAdjust="spacingAndGlyphs">GPS IWV [mm]</text>
<g transform="translate(15.60 272.05) rotate(-90)"><text x="-30.37" y="0.00" font-size="8.50" textLength="60.91" lengthAdjust="spacingAndGlyphs">OLCI IWV [mm]</text></g>
<text x="233.80" y="215.85" font-size="6.60" textLength="61.58" lengthAdjust="spacingAndGlyphs" style="stroke-width:0.16">y=0.95x+0.47, R</text>
<text x="295.51" y="212.85" font-size="4.6" style="stroke-width:0.12">2</text>
<text x="298.68" y="215.85" font-size="6.60" textLength="21.45" lengthAdjust="spacingAndGlyphs" style="stroke-width:0.16">=0.93</text>
<text x="251.50" y="199.85" font-size="8.50" textLength="51.51" lengthAdjust="spacingAndGlyphs">MEN2 single</text>
<text x="207.40" y="346.95" font-size="6.60" text-anchor="middle">0</text>
<text x="205.30" y="342.15" font-size="6.60" text-anchor="end">0</text>
<text x="235.56" y="346.95" font-size="6.60" text-anchor="middle">10</text>
<text x="205.30" y="314.71" font-size="6.60" text-anchor="end">10</text>
<text x="263.72" y="346.95" font-size="6.60" text-anchor="middle">20</text>
<text x="205.30" y="287.27" font-size="6.60" text-anchor="end">20</text>
<text x="291.88" y="346.95" font-size="6.60" text-anchor="middle">30</text>
<text x="205.30" y="259.83" font-size="6.60" text-anchor="end">30</text>
<text x="320.04" y="346.95" font-size="6.60" text-anchor="middle">40</text>
<text x="205.30" y="232.39" font-size="6.60" text-anchor="end">40</text>
<text x="348.20" y="346.95" font-size="6.60" text-anchor="middle">50</text>
<text x="205.30" y="204.95" font-size="6.60" text-anchor="end">50</text>
<text x="248.15" y="356.85" font-size="8.40" textLength="58.25" lengthAdjust="spacingAndGlyphs">GPS IWV [mm]</text>
<g transform="translate(193.50 272.05) rotate(-90)"><text x="-30.37" y="0.00" font-size="8.50" textLength="60.91" lengthAdjust="spacingAndGlyphs">OLCI IWV [mm]</text></g>
<text x="411.70" y="215.85" font-size="6.60" textLength="58.22" lengthAdjust="spacingAndGlyphs" style="stroke-width:0.16">y=1.06x-0.23, R</text>
<text x="470.01" y="212.85" font-size="4.6" style="stroke-width:0.12">2</text>
<text x="473.17" y="215.85" font-size="6.60" textLength="21.45" lengthAdjust="spacingAndGlyphs" style="stroke-width:0.16">=0.93</text>
<text x="430.42" y="199.85" font-size="8.50" textLength="49.42" lengthAdjust="spacingAndGlyphs">MOIR single</text>
<text x="385.30" y="346.95" font-size="6.60" text-anchor="middle">0</text>
<text x="383.20" y="342.15" font-size="6.60" text-anchor="end">0</text>
<text x="413.46" y="346.95" font-size="6.60" text-anchor="middle">10</text>
<text x="383.20" y="314.71" font-size="6.60" text-anchor="end">10</text>
<text x="441.62" y="346.95" font-size="6.60" text-anchor="middle">20</text>
<text x="383.20" y="287.27" font-size="6.60" text-anchor="end">20</text>
<text x="469.78" y="346.95" font-size="6.60" text-anchor="middle">30</text>
<text x="383.20" y="259.83" font-size="6.60" text-anchor="end">30</text>
<text x="497.94" y="346.95" font-size="6.60" text-anchor="middle">40</text>
<text x="383.20" y="232.39" font-size="6.60" text-anchor="end">40</text>
<text x="526.10" y="346.95" font-size="6.60" text-anchor="middle">50</text>
<text x="383.20" y="204.95" font-size="6.60" text-anchor="end">50</text>
<text x="426.05" y="356.85" font-size="8.40" textLength="58.25" lengthAdjust="spacingAndGlyphs">GPS IWV [mm]</text>
<g transform="translate(371.40 272.05) rotate(-90)"><text x="-30.37" y="0.00" font-size="8.50" textLength="60.91" lengthAdjust="spacingAndGlyphs">OLCI IWV [mm]</text></g>
<text x="55.90" y="401.90" font-size="6.60" textLength="61.58" lengthAdjust="spacingAndGlyphs" style="stroke-width:0.16">y=1.02x+0.73, R</text>
<text x="117.61" y="398.90" font-size="4.6" style="stroke-width:0.12">2</text>
<text x="120.77" y="401.90" font-size="6.60" textLength="21.53" lengthAdjust="spacingAndGlyphs" style="stroke-width:0.16">=0.89</text>
<text x="75.30" y="385.90" font-size="8.50" textLength="48.12" lengthAdjust="spacingAndGlyphs">PALC single</text>
<text x="29.50" y="533.00" font-size="6.60" text-anchor="middle">0</text>
<text x="27.40" y="528.20" font-size="6.60" text-anchor="end">0</text>
<text x="57.66" y="533.00" font-size="6.60" text-anchor="middle">10</text>
<text x="27.40" y="500.76" font-size="6.60" text-anchor="end">10</text>
<text x="85.82" y="533.00" font-size="6.60" text-anchor="middle">20</text>
<text x="27.40" y="473.32" font-size="6.60" text-anchor="end">20</text>
<text x="113.98" y="533.00" font-size="6.60" text-anchor="middle">30</text>
<text x="27.40" y="445.88" font-size="6.60" text-anchor="end">30</text>
<text x="142.14" y="533.00" font-size="6.60" text-anchor="middle">40</text>
<text x="27.40" y="418.44" font-size="6.60" text-anchor="end">40</text>
<text x="170.30" y="533.00" font-size="6.60" text-anchor="middle">50</text>
<text x="27.40" y="391.00" font-size="6.60" text-anchor="end">50</text>
<text x="70.25" y="542.90" font-size="8.40" textLength="58.25" lengthAdjust="spacingAndGlyphs">GPS IWV [mm]</text>
<g transform="translate(15.60 458.10) rotate(-90)"><text x="-30.37" y="0.00" font-size="8.50" textLength="60.91" lengthAdjust="spacingAndGlyphs">OLCI IWV [mm]</text></g>
<text x="233.80" y="401.90" font-size="6.60" textLength="61.58" lengthAdjust="spacingAndGlyphs" style="stroke-width:0.16">y=1.00x+1.02, R</text>
<text x="295.51" y="398.90" font-size="4.6" style="stroke-width:0.12">2</text>
<text x="298.68" y="401.90" font-size="6.60" textLength="21.31" lengthAdjust="spacingAndGlyphs" style="stroke-width:0.16">=0.91</text>
<text x="252.32" y="385.90" font-size="8.50" textLength="49.83" lengthAdjust="spacingAndGlyphs">RETH single</text>
<text x="207.40" y="533.00" font-size="6.60" text-anchor="middle">0</text>
<text x="205.30" y="528.20" font-size="6.60" text-anchor="end">0</text>
<text x="235.56" y="533.00" font-size="6.60" text-anchor="middle">10</text>
<text x="205.30" y="500.76" font-size="6.60" text-anchor="end">10</text>
<text x="263.72" y="533.00" font-size="6.60" text-anchor="middle">20</text>
<text x="205.30" y="473.32" font-size="6.60" text-anchor="end">20</text>
<text x="291.88" y="533.00" font-size="6.60" text-anchor="middle">30</text>
<text x="205.30" y="445.88" font-size="6.60" text-anchor="end">30</text>
<text x="320.04" y="533.00" font-size="6.60" text-anchor="middle">40</text>
<text x="205.30" y="418.44" font-size="6.60" text-anchor="end">40</text>
<text x="348.20" y="533.00" font-size="6.60" text-anchor="middle">50</text>
<text x="205.30" y="391.00" font-size="6.60" text-anchor="end">50</text>
<text x="248.15" y="542.90" font-size="8.40" textLength="58.25" lengthAdjust="spacingAndGlyphs">GPS IWV [mm]</text>
<g transform="translate(193.50 458.10) rotate(-90)"><text x="-30.37" y="0.00" font-size="8.50" textLength="60.91" lengthAdjust="spacingAndGlyphs">OLCI IWV [mm]</text></g>
<text x="411.70" y="401.90" font-size="6.60" textLength="58.22" lengthAdjust="spacingAndGlyphs" style="stroke-width:0.16">y=1.05x-0.63, R</text>
<text x="470.01" y="398.90" font-size="4.6" style="stroke-width:0.12">2</text>
<text x="473.18" y="401.90" font-size="6.60" textLength="21.31" lengthAdjust="spacingAndGlyphs" style="stroke-width:0.16">=0.92</text>
<text x="430.37" y="385.90" font-size="8.50" textLength="50.06" lengthAdjust="spacingAndGlyphs">TUC2 single</text>
<text x="385.30" y="533.00" font-size="6.60" text-anchor="middle">0</text>
<text x="383.20" y="528.20" font-size="6.60" text-anchor="end">0</text>
<text x="413.46" y="533.00" font-size="6.60" text-anchor="middle">10</text>
<text x="383.20" y="500.76" font-size="6.60" text-anchor="end">10</text>
<text x="441.62" y="533.00" font-size="6.60" text-anchor="middle">20</text>
<text x="383.20" y="473.32" font-size="6.60" text-anchor="end">20</text>
<text x="469.78" y="533.00" font-size="6.60" text-anchor="middle">30</text>
<text x="383.20" y="445.88" font-size="6.60" text-anchor="end">30</text>
<text x="497.94" y="533.00" font-size="6.60" text-anchor="middle">40</text>
<text x="383.20" y="418.44" font-size="6.60" text-anchor="end">40</text>
<text x="526.10" y="533.00" font-size="6.60" text-anchor="middle">50</text>
<text x="383.20" y="391.00" font-size="6.60" text-anchor="end">50</text>
<text x="426.05" y="542.90" font-size="8.40" textLength="58.25" lengthAdjust="spacingAndGlyphs">GPS IWV [mm]</text>
<g transform="translate(371.40 458.10) rotate(-90)"><text x="-30.37" y="0.00" font-size="8.50" textLength="60.91" lengthAdjust="spacingAndGlyphs">OLCI IWV [mm]</text></g>
</g>
</svg></body></html>
